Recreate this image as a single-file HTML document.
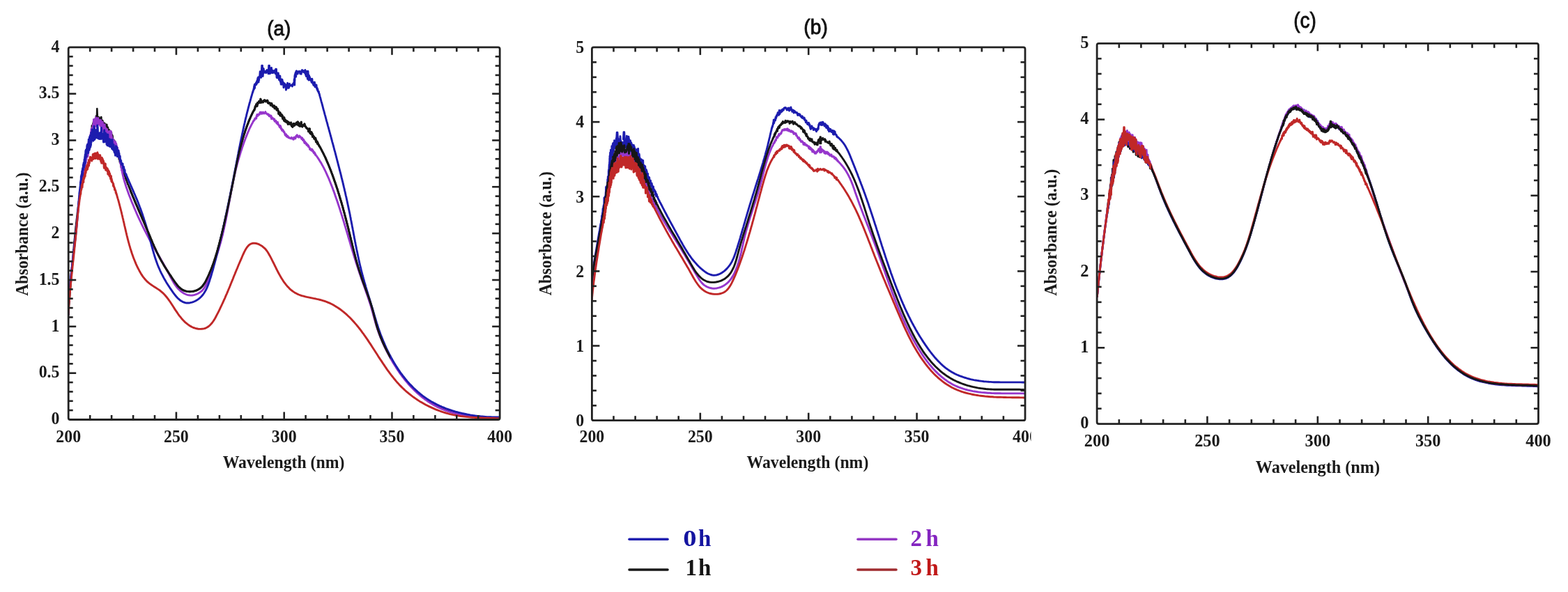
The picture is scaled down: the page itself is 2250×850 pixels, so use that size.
<!DOCTYPE html>
<html><head><meta charset="utf-8"><style>
html,body{margin:0;padding:0;background:#fff;}
svg{display:block;filter:blur(0.6px);}
</style></head><body>
<svg width="2250" height="850" viewBox="0 0 2250 850">
<defs><clipPath id="ca"><rect x="98.2" y="37.8" width="619.0" height="564.7"/></clipPath><clipPath id="cct"><rect x="1652" y="60" width="560" height="552"/></clipPath><clipPath id="cat"><rect x="186" y="60" width="374" height="545"/></clipPath><clipPath id="cb"><rect x="849.4" y="37.900000000000006" width="621.6" height="565.8000000000001"/></clipPath><clipPath id="cbl"><rect x="0" y="0" width="1479.4" height="850"/></clipPath><clipPath id="cc"><rect x="1574.1" y="32.3" width="633.4000000000001" height="576.3000000000001"/></clipPath></defs>
<rect width="2250" height="850" fill="#fff"/>
<polyline points="97.8,452.0 98.0,449.6 98.2,447.2 98.3,444.8 98.5,442.4 98.7,440.0 98.9,437.7 99.1,435.3 99.3,432.9 99.5,430.5 99.7,428.1 99.9,425.7 100.1,423.3 100.3,420.9 100.5,418.5 100.7,416.1 100.9,413.8 101.1,411.4 101.3,409.0 101.5,406.6 101.7,404.2 101.9,401.8 102.1,399.4 102.3,397.0 102.5,394.6 102.7,392.2 102.9,389.8 103.1,387.5 103.3,385.1 103.5,382.7 103.7,380.3 103.9,377.9 104.1,375.5 104.3,373.1 104.5,370.7 104.8,368.3 105.0,365.9 105.2,363.5 105.4,361.1 105.6,358.7 105.9,356.4 106.1,354.0 106.3,351.6 106.5,349.2 106.8,346.8 107.0,344.4 107.3,342.0 107.5,339.6 107.7,337.2 108.0,334.8 108.2,332.5 108.5,330.1 108.7,327.7 109.0,325.3 109.2,322.9 109.5,320.5 109.8,318.1 110.0,315.7 110.3,313.4 110.6,311.0 110.9,308.6 111.1,306.2 111.4,303.8 111.7,301.4 112.0,299.1 112.3,296.7 112.6,294.3 112.9,291.9 113.2,289.5 113.5,287.2 113.8,284.8 114.1,282.4 114.4,280.0 114.8,277.7 115.1,275.3 115.4,272.9 115.7,270.5 116.1,268.2 116.4,265.8 116.8,263.4 117.1,261.1 117.5,258.7 117.8,256.3 118.2,253.9 118.6,251.8 118.7,250.8 118.8,250.0 118.9,249.9 118.9,249.4 119.0,248.8 119.1,248.2 119.2,247.4 119.3,246.6 119.4,246.0 119.5,245.6 119.6,244.9 119.7,245.0 119.8,244.3 119.9,242.6 120.0,243.2 120.1,242.2 120.2,242.3 120.3,242.1 120.4,240.8 120.5,238.5 120.6,239.8 120.7,237.4 120.8,239.4 120.9,236.9 121.0,236.7 121.1,238.1 121.2,234.0 121.3,235.2 121.5,233.4 121.6,233.4 121.7,232.5 121.8,233.6 121.9,231.9 122.0,232.1 122.1,231.9 122.2,228.3 122.3,231.7 122.5,229.0 122.6,226.4 122.7,227.2 122.8,228.8 122.9,228.5 123.0,225.3 123.2,226.0 123.3,225.6 123.4,226.3 123.5,223.8 123.7,225.1 123.8,221.3 123.9,221.0 124.0,222.9 124.2,222.4 124.3,220.4 124.4,221.1 124.6,219.7 124.7,220.2 124.8,220.3 125.0,218.5 125.1,218.5 125.2,215.7 125.4,214.8 125.5,210.9 125.7,215.4 125.8,214.1 125.9,214.5 126.1,209.4 126.2,211.4 126.4,210.7 126.5,207.8 126.7,212.2 126.8,212.2 127.0,207.0 127.1,209.6 127.3,211.4 127.4,205.3 127.6,208.9 127.7,209.4 127.8,209.4 128.0,202.7 128.1,202.7 128.3,204.5 128.4,205.8 128.6,200.6 128.7,201.0 128.8,199.7 129.0,203.3 129.1,199.6 129.2,201.1 129.4,200.7 129.5,201.1 129.6,199.1 129.8,198.4 129.9,199.4 130.0,197.5 130.1,193.6 130.2,194.4 130.3,196.6 130.4,194.6 130.5,193.1 130.6,193.6 130.7,197.4 130.8,191.9 130.9,192.4 131.0,191.8 131.1,189.8 131.2,192.0 131.3,190.8 131.4,189.3 131.6,185.4 131.7,189.9 131.8,188.3 131.9,186.1 132.0,180.4 132.1,184.9 132.2,182.1 132.4,183.4 132.5,182.2 132.6,181.0 132.8,184.0 132.9,181.6 133.1,183.2 133.3,178.2 133.4,179.1 133.6,181.5 133.8,178.8 134.0,176.1 134.2,175.1 134.4,175.0 134.6,175.3 134.9,176.2 135.1,174.5 135.4,175.1 135.6,174.7 135.9,172.7 136.2,174.4 136.5,172.8 136.8,170.5 137.1,170.1 137.4,170.0 137.8,168.3 138.1,166.8 138.5,169.3 138.9,168.1 139.3,170.2 139.7,167.8 140.1,169.3 140.5,169.6 140.9,168.4 141.4,170.0 141.8,168.3 142.2,169.2 142.7,172.1 143.1,171.6 143.5,171.2 144.0,169.9 144.4,173.4 144.8,176.6 145.2,168.3 145.6,175.5 146.0,174.2 146.4,176.6 146.8,177.2 147.2,173.1 147.6,179.5 148.0,175.1 148.4,176.3 148.8,178.7 149.2,177.8 149.5,179.1 149.9,177.9 150.3,177.3 150.6,180.2 151.0,178.3 151.4,184.1 151.7,182.3 152.1,185.3 152.5,180.1 152.8,178.9 153.2,179.0 153.5,183.5 153.9,182.1 154.2,186.1 154.6,182.8 154.9,183.5 155.2,187.5 155.6,186.5 155.9,189.3 156.2,190.0 156.5,189.6 156.9,186.8 157.2,188.1 157.5,195.0 157.8,190.4 158.1,192.0 158.4,192.1 158.7,192.3 159.0,192.5 159.2,192.3 159.5,192.9 159.8,190.3 160.1,198.4 160.3,195.3 160.6,193.4 160.8,197.6 161.1,198.4 161.3,194.7 161.6,197.1 161.8,201.7 162.1,200.3 162.3,200.6 162.5,202.3 162.8,200.6 163.0,200.8 163.2,205.1 163.4,202.1 163.6,202.9 163.8,204.9 164.0,204.2 164.2,202.3 164.4,209.0 164.6,205.7 164.8,210.0 165.0,208.0 165.2,205.8 165.4,211.1 165.6,208.3 165.8,207.6 166.0,209.8 166.2,206.2 166.3,211.8 166.5,210.1 166.7,211.6 166.9,211.0 167.0,214.6 167.2,214.5 167.4,216.5 167.6,218.2 167.7,216.1 167.9,216.3 168.1,217.3 168.2,215.8 168.4,216.8 168.6,219.9 168.7,217.4 168.9,215.9 169.0,219.6 169.2,221.3 169.4,224.2 169.5,220.6 169.7,220.8 169.9,223.3 170.0,223.4 170.2,224.8 170.3,223.9 170.5,225.8 170.7,224.9 170.8,228.5 171.0,227.7 171.2,228.9 171.3,227.5 171.5,226.2 171.7,229.5 171.9,230.0 172.0,232.7 172.2,233.1 172.4,231.8 172.5,232.3 172.7,231.1 172.9,233.5 173.1,234.5 173.2,233.9 173.4,233.3 173.6,238.2 173.8,234.7 174.0,240.1 174.1,239.8 174.3,241.0 174.5,237.1 174.7,240.4 174.9,237.3 175.1,239.8 175.2,238.3 175.4,240.3 175.6,241.2 175.8,244.3 176.0,245.0 176.2,243.2 176.4,243.9 176.6,243.5 176.8,243.8 176.9,243.4 177.1,246.3 177.3,248.0 177.5,246.7 177.7,248.8 177.9,247.4 178.1,248.2 178.3,249.3 178.5,251.6 178.7,250.5 178.9,252.5 179.1,251.9 179.3,251.6 179.5,251.3 179.7,253.5 179.9,253.6 180.1,255.8 180.3,256.0 180.5,254.8 180.7,257.4 180.9,257.7 181.1,255.9 181.3,257.7 181.5,259.1 181.8,258.5 182.0,259.6 182.2,260.9 182.4,261.3 182.6,261.9 182.8,262.5 183.0,262.5 183.2,264.1 183.4,264.1 183.6,265.0 183.9,265.0 184.7,267.3 185.6,269.5 186.5,271.7 187.3,273.9 188.2,276.1 189.1,278.3 190.0,280.5 190.9,282.7 191.9,285.0 192.8,287.2 193.7,289.4 194.6,291.6 195.6,293.8 196.5,296.0 197.5,298.2 198.4,300.4 199.4,302.6 200.3,304.8 201.3,307.0 202.2,309.2 203.2,311.4 204.1,313.6 205.1,315.8 206.1,318.0 207.0,320.2 208.0,322.5 208.9,324.7 209.8,326.9 210.8,329.1 211.7,331.3 212.7,333.5 213.6,335.7 214.5,337.9 215.4,340.1 216.3,342.4 217.3,344.6 218.2,346.8 219.1,349.0 220.1,351.2 221.0,353.4 222.0,355.5 223.0,357.7 224.0,359.9 225.0,362.0 226.1,364.2 227.2,366.3 228.3,368.4 229.4,370.5 230.5,372.6 231.7,374.7 232.9,376.8 234.1,378.9 235.3,381.0 236.5,383.0 237.8,385.1 239.1,387.1 240.4,389.1 241.7,391.2 243.0,393.2 244.3,395.2 245.7,397.2 247.0,399.2 248.4,401.3 249.8,403.3 251.2,405.3 252.6,407.2 254.1,409.2 255.6,411.0 257.3,412.7 259.0,414.2 260.9,415.6 262.9,416.7 265.1,417.6 267.4,418.2 269.8,418.6 272.3,418.7 274.8,418.6 277.3,418.3 279.8,417.7 282.1,416.9 284.3,415.8 286.4,414.6 288.2,413.1 289.9,411.5 291.4,409.7 292.8,407.7 294.1,405.7 295.3,403.6 296.4,401.4 297.5,399.2 298.5,397.0 299.5,394.8 300.5,392.6 301.4,390.4 302.4,388.2 303.3,385.9 304.1,383.7 305.0,381.4 305.8,379.2 306.6,376.9 307.4,374.6 308.1,372.3 308.9,370.0 309.6,367.8 310.3,365.5 311.0,363.2 311.6,360.9 312.3,358.6 312.9,356.2 313.6,353.9 314.2,351.6 314.8,349.3 315.4,347.0 316.0,344.7 316.6,342.3 317.2,340.0 317.8,337.7 318.4,335.4 318.9,333.0 319.5,330.7 320.1,328.4 320.6,326.0 321.2,323.7 321.7,321.4 322.2,319.0 322.8,316.7 323.3,314.4 323.8,312.0 324.3,309.7 324.9,307.4 325.4,305.0 325.9,302.7 326.4,300.3 326.9,298.0 327.4,295.6 327.9,293.3 328.4,290.9 328.8,288.6 329.3,286.2 329.8,283.9 330.3,281.5 330.8,279.2 331.2,276.8 331.7,274.5 332.2,272.1 332.7,269.8 333.1,267.4 333.6,265.1 334.1,262.7 334.5,260.3 335.0,258.0 335.5,255.6 335.9,253.3 336.4,250.9 336.9,248.5 337.3,246.2 337.8,243.8 338.3,241.5 338.8,239.1 339.3,236.8 339.8,234.4 340.3,232.0 340.8,229.7 341.3,227.4 341.8,225.0 342.3,222.7 342.9,220.3 343.4,218.0 344.0,215.7 344.6,213.3 345.2,211.0 345.8,208.7 346.4,206.4 347.0,204.1 347.7,201.8 348.3,199.5 349.0,197.2 349.7,194.9 350.4,192.6 351.2,190.4 351.9,188.1 352.7,185.8 353.5,183.6 354.3,181.3 355.1,179.1 356.0,176.9 356.8,174.6 357.7,172.4 358.7,170.2 359.6,168.0 360.6,165.9 361.6,163.7 362.6,161.6 362.9,160.9 363.2,160.5 363.5,160.0 363.7,159.7 364.0,158.9 364.3,158.3 364.6,158.0 364.9,158.2 365.2,156.6 365.5,156.6 365.8,155.6 366.2,152.9 366.5,153.4 366.8,152.7 367.1,151.5 367.5,151.9 367.8,149.6 368.2,152.0 368.5,150.2 368.9,152.4 369.2,150.6 369.6,147.5 370.0,148.6 370.4,148.5 370.8,147.0 371.2,147.0 371.6,145.5 372.1,145.6 372.5,146.8 373.0,145.5 373.4,147.5 373.9,142.2 374.4,144.0 374.9,144.4 375.4,147.0 375.9,146.3 376.4,145.7 376.9,146.0 377.5,146.9 378.1,145.5 378.6,144.2 379.2,144.9 379.8,143.7 380.4,144.6 381.0,145.7 381.6,144.6 382.1,145.7 382.7,145.2 383.3,144.1 383.9,144.2 384.4,147.7 385.0,147.0 385.6,148.5 386.1,147.5 386.6,147.9 387.2,148.7 387.7,148.1 388.2,151.0 388.7,150.8 389.2,150.3 389.7,148.5 390.1,149.6 390.6,151.1 391.1,152.9 391.5,151.5 392.0,151.9 392.4,153.2 392.8,153.0 393.3,153.0 393.7,151.9 394.1,155.9 394.5,154.4 394.9,154.2 395.3,155.2 395.7,153.8 396.1,153.7 396.5,154.0 396.9,157.7 397.3,155.7 397.6,158.3 398.0,156.8 398.4,156.4 398.8,158.6 399.1,158.9 399.5,159.5 399.9,163.6 400.2,161.8 400.6,161.1 400.9,163.8 401.3,162.5 401.6,165.3 402.0,161.6 402.3,166.1 402.7,163.3 403.1,164.4 403.4,166.3 403.8,164.9 404.1,164.5 404.5,166.9 404.8,167.5 405.2,166.0 405.6,170.4 405.9,168.2 406.3,169.0 406.7,170.1 407.0,171.0 407.4,173.0 407.8,168.6 408.2,172.3 408.6,174.1 408.9,173.5 409.3,173.5 409.7,172.3 410.2,174.9 410.6,174.0 411.0,175.3 411.4,173.9 411.8,175.4 412.3,176.0 412.7,174.3 413.2,178.3 413.6,176.9 414.1,175.4 414.6,177.2 415.1,178.0 415.6,177.5 416.1,176.6 416.6,178.0 417.1,176.4 417.6,176.1 418.2,180.4 418.7,181.3 419.3,181.6 419.9,182.2 420.4,180.9 421.0,177.4 421.7,177.9 422.3,180.3 422.9,177.8 423.5,177.9 424.2,178.3 424.8,178.8 425.5,176.1 426.1,178.1 426.7,178.8 427.4,175.0 428.0,179.8 428.6,179.3 429.2,177.0 429.8,181.1 430.5,179.1 431.0,179.4 431.6,181.1 432.2,175.2 432.8,179.2 433.4,181.1 433.9,181.9 434.5,179.9 435.0,180.0 435.5,179.4 436.0,180.4 436.5,179.9 437.0,177.9 437.5,181.0 438.0,180.7 438.4,181.7 438.9,182.3 439.3,182.7 439.8,183.9 440.2,184.1 440.6,184.1 441.0,184.1 441.4,185.3 441.8,185.4 442.2,186.1 442.6,188.8 443.0,187.6 443.3,187.1 443.7,185.0 444.1,186.4 444.5,185.0 444.8,190.8 445.2,191.6 445.6,189.8 445.9,190.2 446.3,192.1 446.6,192.7 447.0,189.7 447.4,192.4 447.7,192.8 448.1,191.8 448.4,196.3 448.7,195.8 449.1,194.3 449.4,195.6 449.8,195.3 450.1,195.9 450.5,196.5 450.8,199.1 451.1,198.1 451.5,197.9 451.8,198.0 452.1,199.9 452.4,198.8 452.8,198.4 453.1,200.9 453.4,203.5 453.7,201.2 454.1,202.7 454.4,202.8 454.7,204.8 455.0,204.5 455.3,203.4 455.6,206.5 455.9,205.6 456.2,205.4 456.5,206.3 456.8,207.1 457.1,208.2 457.4,208.0 457.7,208.3 458.0,209.7 458.3,210.2 458.6,210.1 458.9,210.8 460.1,212.8 461.2,214.9 462.3,217.1 463.4,219.2 464.5,221.4 465.5,223.5 466.6,225.7 467.6,227.9 468.5,230.1 469.5,232.3 470.5,234.6 471.4,236.8 472.3,239.0 473.2,241.3 474.1,243.5 475.0,245.8 475.8,248.0 476.7,250.3 477.5,252.6 478.3,254.8 479.1,257.1 479.9,259.4 480.7,261.6 481.5,263.9 482.3,266.2 483.0,268.5 483.8,270.7 484.5,273.0 485.2,275.3 485.9,277.6 486.7,279.9 487.3,282.2 488.0,284.5 488.7,286.8 489.4,289.0 490.1,291.3 490.7,293.6 491.4,295.9 492.0,298.2 492.6,300.6 493.3,302.9 493.9,305.2 494.5,307.5 495.1,309.8 495.7,312.1 496.3,314.4 496.9,316.7 497.5,319.1 498.1,321.4 498.7,323.7 499.3,326.0 499.9,328.3 500.4,330.7 501.0,333.0 501.6,335.3 502.1,337.7 502.7,340.0 503.3,342.3 503.8,344.6 504.4,347.0 505.0,349.3 505.5,351.7 506.1,354.0 506.7,356.3 507.2,358.7 507.8,361.0 508.4,363.3 509.0,365.7 509.6,368.0 510.2,370.3 510.8,372.6 511.5,374.9 512.1,377.3 512.8,379.6 513.4,381.9 514.1,384.2 514.8,386.5 515.5,388.8 516.3,391.1 517.0,393.3 517.8,395.6 518.5,397.9 519.3,400.2 520.1,402.4 520.9,404.7 521.7,406.9 522.6,409.2 523.4,411.4 524.2,413.7 525.0,416.0 525.9,418.2 526.7,420.5 527.5,422.7 528.3,425.0 529.1,427.2 529.9,429.5 530.6,431.8 531.4,434.1 532.1,436.3 532.8,438.6 533.5,440.9 534.2,443.2 534.8,445.5 535.4,447.9 536.1,450.2 536.6,452.5 537.2,454.8 537.8,457.2 538.4,459.5 539.0,461.8 539.6,464.2 540.2,466.5 540.9,468.8 541.6,471.0 542.3,473.3 543.1,475.6 543.9,477.8 544.7,480.1 545.5,482.3 546.4,484.6 547.3,486.8 548.2,489.0 549.1,491.2 550.1,493.3 551.1,495.5 552.1,497.7 553.2,499.9 554.3,502.0 555.3,504.1 556.5,506.3 557.6,508.4 558.7,510.5 559.9,512.6 561.1,514.7 562.3,516.8 563.6,518.9 564.8,521.0 566.1,523.0 567.4,525.1 568.7,527.1 570.0,529.2 571.4,531.2 572.7,533.2 574.1,535.1 575.5,537.1 577.0,539.1 578.4,541.0 579.9,542.9 581.4,544.8 582.9,546.6 584.5,548.5 586.0,550.3 587.6,552.1 589.2,553.9 590.9,555.6 592.5,557.3 594.2,559.0 595.9,560.7 597.6,562.3 599.4,563.9 601.2,565.5 603.0,567.1 604.8,568.6 606.6,570.1 608.5,571.5 610.4,572.9 612.3,574.3 614.3,575.6 616.2,577.0 618.2,578.2 620.2,579.5 622.3,580.6 624.4,581.8 626.5,582.9 628.6,584.0 630.7,585.0 632.9,586.0 635.1,586.9 637.4,587.8 639.6,588.7 641.9,589.5 644.2,590.3 646.5,591.0 648.8,591.7 651.1,592.4 653.5,593.0 655.8,593.6 658.2,594.2 660.6,594.7 663.0,595.2 665.4,595.7 667.8,596.2 670.2,596.6 672.7,597.0 675.1,597.3 677.5,597.7 679.9,598.0 682.4,598.3 684.8,598.6 687.2,598.8 689.6,599.1 692.0,599.3 694.4,599.5 696.8,599.7 699.2,599.8 701.6,600.0 703.9,600.1 706.3,600.2 708.6,600.3 710.9,600.4 713.2,600.5 715.5,600.6 716.6,600.6" fill="none" stroke="#161616" stroke-width="2.9" stroke-linejoin="round" stroke-linecap="round" clip-path="url(#ca)"/><polyline points="98.0,452.0 98.0,449.6 98.1,447.2 98.2,444.8 98.3,442.4 98.4,440.0 98.5,437.6 98.6,435.2 98.8,432.8 98.9,430.4 99.1,428.0 99.2,425.6 99.4,423.2 99.6,420.9 99.8,418.5 100.0,416.1 100.2,413.7 100.4,411.3 100.6,408.9 100.8,406.5 101.0,404.1 101.3,401.7 101.5,399.3 101.8,397.0 102.0,394.6 102.3,392.2 102.5,389.8 102.8,387.4 103.0,385.0 103.3,382.6 103.6,380.3 103.9,377.9 104.1,375.5 104.4,373.1 104.7,370.7 105.0,368.3 105.2,365.9 105.5,363.6 105.8,361.2 106.1,358.8 106.4,356.4 106.6,354.0 106.9,351.6 107.2,349.2 107.5,346.9 107.7,344.5 108.0,342.1 108.3,339.7 108.5,337.3 108.8,334.9 109.0,332.5 109.3,330.2 109.5,327.8 109.8,325.4 110.0,323.0 110.3,320.6 110.5,318.2 110.7,315.8 110.9,313.5 111.2,311.1 111.4,308.7 111.6,306.3 111.8,303.9 112.0,301.5 112.3,299.1 112.5,296.7 112.7,294.4 113.0,292.0 113.2,289.6 113.5,287.2 113.7,284.8 114.0,282.4 114.2,280.1 114.5,277.7 114.8,275.3 115.1,272.9 115.4,270.6 115.8,268.2 116.1,265.7 116.4,264.1 116.5,263.3 116.6,262.7 116.7,262.6 116.7,261.7 116.8,260.9 116.9,261.5 117.0,259.6 117.1,258.4 117.2,257.7 117.3,257.7 117.4,258.1 117.5,257.7 117.6,257.4 117.7,257.7 117.8,257.0 117.9,255.3 118.1,255.6 118.2,254.2 118.3,252.0 118.4,253.4 118.5,251.7 118.6,250.7 118.7,253.8 118.8,251.2 118.9,248.4 119.1,248.6 119.2,252.6 119.3,247.1 119.4,248.5 119.5,247.7 119.7,246.9 119.8,246.6 119.9,243.5 120.0,242.9 120.2,243.1 120.3,241.9 120.4,244.4 120.5,245.9 120.7,238.6 120.8,242.1 120.9,237.0 121.0,237.2 121.2,238.0 121.3,238.5 121.4,236.2 121.6,228.6 121.7,241.0 121.8,234.9 121.9,233.1 122.1,236.6 122.2,235.9 122.3,228.8 122.5,229.6 122.6,230.5 122.7,231.7 122.9,234.8 123.0,230.4 123.1,223.9 123.3,233.3 123.4,227.7 123.5,228.3 123.7,223.8 123.8,225.9 123.9,224.7 124.1,229.4 124.2,219.6 124.3,225.2 124.5,219.4 124.6,226.1 124.7,216.0 124.9,218.9 125.0,219.3 125.1,223.0 125.3,213.6 125.4,219.2 125.5,214.7 125.6,215.2 125.8,217.7 125.9,224.8 126.0,216.6 126.2,223.6 126.3,210.4 126.4,221.9 126.5,212.4 126.7,209.0 126.8,217.4 126.9,219.4 127.0,204.3 127.2,207.9 127.3,215.4 127.4,207.9 127.5,205.8 127.7,201.4 127.8,201.4 127.9,210.0 128.0,215.3 128.1,215.0 128.2,206.5 128.4,198.2 128.5,202.4 128.6,209.2 128.7,209.4 128.8,205.7 128.9,198.6 129.0,202.8 129.1,201.4 129.2,203.2 129.4,196.8 129.5,207.1 129.6,205.7 129.7,193.4 129.8,194.9 129.9,203.7 130.0,193.6 130.1,203.6 130.2,196.2 130.3,198.5 130.3,198.1 130.4,189.6 130.5,190.2 130.6,189.1 130.7,195.4 130.8,195.0 130.9,185.4 131.0,196.9 131.1,188.8 131.3,185.4 131.4,187.9 131.5,196.0 131.6,188.7 131.8,189.2 131.9,193.3 132.1,193.3 132.2,189.5 132.4,183.4 132.6,185.5 132.8,189.9 133.0,187.5 133.2,183.6 133.4,179.2 133.7,178.9 133.9,184.1 134.2,180.7 134.5,171.4 134.8,181.8 135.1,184.3 135.4,182.1 135.7,183.1 136.1,182.8 136.4,176.4 136.8,180.0 137.2,173.1 137.6,168.3 138.0,172.2 138.4,171.4 138.8,181.3 139.2,177.4 139.7,175.2 140.1,176.6 140.6,168.9 141.0,175.7 141.5,178.7 142.0,174.2 142.4,172.3 142.9,175.3 143.3,174.4 143.8,180.7 144.2,172.6 144.6,172.3 145.1,176.4 145.5,183.1 145.9,184.6 146.3,183.6 146.6,188.5 147.0,179.9 147.3,175.0 147.6,182.8 148.0,182.6 148.3,178.8 148.6,187.1 148.9,182.4 149.2,181.2 149.6,183.0 149.9,193.4 150.2,178.8 150.6,184.9 150.9,184.1 151.3,183.3 151.6,187.5 152.0,184.5 152.4,196.2 152.7,189.9 153.1,193.6 153.5,185.4 153.9,190.7 154.3,193.5 154.7,197.7 155.0,188.7 155.4,192.5 155.8,199.3 156.2,197.7 156.6,196.3 157.0,192.2 157.4,188.1 157.8,194.3 158.2,191.3 158.6,201.0 158.9,191.6 159.3,188.4 159.7,192.6 160.1,196.9 160.4,195.7 160.8,205.1 161.2,198.5 161.5,205.0 161.9,199.4 162.2,204.4 162.5,204.2 162.8,205.0 163.2,201.0 163.5,203.3 163.8,210.5 164.1,206.8 164.4,203.9 164.6,213.6 164.9,204.1 165.2,205.4 165.4,212.4 165.7,203.7 166.0,208.2 166.2,210.8 166.4,206.4 166.7,206.3 166.9,207.3 167.1,208.6 167.4,209.0 167.6,214.6 167.8,213.0 168.0,216.4 168.2,212.6 168.4,216.6 168.6,212.0 168.8,218.5 168.9,217.4 169.1,218.5 169.3,217.6 169.5,224.0 169.6,218.2 169.8,219.4 169.9,222.1 170.1,217.2 170.3,222.0 170.4,220.2 170.5,222.2 170.7,221.4 170.8,225.9 171.0,226.8 171.1,225.3 171.2,224.3 171.4,226.1 171.5,226.2 171.6,226.9 171.7,227.9 171.9,228.6 172.0,229.6 172.1,229.1 172.2,228.8 172.3,230.9 172.4,232.0 172.5,230.7 172.7,234.8 172.8,232.5 172.9,233.2 173.0,233.5 173.1,233.3 173.2,233.9 173.3,236.4 173.4,235.3 173.5,235.5 173.6,236.1 173.7,238.2 173.8,237.4 173.9,239.8 174.0,239.3 174.1,241.3 174.3,239.8 174.4,241.7 174.5,242.1 174.6,244.9 174.7,242.0 174.8,244.3 174.9,244.1 175.0,243.7 175.1,245.7 175.3,245.9 175.4,246.4 175.5,248.2 175.6,248.4 175.7,247.9 175.9,249.7 176.0,250.2 176.1,250.8 176.3,251.4 176.4,251.9 176.5,252.5 176.7,253.0 176.8,253.8 177.0,254.0 177.1,254.5 177.2,255.8 177.9,257.6 178.5,260.0 179.2,262.2 179.9,264.5 180.6,266.8 181.3,269.1 182.1,271.3 182.9,273.6 183.7,275.8 184.5,278.1 185.3,280.3 186.2,282.5 187.1,284.8 188.0,287.0 188.8,289.2 189.7,291.4 190.7,293.6 191.6,295.8 192.5,298.1 193.5,300.3 194.4,302.5 195.4,304.7 196.3,306.9 197.3,309.1 198.3,311.3 199.3,313.4 200.3,315.6 201.4,317.8 202.4,320.0 203.4,322.1 204.5,324.3 205.5,326.5 206.6,328.6 207.7,330.8 208.8,332.9 209.9,335.0 211.0,337.2 212.1,339.3 213.2,341.4 214.3,343.5 215.5,345.6 216.6,347.7 217.8,349.8 219.0,351.9 220.1,354.0 221.3,356.0 222.5,358.1 223.7,360.2 224.9,362.2 226.1,364.3 227.3,366.3 228.5,368.4 229.7,370.5 230.9,372.5 232.1,374.6 233.3,376.7 234.5,378.8 235.7,380.9 236.8,383.0 238.0,385.1 239.2,387.2 240.3,389.3 241.5,391.5 242.6,393.6 243.7,395.8 244.8,398.0 246.0,400.1 247.2,402.3 248.4,404.4 249.6,406.4 250.9,408.4 252.3,410.4 253.7,412.3 255.2,414.1 256.9,415.8 258.6,417.4 260.4,418.9 262.4,420.3 264.4,421.5 266.6,422.5 268.8,423.3 271.1,423.8 273.5,424.1 275.9,424.0 278.3,423.6 280.7,422.9 283.1,422.0 285.3,420.8 287.4,419.4 289.4,417.9 291.1,416.1 292.6,414.3 293.9,412.3 295.0,410.2 296.1,408.0 297.0,405.8 297.9,403.6 298.7,401.3 299.6,399.0 300.4,396.8 301.2,394.5 302.1,392.2 302.9,389.9 303.7,387.7 304.5,385.4 305.3,383.1 306.1,380.9 306.9,378.6 307.7,376.3 308.5,374.1 309.3,371.8 310.0,369.5 310.8,367.3 311.5,365.0 312.3,362.7 313.0,360.4 313.7,358.1 314.4,355.8 315.0,353.5 315.7,351.2 316.4,348.9 317.0,346.6 317.6,344.3 318.2,342.0 318.8,339.7 319.4,337.4 319.9,335.0 320.5,332.7 321.0,330.3 321.5,328.0 322.0,325.7 322.5,323.3 323.0,321.0 323.5,318.6 324.0,316.2 324.4,313.9 324.9,311.5 325.4,309.2 325.8,306.8 326.3,304.4 326.7,302.1 327.1,299.7 327.6,297.3 328.0,295.0 328.4,292.6 328.9,290.2 329.3,287.9 329.7,285.5 330.2,283.1 330.6,280.8 331.1,278.4 331.5,276.0 331.9,273.7 332.4,271.3 332.9,269.0 333.3,266.6 333.8,264.2 334.3,261.9 334.8,259.5 335.3,257.2 335.8,254.9 336.3,252.5 336.8,250.2 337.3,247.8 337.9,245.5 338.4,243.2 339.0,240.9 339.6,238.6 340.2,236.3 340.8,233.9 341.5,231.6 342.1,229.4 342.8,227.1 343.5,224.8 344.2,222.5 344.9,220.2 345.6,217.9 346.3,215.7 347.1,213.4 347.8,211.1 348.6,208.9 349.4,206.6 350.2,204.3 351.0,202.1 351.9,199.8 352.7,197.6 353.6,195.4 354.5,193.1 355.4,190.9 356.4,188.6 357.3,186.4 358.3,184.2 359.4,182.0 360.5,179.9 361.6,177.7 362.8,175.6 363.4,174.0 363.7,174.2 364.0,173.5 364.3,173.3 364.7,172.2 365.0,172.1 365.3,172.2 365.7,170.3 366.0,170.7 366.3,169.7 366.7,169.9 367.0,169.8 367.4,169.0 367.8,170.2 368.1,166.7 368.5,167.2 368.9,164.4 369.3,165.6 369.7,166.2 370.1,166.3 370.5,164.3 370.9,164.4 371.3,164.0 371.8,164.0 372.2,164.5 372.6,163.0 373.1,161.3 373.5,162.8 374.0,161.7 374.5,161.0 375.0,163.4 375.5,163.1 376.0,161.9 376.5,162.3 377.0,163.1 377.5,161.1 378.1,161.7 378.6,162.1 379.2,163.0 379.8,161.9 380.4,162.2 380.9,160.6 381.5,162.4 382.1,163.2 382.7,162.9 383.3,163.5 383.9,164.5 384.5,164.5 385.1,163.8 385.7,166.0 386.3,166.8 386.9,165.3 387.4,166.0 388.0,166.6 388.6,168.1 389.1,166.1 389.6,170.8 390.1,168.4 390.6,170.2 391.1,169.2 391.6,170.3 392.0,170.1 392.5,171.4 392.9,171.1 393.3,172.6 393.8,171.0 394.2,174.4 394.6,172.9 395.0,174.3 395.3,173.5 395.7,173.6 396.1,173.5 396.4,175.1 396.8,176.8 397.2,176.7 397.5,177.0 397.8,177.3 398.2,178.3 398.5,175.4 398.9,178.0 399.2,178.2 399.5,178.4 399.9,179.8 400.2,180.3 400.5,179.9 400.8,181.3 401.2,182.6 401.5,181.1 401.9,181.4 402.2,180.5 402.5,183.6 402.9,181.7 403.2,184.8 403.6,184.0 404.0,185.9 404.3,184.9 404.7,187.4 405.1,186.9 405.5,186.7 405.9,186.5 406.2,188.2 406.6,187.7 407.1,189.5 407.5,189.0 407.9,189.6 408.3,190.6 408.7,192.2 409.2,194.0 409.6,192.9 410.0,193.3 410.5,192.7 410.9,195.9 411.4,194.1 411.8,195.9 412.3,196.7 412.7,195.1 413.2,196.5 413.7,196.4 414.1,197.7 414.6,197.4 415.1,197.5 415.5,198.3 416.0,198.4 416.5,198.4 417.0,198.7 417.5,198.9 418.0,197.8 418.4,197.4 418.9,198.8 419.4,199.2 419.9,198.5 420.4,198.9 420.9,200.3 421.4,200.2 421.9,197.1 422.4,197.2 422.9,197.6 423.4,198.2 423.9,199.0 424.4,196.9 424.8,195.3 425.3,196.3 425.8,195.2 426.3,193.8 426.8,195.1 427.3,196.5 427.7,196.3 428.2,196.2 428.7,197.2 429.1,196.5 429.6,194.9 430.0,196.1 430.5,196.6 430.9,196.0 431.4,197.3 431.8,197.4 432.3,198.3 432.7,199.5 433.2,198.5 433.6,197.9 434.0,199.4 434.5,201.5 434.9,200.4 435.3,200.0 435.8,201.7 436.2,201.4 436.6,204.7 437.1,205.4 437.5,204.6 437.9,203.6 438.3,205.2 438.8,206.5 439.2,206.3 439.6,205.5 440.0,208.2 440.5,207.7 440.9,207.1 441.3,208.9 441.7,207.8 442.1,210.4 442.6,209.0 443.0,209.9 443.4,211.4 443.8,211.6 444.2,211.9 444.6,214.5 445.0,213.2 445.4,213.7 445.8,214.3 446.2,215.4 446.6,216.0 447.0,214.2 447.4,215.0 447.8,216.4 448.1,214.5 448.5,217.1 448.9,216.9 449.3,216.3 449.6,218.6 450.0,218.1 450.4,219.8 450.7,218.8 451.1,218.5 451.5,220.7 451.8,219.7 452.2,220.9 452.5,222.4 452.9,221.8 453.2,222.6 453.6,223.5 453.9,223.5 454.3,223.9 454.6,224.5 455.9,226.4 457.2,228.4 458.5,230.4 459.7,232.4 461.0,234.4 462.1,236.5 463.3,238.6 464.4,240.7 465.5,242.9 466.6,245.0 467.6,247.2 468.6,249.4 469.6,251.6 470.6,253.8 471.6,256.0 472.5,258.2 473.4,260.5 474.3,262.7 475.2,265.0 476.1,267.3 477.0,269.5 477.8,271.8 478.7,274.1 479.5,276.3 480.3,278.6 481.1,280.9 481.9,283.2 482.7,285.4 483.5,287.7 484.3,290.0 485.0,292.3 485.8,294.6 486.5,296.8 487.3,299.1 488.0,301.4 488.7,303.7 489.5,306.0 490.2,308.3 490.9,310.5 491.6,312.8 492.3,315.1 493.0,317.4 493.7,319.7 494.4,322.0 495.1,324.3 495.8,326.6 496.4,328.9 497.1,331.1 497.8,333.4 498.5,335.7 499.2,338.0 499.8,340.3 500.5,342.6 501.2,344.9 501.9,347.2 502.6,349.5 503.2,351.8 503.9,354.1 504.6,356.3 505.3,358.6 506.0,360.9 506.7,363.2 507.4,365.5 508.1,367.8 508.8,370.1 509.5,372.3 510.2,374.6 510.9,376.9 511.7,379.2 512.4,381.5 513.2,383.8 513.9,386.0 514.7,388.3 515.4,390.6 516.2,392.9 517.0,395.1 517.8,397.4 518.5,399.7 519.3,402.0 520.1,404.2 520.9,406.5 521.7,408.8 522.5,411.1 523.3,413.3 524.1,415.6 524.9,417.9 525.7,420.2 526.5,422.4 527.3,424.7 528.1,427.0 528.8,429.3 529.6,431.6 530.3,433.9 531.1,436.1 531.8,438.4 532.5,440.7 533.1,443.0 533.8,445.3 534.5,447.6 535.1,450.0 535.7,452.3 536.4,454.6 537.0,456.9 537.6,459.2 538.3,461.5 538.9,463.8 539.6,466.1 540.3,468.4 541.0,470.6 541.8,472.9 542.5,475.1 543.3,477.4 544.1,479.6 545.0,481.9 545.9,484.1 546.8,486.3 547.7,488.5 548.6,490.7 549.6,492.9 550.6,495.1 551.6,497.3 552.6,499.4 553.7,501.6 554.7,503.7 555.8,505.9 556.9,508.0 558.1,510.1 559.2,512.3 560.4,514.4 561.6,516.5 562.8,518.6 564.0,520.7 565.3,522.7 566.6,524.8 567.9,526.8 569.2,528.9 570.5,530.9 571.9,532.9 573.2,534.9 574.6,536.9 576.1,538.8 577.5,540.8 579.0,542.7 580.4,544.6 582.0,546.5 583.5,548.3 585.0,550.1 586.6,552.0 588.2,553.7 589.8,555.5 591.5,557.2 593.2,558.9 594.8,560.6 596.6,562.3 598.3,563.9 600.1,565.5 601.8,567.0 603.7,568.6 605.5,570.1 607.4,571.5 609.2,573.0 611.2,574.3 613.1,575.7 615.1,577.0 617.0,578.3 619.1,579.5 621.1,580.7 623.2,581.9 625.2,583.0 627.4,584.1 629.5,585.2 631.7,586.1 633.9,587.1 636.1,588.0 638.3,588.9 640.6,589.7 642.9,590.5 645.2,591.3 647.5,592.0 649.8,592.7 652.2,593.3 654.5,593.9 656.9,594.5 659.3,595.0 661.7,595.5 664.1,596.0 666.5,596.5 668.9,596.9 671.3,597.3 673.8,597.7 676.2,598.0 678.6,598.3 681.1,598.6 683.5,598.9 685.9,599.1 688.3,599.3 690.7,599.5 693.1,599.7 695.5,599.9 697.9,600.0 700.3,600.1 702.7,600.3 705.0,600.3 707.4,600.4 709.7,600.5 712.0,600.5 714.3,600.6 716.6,600.6" fill="none" stroke="#9636cc" stroke-width="2.9" stroke-linejoin="round" stroke-linecap="round" clip-path="url(#ca)"/><polyline points="98.2,452.0 98.3,449.6 98.3,447.2 98.4,444.8 98.4,442.4 98.5,440.0 98.6,437.6 98.7,435.2 98.8,432.8 99.0,430.4 99.1,428.0 99.2,425.6 99.4,423.2 99.6,420.9 99.8,418.5 100.0,416.1 100.2,413.7 100.4,411.3 100.6,408.9 100.8,406.5 101.0,404.1 101.3,401.7 101.5,399.4 101.8,397.0 102.0,394.6 102.3,392.2 102.5,389.8 102.8,387.4 103.1,385.0 103.4,382.6 103.6,380.3 103.9,377.9 104.2,375.5 104.5,373.1 104.8,370.7 105.1,368.3 105.3,365.9 105.6,363.6 105.9,361.2 106.2,358.8 106.5,356.4 106.8,354.0 107.1,351.6 107.3,349.3 107.6,346.9 107.9,344.5 108.2,342.1 108.4,339.7 108.7,337.3 108.9,334.9 109.2,332.6 109.4,330.2 109.7,327.8 109.9,325.4 110.1,323.0 110.4,320.6 110.6,318.2 110.8,315.8 111.0,313.4 111.2,311.1 111.4,308.7 111.6,306.3 111.8,303.9 112.0,301.5 112.2,299.2 112.3,297.5 112.4,296.4 112.4,295.6 112.5,295.5 112.5,295.2 112.6,294.3 112.6,293.2 112.7,292.9 112.7,293.2 112.8,291.3 112.8,291.9 112.9,291.0 112.9,290.4 113.0,290.0 113.0,288.6 113.1,288.3 113.1,289.0 113.2,286.9 113.2,286.3 113.3,284.9 113.3,285.0 113.4,285.4 113.4,285.3 113.5,284.2 113.6,283.6 113.6,283.0 113.7,282.1 113.7,282.2 113.8,280.5 113.8,281.2 113.9,279.4 113.9,277.0 114.0,276.7 114.1,277.4 114.1,276.5 114.2,274.9 114.2,274.8 114.3,275.5 114.4,275.2 114.4,275.3 114.5,272.2 114.5,273.5 114.6,273.9 114.7,272.3 114.7,274.0 114.8,269.7 114.9,269.9 114.9,269.6 115.0,268.0 115.1,268.0 115.1,268.0 115.2,266.9 115.3,265.4 115.3,264.9 115.4,265.0 115.5,261.4 115.6,264.3 115.6,261.0 115.7,262.2 115.8,259.8 115.8,261.8 115.9,260.1 116.0,259.8 116.1,258.0 116.2,259.5 116.2,262.6 116.3,253.4 116.4,258.8 116.5,257.4 116.6,255.2 116.6,252.2 116.7,259.5 116.8,255.0 116.9,256.8 117.0,252.2 117.1,250.4 117.2,255.4 117.3,253.8 117.4,250.0 117.4,249.6 117.5,251.7 117.6,246.5 117.7,245.7 117.8,247.8 117.9,250.9 118.0,249.8 118.1,246.8 118.2,250.4 118.3,244.4 118.4,242.6 118.5,252.6 118.6,241.4 118.7,244.9 118.9,244.2 119.0,241.9 119.1,241.8 119.2,243.1 119.3,241.9 119.4,236.7 119.5,238.5 119.6,243.7 119.8,240.4 119.9,234.9 120.0,240.0 120.1,233.6 120.2,235.9 120.4,235.8 120.5,240.5 120.6,237.2 120.8,232.7 120.9,237.4 121.0,229.3 121.1,228.9 121.3,237.8 121.4,230.4 121.6,233.6 121.7,225.3 121.8,235.0 122.0,229.2 122.1,222.3 122.3,233.8 122.4,225.0 122.6,222.0 122.7,220.0 122.9,216.4 123.0,217.6 123.2,226.2 123.3,215.2 123.5,216.8 123.6,219.8 123.8,221.1 124.0,217.3 124.1,224.8 124.3,213.6 124.5,215.3 124.6,215.8 124.8,209.3 125.0,210.6 125.1,208.5 125.3,219.5 125.5,207.3 125.7,217.2 125.8,207.7 126.0,215.6 126.2,215.2 126.4,208.6 126.6,219.6 126.8,213.5 127.0,210.9 127.2,200.1 127.4,206.7 127.6,203.3 127.8,206.8 128.0,215.5 128.2,213.5 128.4,196.9 128.6,208.7 128.8,213.2 129.0,204.8 129.2,195.3 129.4,210.1 129.6,200.7 129.8,211.2 130.1,208.5 130.3,207.0 130.5,208.5 130.7,190.6 131.0,204.6 131.2,194.2 131.4,190.3 131.7,194.6 131.9,198.2 132.2,185.9 132.4,194.3 132.7,200.5 132.9,194.1 133.2,194.3 133.5,189.2 133.8,202.2 134.1,187.3 134.4,195.5 134.7,194.4 135.0,181.1 135.4,200.7 135.8,185.2 136.1,200.0 136.5,198.5 136.9,197.7 137.3,196.7 137.8,187.4 138.2,188.2 138.7,186.2 139.2,198.0 139.7,179.9 140.2,182.2 140.8,198.7 141.3,195.9 141.9,194.1 142.5,199.6 143.0,191.0 143.6,197.6 144.2,190.1 144.8,199.6 145.4,183.4 145.9,191.2 146.5,194.4 147.0,199.2 147.5,192.2 148.0,197.9 148.5,204.1 148.9,193.6 149.3,189.7 149.7,186.7 150.1,203.8 150.5,196.6 150.8,195.3 151.2,198.4 151.5,190.9 151.9,193.4 152.2,194.1 152.6,195.0 153.0,207.5 153.3,195.7 153.7,193.0 154.1,209.0 154.5,203.3 154.9,193.1 155.3,206.5 155.7,207.2 156.1,206.9 156.5,209.8 156.9,203.2 157.3,199.7 157.7,210.5 158.1,208.6 158.6,210.5 159.0,200.9 159.4,205.0 159.8,211.4 160.2,202.7 160.6,213.6 161.1,200.5 161.5,211.1 161.9,206.6 162.3,215.3 162.7,212.9 163.1,207.8 163.5,214.9 163.9,218.2 164.3,218.7 164.6,219.7 165.0,212.3 165.4,223.2 165.7,212.3 166.1,214.6 166.4,209.7 166.8,215.3 167.1,211.2 167.4,217.6 167.8,211.3 168.1,224.7 168.4,221.5 168.7,224.6 168.9,223.6 169.2,220.8 169.5,222.3 169.8,221.9 170.0,216.0 170.3,218.8 170.5,221.7 170.8,226.2 171.0,220.0 171.2,225.1 171.5,223.5 171.7,227.7 171.9,228.2 172.1,224.0 172.3,224.3 172.5,231.6 172.7,231.1 172.9,228.9 173.1,231.6 173.3,230.3 173.5,231.8 173.7,230.4 173.9,233.0 174.1,236.1 174.3,236.1 174.5,236.2 174.7,234.4 174.9,236.6 175.1,234.4 175.3,235.2 175.5,236.7 175.7,234.9 175.9,237.9 176.1,235.0 176.3,241.5 176.5,240.6 176.7,240.3 176.9,239.2 177.1,240.0 177.3,240.9 177.6,239.5 177.8,242.0 178.0,241.8 178.2,244.9 178.4,246.1 178.6,246.7 178.8,243.7 179.1,244.2 179.3,248.2 179.5,248.0 179.7,248.8 180.0,248.9 180.2,249.0 180.4,251.4 180.6,250.7 180.9,251.0 181.1,250.1 181.3,251.6 181.6,253.1 181.8,253.0 182.0,253.8 182.2,253.6 182.5,254.7 182.7,254.5 182.9,255.3 183.2,256.5 183.4,257.3 183.7,256.9 183.9,257.5 184.1,258.0 184.4,258.6 184.6,259.2 184.8,260.0 185.8,262.0 186.8,264.2 187.7,266.4 188.7,268.6 189.7,270.8 190.6,272.9 191.6,275.1 192.5,277.3 193.5,279.5 194.4,281.7 195.3,283.9 196.3,286.2 197.2,288.4 198.1,290.6 198.9,292.8 199.8,295.1 200.6,297.3 201.5,299.5 202.3,301.8 203.1,304.0 203.9,306.3 204.7,308.6 205.4,310.8 206.2,313.1 206.9,315.4 207.7,317.7 208.4,319.9 209.1,322.2 209.8,324.5 210.5,326.8 211.2,329.1 211.8,331.4 212.5,333.7 213.1,336.1 213.8,338.4 214.4,340.7 215.0,343.0 215.7,345.3 216.3,347.7 216.9,350.0 217.5,352.3 218.1,354.7 218.8,357.0 219.4,359.3 220.1,361.6 220.7,363.9 221.4,366.2 222.1,368.5 222.8,370.8 223.6,373.0 224.4,375.3 225.2,377.5 226.0,379.8 226.9,382.0 227.8,384.2 228.8,386.3 229.7,388.5 230.7,390.7 231.8,392.8 232.9,394.9 234.0,397.0 235.1,399.1 236.3,401.2 237.5,403.3 238.7,405.4 240.0,407.5 241.3,409.5 242.7,411.6 244.0,413.7 245.4,415.7 246.8,417.7 248.3,419.8 249.8,421.8 251.3,423.8 252.9,425.7 254.5,427.5 256.2,429.2 258.0,430.7 259.8,432.0 261.7,433.1 263.7,434.0 265.9,434.7 268.1,435.0 270.4,435.0 272.8,434.7 275.3,434.1 277.8,433.3 280.2,432.2 282.4,431.0 284.5,429.6 286.4,428.1 288.2,426.5 289.8,424.8 291.3,423.0 292.7,421.0 293.9,419.0 295.1,417.0 296.2,414.8 297.2,412.6 298.1,410.4 299.0,408.1 299.8,405.8 300.6,403.5 301.3,401.1 302.1,398.8 302.8,396.5 303.5,394.2 304.1,391.9 304.8,389.6 305.5,387.3 306.1,384.9 306.7,382.6 307.3,380.3 308.0,378.0 308.6,375.7 309.2,373.4 309.8,371.1 310.3,368.8 310.9,366.5 311.5,364.2 312.1,361.8 312.7,359.5 313.2,357.2 313.8,354.9 314.4,352.5 314.9,350.2 315.5,347.9 316.0,345.6 316.6,343.2 317.1,340.9 317.7,338.6 318.2,336.2 318.7,333.9 319.3,331.5 319.8,329.2 320.3,326.9 320.8,324.5 321.4,322.2 321.9,319.8 322.4,317.5 322.9,315.1 323.4,312.8 323.9,310.4 324.4,308.1 324.9,305.7 325.4,303.4 325.9,301.0 326.4,298.7 326.9,296.3 327.4,293.9 327.9,291.6 328.4,289.2 328.8,286.9 329.3,284.5 329.8,282.2 330.3,279.8 330.7,277.5 331.2,275.1 331.7,272.7 332.2,270.4 332.6,268.0 333.1,265.7 333.6,263.3 334.0,261.0 334.5,258.6 335.0,256.2 335.4,253.9 335.9,251.5 336.3,249.2 336.8,246.8 337.2,244.5 337.7,242.1 338.2,239.8 338.6,237.4 339.1,235.1 339.5,232.7 340.0,230.4 340.4,228.0 340.9,225.7 341.3,223.3 341.8,221.0 342.2,218.6 342.7,216.3 343.2,213.9 343.6,211.6 344.1,209.2 344.6,206.9 345.0,204.5 345.5,202.2 346.0,199.9 346.5,197.5 347.0,195.2 347.5,192.8 348.0,190.5 348.5,188.2 349.0,185.8 349.5,183.5 350.0,181.1 350.5,178.8 351.1,176.5 351.6,174.1 352.1,171.8 352.7,169.4 353.3,167.1 353.8,164.8 354.4,162.4 355.0,160.1 355.6,157.8 356.2,155.4 356.8,153.1 357.4,150.8 358.0,148.4 358.7,146.1 359.3,143.8 360.0,141.4 360.6,139.1 361.3,136.8 362.0,134.4 362.5,132.8 362.7,131.6 362.9,131.5 363.1,131.8 363.3,129.9 363.5,129.5 363.6,129.4 363.8,129.4 364.0,127.9 364.2,126.6 364.4,128.4 364.6,124.0 364.8,124.8 365.0,124.3 365.2,121.7 365.4,126.0 365.6,126.4 365.8,120.7 366.0,121.8 366.3,121.5 366.5,122.6 366.7,120.4 366.9,121.4 367.2,120.7 367.4,118.8 367.6,118.7 367.9,121.4 368.1,118.0 368.4,118.6 368.6,116.4 368.9,117.7 369.1,119.3 369.4,115.1 369.7,113.2 369.9,112.1 370.2,115.8 370.5,111.0 370.8,113.5 371.1,117.9 371.4,111.9 371.7,115.1 372.0,110.4 372.3,109.7 372.6,110.8 372.9,106.8 373.2,102.6 373.5,107.9 373.9,105.8 374.2,107.6 374.6,111.3 375.0,107.7 375.4,102.1 375.8,106.4 376.2,100.7 376.7,99.4 377.2,109.5 377.7,101.8 378.2,98.5 378.8,103.3 379.3,102.8 379.9,104.2 380.5,102.5 381.1,102.2 381.7,104.6 382.4,102.1 383.0,100.6 383.6,103.2 384.3,100.9 384.9,104.8 385.6,102.3 386.3,101.8 386.9,101.2 387.6,103.7 388.2,104.8 388.9,101.7 389.5,97.2 390.2,104.6 390.8,101.0 391.4,104.5 392.0,101.7 392.6,104.4 393.2,103.1 393.7,102.0 394.3,101.0 394.8,104.3 395.3,105.2 395.8,101.2 396.3,99.6 396.7,106.5 397.1,111.5 397.5,104.7 397.9,106.5 398.3,104.9 398.6,104.9 399.0,112.1 399.3,104.9 399.6,110.0 399.9,108.1 400.2,111.8 400.5,114.7 400.8,111.8 401.1,111.2 401.4,115.1 401.6,112.2 401.9,109.0 402.2,117.3 402.5,113.3 402.8,115.6 403.2,121.1 403.5,118.4 403.8,117.4 404.2,121.2 404.5,115.5 404.9,114.1 405.3,115.9 405.7,119.4 406.1,120.1 406.6,118.4 407.0,125.7 407.5,122.9 407.9,121.7 408.4,119.9 408.9,121.8 409.4,123.0 409.9,121.7 410.4,129.1 411.0,127.2 411.5,124.8 412.1,123.4 412.6,119.2 413.2,126.2 413.8,121.9 414.4,126.2 415.0,124.6 415.5,120.2 416.1,123.5 416.7,122.7 417.2,122.5 417.8,122.6 418.3,122.8 418.8,121.8 419.3,124.0 419.8,123.1 420.2,121.0 420.6,120.6 420.9,119.8 421.2,119.3 421.5,119.4 421.8,119.8 422.0,118.1 422.2,113.7 422.4,117.9 422.5,115.0 422.6,116.6 422.7,122.1 422.8,118.0 422.9,109.1 422.9,110.0 423.0,116.1 423.0,111.2 423.1,108.6 423.1,107.6 423.2,110.9 423.2,108.7 423.3,110.0 423.4,108.7 423.4,108.9 423.6,107.3 423.7,105.8 423.8,109.0 424.0,110.5 424.2,104.1 424.4,105.4 424.7,110.3 425.0,102.2 425.4,101.8 425.7,105.5 426.2,106.0 426.6,103.5 427.2,106.0 427.7,102.7 428.3,103.3 428.9,102.6 429.5,103.3 430.2,102.4 430.8,105.9 431.5,104.1 432.2,106.3 432.8,102.0 433.5,100.5 434.1,101.0 434.8,101.6 435.4,103.5 436.0,101.9 436.5,103.8 437.1,104.4 437.6,100.8 438.0,100.5 438.5,107.5 439.0,103.1 439.4,109.6 439.8,104.6 440.2,102.4 440.6,103.3 440.9,104.7 441.3,113.4 441.6,103.0 442.0,102.3 442.3,106.3 442.6,109.2 442.9,115.0 443.2,112.5 443.5,108.2 443.8,114.9 444.1,114.8 444.5,110.5 444.8,114.1 445.1,114.1 445.4,113.4 445.7,113.1 446.1,113.4 446.4,116.4 446.8,114.5 447.1,118.4 447.5,118.4 447.9,113.3 448.3,118.7 448.7,117.7 449.1,120.5 449.5,118.1 449.9,122.3 450.2,122.0 450.6,122.6 451.0,122.3 451.4,117.9 451.8,121.6 452.1,124.9 452.5,124.8 452.8,124.5 453.1,123.6 453.4,124.0 453.7,122.0 454.0,121.9 454.3,125.3 454.6,127.5 454.9,126.3 455.1,126.4 455.4,127.5 455.6,130.0 455.9,128.0 456.1,129.2 456.3,130.2 456.5,131.5 456.7,131.4 457.0,131.0 457.2,131.6 457.4,131.7 457.5,133.0 457.7,134.4 457.9,134.4 458.1,134.6 458.3,134.8 458.5,135.8 458.6,136.9 458.8,137.3 459.0,137.8 459.1,138.5 459.3,139.1 459.9,141.2 460.5,143.5 461.1,145.8 461.8,148.1 462.4,150.4 463.0,152.7 463.6,155.1 464.2,157.4 464.9,159.7 465.5,162.0 466.1,164.3 466.8,166.7 467.4,169.0 468.0,171.3 468.6,173.6 469.3,175.9 469.9,178.2 470.5,180.6 471.2,182.9 471.8,185.2 472.4,187.5 473.1,189.8 473.7,192.2 474.3,194.5 475.0,196.8 475.6,199.1 476.2,201.4 476.8,203.8 477.5,206.1 478.1,208.4 478.7,210.7 479.3,213.0 479.9,215.4 480.6,217.7 481.2,220.0 481.8,222.3 482.4,224.7 483.0,227.0 483.6,229.3 484.2,231.6 484.8,233.9 485.4,236.3 486.0,238.6 486.6,240.9 487.2,243.3 487.8,245.6 488.4,247.9 489.0,250.2 489.6,252.6 490.1,254.9 490.7,257.2 491.3,259.6 491.9,261.9 492.4,264.2 493.0,266.6 493.5,268.9 494.1,271.2 494.6,273.6 495.2,275.9 495.7,278.2 496.2,280.6 496.8,282.9 497.3,285.2 497.8,287.6 498.3,289.9 498.8,292.3 499.3,294.6 499.8,296.9 500.3,299.3 500.8,301.6 501.3,304.0 501.8,306.3 502.3,308.7 502.7,311.0 503.2,313.4 503.6,315.7 504.1,318.1 504.5,320.4 505.0,322.8 505.4,325.1 505.9,327.5 506.3,329.8 506.8,332.2 507.2,334.5 507.6,336.9 508.1,339.2 508.5,341.6 509.0,344.0 509.4,346.3 509.9,348.7 510.3,351.0 510.8,353.4 511.3,355.7 511.7,358.1 512.2,360.4 512.7,362.8 513.2,365.1 513.7,367.5 514.2,369.8 514.7,372.2 515.2,374.5 515.7,376.8 516.2,379.2 516.8,381.5 517.4,383.9 517.9,386.2 518.5,388.5 519.1,390.9 519.7,393.2 520.3,395.5 521.0,397.9 521.6,400.2 522.3,402.5 522.9,404.9 523.6,407.2 524.3,409.5 524.9,411.8 525.6,414.1 526.3,416.4 527.0,418.7 527.7,421.1 528.4,423.4 529.1,425.7 529.8,427.9 530.5,430.2 531.2,432.5 531.9,434.8 532.6,437.1 533.3,439.4 534.0,441.6 534.7,443.9 535.4,446.2 536.0,448.4 536.7,450.7 537.3,453.0 538.0,455.2 538.7,457.5 539.4,459.7 540.0,462.0 540.7,464.2 541.5,466.5 542.2,468.7 542.9,471.0 543.7,473.2 544.5,475.5 545.3,477.7 546.1,480.0 547.0,482.2 547.9,484.5 548.8,486.7 549.7,489.0 550.6,491.2 551.6,493.4 552.5,495.7 553.5,497.9 554.5,500.1 555.6,502.3 556.6,504.5 557.7,506.7 558.8,508.8 560.0,511.0 561.1,513.2 562.3,515.3 563.5,517.4 564.7,519.5 565.9,521.6 567.2,523.7 568.5,525.7 569.8,527.8 571.1,529.8 572.5,531.8 573.8,533.8 575.2,535.8 576.7,537.7 578.1,539.6 579.6,541.5 581.1,543.4 582.6,545.3 584.1,547.1 585.7,548.9 587.3,550.7 588.9,552.4 590.6,554.1 592.2,555.8 593.9,557.5 595.7,559.1 597.4,560.7 599.2,562.3 601.0,563.8 602.8,565.4 604.7,566.8 606.5,568.3 608.4,569.7 610.4,571.1 612.3,572.4 614.3,573.7 616.3,574.9 618.3,576.2 620.4,577.4 622.5,578.5 624.6,579.6 626.7,580.7 628.9,581.8 631.0,582.8 633.2,583.7 635.4,584.7 637.7,585.6 639.9,586.5 642.2,587.3 644.4,588.1 646.7,588.9 649.0,589.7 651.4,590.4 653.7,591.1 656.0,591.7 658.4,592.3 660.7,592.9 663.1,593.5 665.5,594.0 667.8,594.5 670.2,595.0 672.6,595.4 675.0,595.9 677.4,596.3 679.8,596.6 682.2,597.0 684.6,597.3 687.0,597.5 689.4,597.8 691.8,598.0 694.2,598.2 696.6,598.4 699.0,598.6 701.4,598.7 703.7,598.8 706.1,598.9 708.5,598.9 710.8,599.0 713.2,599.0 715.5,599.0 716.7,599.0" fill="none" stroke="#1c1cae" stroke-width="2.9" stroke-linejoin="round" stroke-linecap="round" clip-path="url(#ca)"/><polyline points="97.8,452.0 98.0,449.6 98.2,447.2 98.3,444.8 98.5,442.4 98.7,440.0 98.9,437.7 99.1,435.3 99.3,432.9 99.5,430.5 99.7,428.1 99.9,425.7 100.1,423.3 100.3,420.9 100.5,418.5 100.7,416.1 100.9,413.8 101.1,411.4 101.3,409.0 101.5,406.6 101.7,404.2 101.9,401.8 102.1,399.4 102.3,397.0 102.5,394.6 102.7,392.2 102.9,389.8 103.1,387.5 103.3,385.1 103.5,382.7 103.7,380.3 103.9,377.9 104.1,375.5 104.3,373.1 104.5,370.7 104.8,368.3 105.0,365.9 105.2,363.5 105.4,361.1 105.6,358.7 105.9,356.4 106.1,354.0 106.3,351.6 106.5,349.2 106.8,346.8 107.0,344.4 107.3,342.0 107.5,339.6 107.7,337.2 108.0,334.8 108.2,332.5 108.5,330.1 108.7,327.7 109.0,325.3 109.2,322.9 109.5,320.5 109.8,318.1 110.0,315.7 110.3,313.4 110.6,311.0 110.9,308.6 111.1,306.2 111.4,303.8 111.7,301.4 112.0,299.1 112.3,296.7 112.6,294.3 112.9,291.9 113.2,289.5 113.5,287.2 113.8,284.8 114.1,282.4 114.4,280.0 114.8,277.7 115.1,275.3 115.4,272.9 115.7,270.5 116.1,268.2 116.4,265.8 116.8,263.4 117.1,261.1 117.5,258.7 117.8,256.3 118.2,253.9 118.6,251.8 118.7,250.8 118.8,250.0 118.9,249.9 118.9,249.4 119.0,248.8 119.1,248.2 119.2,247.4 119.3,246.6 119.4,246.0 119.5,245.6 119.6,244.9 119.7,245.0 119.8,244.3 119.9,242.6 120.0,243.2 120.1,242.2 120.2,242.3 120.3,242.1 120.4,240.8 120.5,238.5 120.6,239.8 120.7,237.4 120.8,239.4 120.9,236.9 121.0,236.7 121.1,238.1 121.2,234.0 121.3,235.2 121.5,233.4 121.6,233.4 121.7,232.5 121.8,233.6 121.9,231.9 122.0,232.1 122.1,231.9 122.2,228.3 122.3,231.7 122.5,229.0 122.6,226.4 122.7,227.2 122.8,228.8 122.9,228.5 123.0,225.3 123.2,226.0 123.3,225.6 123.4,226.3 123.5,223.8 123.7,225.1 123.8,221.3 123.9,221.0 124.0,222.9 124.2,222.4 124.3,220.4 124.4,221.1 124.6,219.7 124.7,220.2 124.8,220.3 125.0,218.5 125.1,218.5 125.2,215.7 125.4,214.8 125.5,210.9 125.7,215.4 125.8,214.1 125.9,214.5 126.1,209.4 126.2,211.4 126.4,210.7 126.5,207.8 126.7,212.2 126.8,212.2 127.0,207.0 127.1,209.6 127.3,211.4 127.4,205.3 127.6,208.9 127.7,209.4 127.8,209.4 128.0,202.7 128.1,202.7 128.3,204.5 128.4,205.8 128.6,200.6 128.7,201.0 128.8,199.7 129.0,203.3 129.1,199.6 129.2,201.1 129.4,200.7 129.5,201.1 129.6,199.1 129.8,198.4 129.9,199.4 130.0,197.5 130.1,193.6 130.2,194.4 130.3,196.6 130.4,194.6 130.5,193.1 130.6,193.6 130.7,197.4 130.8,191.9 130.9,192.4 131.0,191.8 131.1,189.8 131.2,192.0 131.3,190.8 131.4,189.3 131.6,185.4 131.7,189.9 131.8,188.3 131.9,186.1 132.0,180.4 132.1,184.9 132.2,182.1 132.4,183.4 132.5,182.2 132.6,181.0 132.8,184.0 132.9,181.6 133.1,183.2 133.3,178.2 133.4,179.1 133.6,181.5 133.8,178.8 134.0,176.1 134.2,175.1 134.4,175.0 134.6,175.3 134.9,176.2 135.1,174.5 135.4,175.1 135.6,174.7 135.9,172.7 136.2,174.4 136.5,172.8 136.8,170.5 137.1,170.1 137.4,170.0 137.8,168.3 138.1,166.8 138.5,169.3 138.9,168.1 139.3,170.2 139.7,167.8 140.1,169.3 140.5,169.6 140.9,168.4 141.4,170.0 141.8,168.3 142.2,169.2 142.7,172.1 143.1,171.6 143.5,171.2 144.0,169.9 144.4,173.4 144.8,176.6 145.2,168.3 145.6,175.5 146.0,174.2 146.4,176.6 146.8,177.2 147.2,173.1 147.6,179.5 148.0,175.1 148.4,176.3 148.8,178.7 149.2,177.8 149.5,179.1 149.9,177.9 150.3,177.3 150.6,180.2 151.0,178.3 151.4,184.1 151.7,182.3 152.1,185.3 152.5,180.1 152.8,178.9 153.2,179.0 153.5,183.5 153.9,182.1 154.2,186.1 154.6,182.8 154.9,183.5 155.2,187.5 155.6,186.5 155.9,189.3 156.2,190.0 156.5,189.6 156.9,186.8 157.2,188.1 157.5,195.0 157.8,190.4 158.1,192.0 158.4,192.1 158.7,192.3 159.0,192.5 159.2,192.3 159.5,192.9 159.8,190.3 160.1,198.4 160.3,195.3 160.6,193.4 160.8,197.6 161.1,198.4 161.3,194.7 161.6,197.1 161.8,201.7 162.1,200.3 162.3,200.6 162.5,202.3 162.8,200.6 163.0,200.8 163.2,205.1 163.4,202.1 163.6,202.9 163.8,204.9 164.0,204.2 164.2,202.3 164.4,209.0 164.6,205.7 164.8,210.0 165.0,208.0 165.2,205.8 165.4,211.1 165.6,208.3 165.8,207.6 166.0,209.8 166.2,206.2 166.3,211.8 166.5,210.1 166.7,211.6 166.9,211.0 167.0,214.6 167.2,214.5 167.4,216.5 167.6,218.2 167.7,216.1 167.9,216.3 168.1,217.3 168.2,215.8 168.4,216.8 168.6,219.9 168.7,217.4 168.9,215.9 169.0,219.6 169.2,221.3 169.4,224.2 169.5,220.6 169.7,220.8 169.9,223.3 170.0,223.4 170.2,224.8 170.3,223.9 170.5,225.8 170.7,224.9 170.8,228.5 171.0,227.7 171.2,228.9 171.3,227.5 171.5,226.2 171.7,229.5 171.9,230.0 172.0,232.7 172.2,233.1 172.4,231.8 172.5,232.3 172.7,231.1 172.9,233.5 173.1,234.5 173.2,233.9 173.4,233.3 173.6,238.2 173.8,234.7 174.0,240.1 174.1,239.8 174.3,241.0 174.5,237.1 174.7,240.4 174.9,237.3 175.1,239.8 175.2,238.3 175.4,240.3 175.6,241.2 175.8,244.3 176.0,245.0 176.2,243.2 176.4,243.9 176.6,243.5 176.8,243.8 176.9,243.4 177.1,246.3 177.3,248.0 177.5,246.7 177.7,248.8 177.9,247.4 178.1,248.2 178.3,249.3 178.5,251.6 178.7,250.5 178.9,252.5 179.1,251.9 179.3,251.6 179.5,251.3 179.7,253.5 179.9,253.6 180.1,255.8 180.3,256.0 180.5,254.8 180.7,257.4 180.9,257.7 181.1,255.9 181.3,257.7 181.5,259.1 181.8,258.5 182.0,259.6 182.2,260.9 182.4,261.3 182.6,261.9 182.8,262.5 183.0,262.5 183.2,264.1 183.4,264.1 183.6,265.0 183.9,265.0 184.7,267.3 185.6,269.5 186.5,271.7 187.3,273.9 188.2,276.1 189.1,278.3 190.0,280.5 190.9,282.7 191.9,285.0 192.8,287.2 193.7,289.4 194.6,291.6 195.6,293.8 196.5,296.0 197.5,298.2 198.4,300.4 199.4,302.6 200.3,304.8 201.3,307.0 202.2,309.2 203.2,311.4 204.1,313.6 205.1,315.8 206.1,318.0 207.0,320.2 208.0,322.5 208.9,324.7 209.8,326.9 210.8,329.1 211.7,331.3 212.7,333.5 213.6,335.7 214.5,337.9 215.4,340.1 216.3,342.4 217.3,344.6 218.2,346.8 219.1,349.0 220.1,351.2 221.0,353.4 222.0,355.5 223.0,357.7 224.0,359.9 225.0,362.0 226.1,364.2 227.2,366.3 228.3,368.4 229.4,370.5 230.5,372.6 231.7,374.7 232.9,376.8 234.1,378.9 235.3,381.0 236.5,383.0 237.8,385.1 239.1,387.1 240.4,389.1 241.7,391.2 243.0,393.2 244.3,395.2 245.7,397.2 247.0,399.2 248.4,401.3 249.8,403.3 251.2,405.3 252.6,407.2 254.1,409.2 255.6,411.0 257.3,412.7 259.0,414.2 260.9,415.6 262.9,416.7 265.1,417.6 267.4,418.2 269.8,418.6 272.3,418.7 274.8,418.6 277.3,418.3 279.8,417.7 282.1,416.9 284.3,415.8 286.4,414.6 288.2,413.1 289.9,411.5 291.4,409.7 292.8,407.7 294.1,405.7 295.3,403.6 296.4,401.4 297.5,399.2 298.5,397.0 299.5,394.8 300.5,392.6 301.4,390.4 302.4,388.2 303.3,385.9 304.1,383.7 305.0,381.4 305.8,379.2 306.6,376.9 307.4,374.6 308.1,372.3 308.9,370.0 309.6,367.8 310.3,365.5 311.0,363.2 311.6,360.9 312.3,358.6 312.9,356.2 313.6,353.9 314.2,351.6 314.8,349.3 315.4,347.0 316.0,344.7 316.6,342.3 317.2,340.0 317.8,337.7 318.4,335.4 318.9,333.0 319.5,330.7 320.1,328.4 320.6,326.0 321.2,323.7 321.7,321.4 322.2,319.0 322.8,316.7 323.3,314.4 323.8,312.0 324.3,309.7 324.9,307.4 325.4,305.0 325.9,302.7 326.4,300.3 326.9,298.0 327.4,295.6 327.9,293.3 328.4,290.9 328.8,288.6 329.3,286.2 329.8,283.9 330.3,281.5 330.8,279.2 331.2,276.8 331.7,274.5 332.2,272.1 332.7,269.8 333.1,267.4 333.6,265.1 334.1,262.7 334.5,260.3 335.0,258.0 335.5,255.6 335.9,253.3 336.4,250.9 336.9,248.5 337.3,246.2 337.8,243.8 338.3,241.5 338.8,239.1 339.3,236.8 339.8,234.4 340.3,232.0 340.8,229.7 341.3,227.4 341.8,225.0 342.3,222.7 342.9,220.3 343.4,218.0 344.0,215.7 344.6,213.3 345.2,211.0 345.8,208.7 346.4,206.4 347.0,204.1 347.7,201.8 348.3,199.5 349.0,197.2 349.7,194.9 350.4,192.6 351.2,190.4 351.9,188.1 352.7,185.8 353.5,183.6 354.3,181.3 355.1,179.1 356.0,176.9 356.8,174.6 357.7,172.4 358.7,170.2 359.6,168.0 360.6,165.9 361.6,163.7 362.6,161.6 362.9,160.9 363.2,160.5 363.5,160.0 363.7,159.7 364.0,158.9 364.3,158.3 364.6,158.0 364.9,158.2 365.2,156.6 365.5,156.6 365.8,155.6 366.2,152.9 366.5,153.4 366.8,152.7 367.1,151.5 367.5,151.9 367.8,149.6 368.2,152.0 368.5,150.2 368.9,152.4 369.2,150.6 369.6,147.5 370.0,148.6 370.4,148.5 370.8,147.0 371.2,147.0 371.6,145.5 372.1,145.6 372.5,146.8 373.0,145.5 373.4,147.5 373.9,142.2 374.4,144.0 374.9,144.4 375.4,147.0 375.9,146.3 376.4,145.7 376.9,146.0 377.5,146.9 378.1,145.5 378.6,144.2 379.2,144.9 379.8,143.7 380.4,144.6 381.0,145.7 381.6,144.6 382.1,145.7 382.7,145.2 383.3,144.1 383.9,144.2 384.4,147.7 385.0,147.0 385.6,148.5 386.1,147.5 386.6,147.9 387.2,148.7 387.7,148.1 388.2,151.0 388.7,150.8 389.2,150.3 389.7,148.5 390.1,149.6 390.6,151.1 391.1,152.9 391.5,151.5 392.0,151.9 392.4,153.2 392.8,153.0 393.3,153.0 393.7,151.9 394.1,155.9 394.5,154.4 394.9,154.2 395.3,155.2 395.7,153.8 396.1,153.7 396.5,154.0 396.9,157.7 397.3,155.7 397.6,158.3 398.0,156.8 398.4,156.4 398.8,158.6 399.1,158.9 399.5,159.5 399.9,163.6 400.2,161.8 400.6,161.1 400.9,163.8 401.3,162.5 401.6,165.3 402.0,161.6 402.3,166.1 402.7,163.3 403.1,164.4 403.4,166.3 403.8,164.9 404.1,164.5 404.5,166.9 404.8,167.5 405.2,166.0 405.6,170.4 405.9,168.2 406.3,169.0 406.7,170.1 407.0,171.0 407.4,173.0 407.8,168.6 408.2,172.3 408.6,174.1 408.9,173.5 409.3,173.5 409.7,172.3 410.2,174.9 410.6,174.0 411.0,175.3 411.4,173.9 411.8,175.4 412.3,176.0 412.7,174.3 413.2,178.3 413.6,176.9 414.1,175.4 414.6,177.2 415.1,178.0 415.6,177.5 416.1,176.6 416.6,178.0 417.1,176.4 417.6,176.1 418.2,180.4 418.7,181.3 419.3,181.6 419.9,182.2 420.4,180.9 421.0,177.4 421.7,177.9 422.3,180.3 422.9,177.8 423.5,177.9 424.2,178.3 424.8,178.8 425.5,176.1 426.1,178.1 426.7,178.8 427.4,175.0 428.0,179.8 428.6,179.3 429.2,177.0 429.8,181.1 430.5,179.1 431.0,179.4 431.6,181.1 432.2,175.2 432.8,179.2 433.4,181.1 433.9,181.9 434.5,179.9 435.0,180.0 435.5,179.4 436.0,180.4 436.5,179.9 437.0,177.9 437.5,181.0 438.0,180.7 438.4,181.7 438.9,182.3 439.3,182.7 439.8,183.9 440.2,184.1 440.6,184.1 441.0,184.1 441.4,185.3 441.8,185.4 442.2,186.1 442.6,188.8 443.0,187.6 443.3,187.1 443.7,185.0 444.1,186.4 444.5,185.0 444.8,190.8 445.2,191.6 445.6,189.8 445.9,190.2 446.3,192.1 446.6,192.7 447.0,189.7 447.4,192.4 447.7,192.8 448.1,191.8 448.4,196.3 448.7,195.8 449.1,194.3 449.4,195.6 449.8,195.3 450.1,195.9 450.5,196.5 450.8,199.1 451.1,198.1 451.5,197.9 451.8,198.0 452.1,199.9 452.4,198.8 452.8,198.4 453.1,200.9 453.4,203.5 453.7,201.2 454.1,202.7 454.4,202.8 454.7,204.8 455.0,204.5 455.3,203.4 455.6,206.5 455.9,205.6 456.2,205.4 456.5,206.3 456.8,207.1 457.1,208.2 457.4,208.0 457.7,208.3 458.0,209.7 458.3,210.2 458.6,210.1 458.9,210.8 460.1,212.8 461.2,214.9 462.3,217.1 463.4,219.2 464.5,221.4 465.5,223.5 466.6,225.7 467.6,227.9 468.5,230.1 469.5,232.3 470.5,234.6 471.4,236.8 472.3,239.0 473.2,241.3 474.1,243.5 475.0,245.8 475.8,248.0 476.7,250.3 477.5,252.6 478.3,254.8 479.1,257.1 479.9,259.4 480.7,261.6 481.5,263.9 482.3,266.2 483.0,268.5 483.8,270.7 484.5,273.0 485.2,275.3 485.9,277.6 486.7,279.9 487.3,282.2 488.0,284.5 488.7,286.8 489.4,289.0 490.1,291.3 490.7,293.6 491.4,295.9 492.0,298.2 492.6,300.6 493.3,302.9 493.9,305.2 494.5,307.5 495.1,309.8 495.7,312.1 496.3,314.4 496.9,316.7 497.5,319.1 498.1,321.4 498.7,323.7 499.3,326.0 499.9,328.3 500.4,330.7 501.0,333.0 501.6,335.3 502.1,337.7 502.7,340.0 503.3,342.3 503.8,344.6 504.4,347.0 505.0,349.3 505.5,351.7 506.1,354.0 506.7,356.3 507.2,358.7 507.8,361.0 508.4,363.3 509.0,365.7 509.6,368.0 510.2,370.3 510.8,372.6 511.5,374.9 512.1,377.3 512.8,379.6 513.4,381.9 514.1,384.2 514.8,386.5 515.5,388.8 516.3,391.1 517.0,393.3 517.8,395.6 518.5,397.9 519.3,400.2 520.1,402.4 520.9,404.7 521.7,406.9 522.6,409.2 523.4,411.4 524.2,413.7 525.0,416.0 525.9,418.2 526.7,420.5 527.5,422.7 528.3,425.0 529.1,427.2 529.9,429.5 530.6,431.8 531.4,434.1 532.1,436.3 532.8,438.6 533.5,440.9 534.2,443.2 534.8,445.5 535.4,447.9 536.1,450.2 536.6,452.5 537.2,454.8 537.8,457.2 538.4,459.5 539.0,461.8 539.6,464.2 540.2,466.5 540.9,468.8 541.6,471.0 542.3,473.3 543.1,475.6 543.9,477.8 544.7,480.1 545.5,482.3 546.4,484.6 547.3,486.8 548.2,489.0 549.1,491.2 550.1,493.3 551.1,495.5 552.1,497.7 553.2,499.9 554.3,502.0 555.3,504.1 556.5,506.3 557.6,508.4 558.7,510.5 559.9,512.6 561.1,514.7 562.3,516.8 563.6,518.9 564.8,521.0 566.1,523.0 567.4,525.1 568.7,527.1 570.0,529.2 571.4,531.2 572.7,533.2 574.1,535.1 575.5,537.1 577.0,539.1 578.4,541.0 579.9,542.9 581.4,544.8 582.9,546.6 584.5,548.5 586.0,550.3 587.6,552.1 589.2,553.9 590.9,555.6 592.5,557.3 594.2,559.0 595.9,560.7 597.6,562.3 599.4,563.9 601.2,565.5 603.0,567.1 604.8,568.6 606.6,570.1 608.5,571.5 610.4,572.9 612.3,574.3 614.3,575.6 616.2,577.0 618.2,578.2 620.2,579.5 622.3,580.6 624.4,581.8 626.5,582.9 628.6,584.0 630.7,585.0 632.9,586.0 635.1,586.9 637.4,587.8 639.6,588.7 641.9,589.5 644.2,590.3 646.5,591.0 648.8,591.7 651.1,592.4 653.5,593.0 655.8,593.6 658.2,594.2 660.6,594.7 663.0,595.2 665.4,595.7 667.8,596.2 670.2,596.6 672.7,597.0 675.1,597.3 677.5,597.7 679.9,598.0 682.4,598.3 684.8,598.6 687.2,598.8 689.6,599.1 692.0,599.3 694.4,599.5 696.8,599.7 699.2,599.8 701.6,600.0 703.9,600.1 706.3,600.2 708.6,600.3 710.9,600.4 713.2,600.5 715.5,600.6 716.6,600.6" fill="none" stroke="#161616" stroke-width="2.9" stroke-linejoin="round" stroke-linecap="round" clip-path="url(#cat)"/><polyline points="98.0,452.0 98.2,449.6 98.3,447.2 98.4,444.8 98.6,442.4 98.8,440.1 98.9,437.7 99.1,435.3 99.3,432.9 99.5,430.5 99.7,428.1 99.9,425.8 100.1,423.4 100.3,421.0 100.5,418.6 100.7,416.2 101.0,413.8 101.2,411.4 101.4,409.0 101.6,406.6 101.9,404.2 102.1,401.8 102.4,399.4 102.6,397.0 102.9,394.6 103.1,392.2 103.4,389.8 103.6,387.4 103.9,385.0 104.1,382.6 104.4,380.2 104.6,377.9 104.9,375.5 105.2,373.1 105.4,370.7 105.7,368.3 105.9,365.9 106.2,363.5 106.4,361.1 106.7,358.7 106.9,356.3 107.2,353.9 107.4,351.5 107.7,349.1 107.9,346.7 108.2,344.4 108.4,342.0 108.7,339.6 108.9,337.2 109.1,334.8 109.3,332.4 109.6,330.1 109.8,327.7 110.0,325.3 110.2,322.9 110.4,320.6 110.7,318.2 110.9,315.8 111.1,313.4 111.3,311.1 111.6,308.7 111.8,306.3 112.1,304.0 112.3,301.6 112.6,299.2 112.9,296.9 113.2,294.5 113.5,292.1 113.8,289.8 114.1,287.4 114.4,285.1 114.5,284.7 114.6,283.7 114.7,282.9 114.8,282.7 114.9,282.3 115.0,281.9 115.1,280.4 115.2,279.7 115.3,280.1 115.4,279.4 115.5,279.5 115.6,278.6 115.7,277.3 115.8,276.6 115.9,278.1 116.0,275.4 116.1,274.4 116.2,273.4 116.3,273.9 116.4,273.4 116.5,272.3 116.6,272.0 116.7,271.8 116.9,271.7 117.0,271.6 117.1,270.0 117.2,266.8 117.3,269.5 117.5,266.0 117.6,267.1 117.7,264.6 117.8,266.2 118.0,264.3 118.1,265.3 118.2,268.9 118.3,263.7 118.5,264.7 118.6,260.2 118.7,261.5 118.9,262.7 119.0,260.7 119.2,261.0 119.3,259.9 119.5,256.9 119.6,259.7 119.7,256.0 119.9,261.7 120.0,255.5 120.2,257.8 120.3,255.5 120.5,257.3 120.7,252.9 120.8,256.2 121.0,252.8 121.1,255.7 121.3,253.6 121.5,251.7 121.6,248.8 121.8,252.2 122.0,250.8 122.2,253.1 122.3,250.7 122.5,244.5 122.7,245.0 122.9,243.1 123.0,242.1 123.2,248.2 123.4,241.9 123.6,244.8 123.8,243.2 124.0,240.2 124.2,244.7 124.4,238.4 124.6,242.7 124.8,237.1 125.0,239.4 125.2,236.8 125.4,236.7 125.6,243.0 125.8,240.8 126.0,235.2 126.2,240.4 126.5,233.1 126.7,234.4 126.9,238.4 127.1,235.7 127.4,229.7 127.6,238.0 127.9,229.7 128.1,229.5 128.4,234.1 128.7,229.2 128.9,228.3 129.2,225.5 129.5,225.2 129.8,229.6 130.2,225.7 130.5,228.8 130.8,226.1 131.2,226.5 131.6,231.1 131.9,225.9 132.3,226.4 132.8,229.0 133.2,221.8 133.6,221.2 134.1,228.4 134.6,227.2 135.1,221.2 135.6,220.4 136.1,225.7 136.6,227.5 137.1,220.0 137.6,227.5 138.1,226.8 138.6,224.0 139.0,222.3 139.5,219.3 139.9,218.8 140.3,228.3 140.7,221.3 141.1,226.3 141.5,222.1 141.9,228.1 142.3,226.3 142.7,223.7 143.0,222.9 143.4,228.8 143.7,222.8 144.1,224.9 144.4,228.7 144.8,232.2 145.1,230.3 145.4,227.5 145.7,234.4 146.1,227.8 146.4,226.4 146.7,229.5 147.0,231.8 147.4,228.5 147.7,230.2 148.0,232.6 148.3,235.2 148.6,231.3 148.9,234.1 149.2,240.0 149.5,241.4 149.8,238.7 150.1,239.6 150.4,239.0 150.7,235.2 151.0,234.8 151.3,235.2 151.6,244.2 151.8,242.8 152.1,242.0 152.4,241.8 152.7,240.5 153.0,240.8 153.2,243.3 153.5,241.9 153.8,245.7 154.0,245.2 154.3,241.9 154.6,245.2 154.8,250.1 155.1,245.1 155.4,246.8 155.6,244.5 155.9,250.9 156.1,248.5 156.4,248.2 156.6,246.3 156.9,252.8 157.1,250.2 157.4,253.4 157.6,248.9 157.9,250.9 158.1,252.7 158.3,252.6 158.6,256.9 158.8,255.0 159.0,255.7 159.3,252.9 159.5,252.8 159.7,260.0 160.0,256.4 160.2,256.8 160.4,261.4 160.6,258.5 160.8,259.8 161.1,261.6 161.3,261.2 161.5,262.3 161.7,262.5 161.9,262.1 162.1,263.1 162.3,264.8 162.5,267.2 162.8,263.9 163.0,266.3 163.2,267.7 163.4,266.9 163.6,268.9 163.8,268.6 164.0,268.8 164.2,269.0 164.4,271.3 164.5,272.6 164.7,270.8 164.9,271.1 165.1,273.1 165.3,272.6 165.5,273.3 165.7,273.7 165.9,273.5 166.1,275.9 166.2,277.1 166.4,275.8 166.6,276.4 166.8,278.1 167.0,278.0 167.1,279.0 167.3,278.4 167.5,279.9 167.7,280.8 167.8,280.5 168.0,281.9 168.2,282.1 168.4,282.9 168.5,283.6 168.7,283.8 168.9,284.6 169.5,286.6 170.2,289.0 170.8,291.4 171.4,293.7 172.0,296.0 172.6,298.3 173.2,300.6 173.8,303.0 174.4,305.3 174.9,307.6 175.5,310.0 176.0,312.3 176.6,314.6 177.1,317.0 177.7,319.3 178.2,321.7 178.7,324.0 179.3,326.4 179.8,328.7 180.4,331.1 180.9,333.4 181.5,335.8 182.0,338.1 182.6,340.4 183.2,342.8 183.8,345.1 184.4,347.4 185.1,349.8 185.7,352.1 186.4,354.4 187.0,356.7 187.8,359.0 188.5,361.2 189.2,363.5 190.0,365.8 190.8,368.0 191.6,370.3 192.5,372.5 193.4,374.7 194.3,376.9 195.2,379.1 196.2,381.3 197.2,383.5 198.3,385.6 199.4,387.7 200.5,389.8 201.7,391.9 202.9,393.9 204.2,395.9 205.6,397.8 207.1,399.7 208.6,401.5 210.2,403.2 211.9,404.9 213.7,406.4 215.6,407.9 217.6,409.3 219.6,410.6 221.7,412.0 223.8,413.3 225.8,414.6 227.8,415.9 229.8,417.3 231.6,418.8 233.4,420.4 235.1,422.0 236.7,423.7 238.2,425.5 239.7,427.3 241.1,429.2 242.5,431.1 243.9,433.0 245.2,435.0 246.5,437.0 247.8,439.0 249.1,441.1 250.4,443.1 251.7,445.2 253.1,447.2 254.5,449.2 255.9,451.3 257.4,453.3 258.9,455.2 260.5,457.2 262.1,459.0 263.8,460.8 265.6,462.6 267.5,464.2 269.4,465.7 271.3,467.1 273.4,468.4 275.5,469.5 277.6,470.5 279.8,471.2 282.1,471.8 284.5,472.2 286.8,472.4 289.1,472.3 291.4,472.1 293.6,471.6 295.7,470.8 297.6,469.8 299.5,468.5 301.2,467.0 302.8,465.3 304.4,463.5 305.8,461.5 307.2,459.4 308.5,457.2 309.7,455.0 310.9,452.7 312.1,450.4 313.3,448.1 314.4,445.9 315.5,443.6 316.5,441.4 317.6,439.2 318.6,437.0 319.6,434.8 320.6,432.6 321.6,430.4 322.6,428.3 323.5,426.1 324.4,423.9 325.4,421.8 326.3,419.6 327.2,417.5 328.1,415.3 329.0,413.2 329.9,411.0 330.7,408.9 331.6,406.7 332.5,404.5 333.4,402.4 334.3,400.2 335.1,398.0 336.0,395.8 336.9,393.7 337.8,391.4 338.7,389.2 339.6,387.0 340.6,384.8 341.5,382.5 342.4,380.3 343.4,378.0 344.4,375.7 345.4,373.4 346.4,371.1 347.4,368.7 348.4,366.3 349.5,364.0 350.6,361.6 351.8,359.3 353.0,357.2 354.3,355.2 355.8,353.4 357.7,351.5 359.9,350.1 362.4,349.3 365.1,349.1 367.5,349.5 369.9,350.2 372.3,351.2 374.5,352.4 376.6,353.8 378.4,355.3 380.1,356.8 381.6,358.5 383.0,360.3 384.3,362.2 385.5,364.2 386.6,366.2 387.8,368.3 388.9,370.4 390.0,372.6 391.1,374.8 392.2,377.0 393.3,379.2 394.4,381.5 395.5,383.7 396.6,386.0 397.7,388.2 398.9,390.5 400.1,392.7 401.3,394.9 402.5,397.0 403.8,399.2 405.1,401.3 406.4,403.3 407.8,405.3 409.2,407.2 410.7,409.1 412.2,410.9 413.8,412.6 415.4,414.3 417.1,415.8 418.9,417.3 420.7,418.6 422.6,419.9 424.6,421.0 426.6,422.1 428.7,423.0 430.9,423.8 433.1,424.6 435.4,425.2 437.8,425.8 440.1,426.4 442.5,426.9 444.9,427.4 447.3,427.9 449.8,428.4 452.2,428.8 454.6,429.4 457.0,429.9 459.4,430.5 461.8,431.1 464.1,431.8 466.4,432.5 468.6,433.4 470.9,434.3 473.0,435.2 475.2,436.2 477.3,437.3 479.4,438.5 481.4,439.7 483.4,440.9 485.4,442.2 487.3,443.5 489.2,444.9 491.1,446.4 493.0,447.8 494.8,449.4 496.6,450.9 498.3,452.5 500.1,454.2 501.8,455.8 503.5,457.5 505.1,459.2 506.7,461.0 508.3,462.8 509.9,464.6 511.5,466.4 513.0,468.3 514.5,470.1 516.0,472.0 517.5,473.9 518.9,475.8 520.3,477.8 521.8,479.7 523.1,481.7 524.5,483.6 525.9,485.6 527.3,487.6 528.6,489.6 529.9,491.6 531.3,493.6 532.6,495.6 533.9,497.7 535.2,499.7 536.5,501.7 537.8,503.7 539.1,505.8 540.4,507.8 541.7,509.8 543.0,511.9 544.3,513.9 545.6,515.9 547.0,517.9 548.3,519.9 549.6,521.9 551.0,523.9 552.3,525.9 553.7,527.9 555.0,529.9 556.4,531.8 557.8,533.7 559.2,535.7 560.7,537.6 562.1,539.5 563.6,541.3 565.1,543.2 566.6,545.0 568.1,546.9 569.7,548.7 571.3,550.4 572.9,552.2 574.5,553.9 576.2,555.6 577.9,557.3 579.6,558.9 581.3,560.5 583.1,562.1 585.0,563.7 586.8,565.2 588.7,566.7 590.6,568.2 592.5,569.6 594.5,571.0 596.5,572.4 598.5,573.8 600.5,575.1 602.5,576.4 604.6,577.6 606.7,578.8 608.8,580.0 611.0,581.2 613.1,582.3 615.3,583.4 617.5,584.4 619.7,585.4 621.9,586.4 624.1,587.4 626.4,588.3 628.6,589.2 630.9,590.0 633.2,590.8 635.5,591.6 637.8,592.3 640.1,593.0 642.4,593.6 644.7,594.3 647.0,594.8 649.4,595.4 651.7,595.9 654.0,596.3 656.4,596.8 658.7,597.1 661.1,597.5 663.4,597.8 665.8,598.1 668.1,598.4 670.5,598.6 672.8,598.9 675.2,599.1 677.6,599.2 680.0,599.4 682.3,599.5 684.7,599.7 687.1,599.8 689.5,599.9 691.9,600.0 694.3,600.1 696.7,600.1 699.1,600.2 701.5,600.3 703.9,600.4 706.4,600.4 708.8,600.5 711.2,600.6 713.6,600.7 716.1,600.8 716.7,600.8" fill="none" stroke="#c02828" stroke-width="2.9" stroke-linejoin="round" stroke-linecap="round" clip-path="url(#ca)"/><polyline points="139.0,167.0 139.3,156.0 139.8,167.0" fill="none" stroke="#161616" stroke-width="2.6" stroke-linejoin="round" stroke-linecap="round" /><polyline points="375.0,106.0 375.6,94.0 376.6,94.0 377.2,106.0" fill="none" stroke="#1c1cae" stroke-width="2.6" stroke-linejoin="round" stroke-linecap="round" /><polyline points="385.0,106.0 385.6,94.0 386.6,94.0 387.2,106.0" fill="none" stroke="#1c1cae" stroke-width="2.6" stroke-linejoin="round" stroke-linecap="round" /><polyline points="395.2,106.0 395.6,99.0 396.4,99.0 396.8,106.0" fill="none" stroke="#1c1cae" stroke-width="2.6" stroke-linejoin="round" stroke-linecap="round" /><g stroke="#222" stroke-width="2.6" stroke-linecap="butt"><line x1="129.2" y1="602.5" x2="129.2" y2="596.0"/><line x1="129.2" y1="67.8" x2="129.2" y2="74.3"/><line x1="160.1" y1="602.5" x2="160.1" y2="596.0"/><line x1="160.1" y1="67.8" x2="160.1" y2="74.3"/><line x1="191.1" y1="602.5" x2="191.1" y2="596.0"/><line x1="191.1" y1="67.8" x2="191.1" y2="74.3"/><line x1="222.0" y1="602.5" x2="222.0" y2="596.0"/><line x1="222.0" y1="67.8" x2="222.0" y2="74.3"/><line x1="252.9" y1="602.5" x2="252.9" y2="591.5"/><line x1="252.9" y1="67.8" x2="252.9" y2="78.8"/><line x1="283.9" y1="602.5" x2="283.9" y2="596.0"/><line x1="283.9" y1="67.8" x2="283.9" y2="74.3"/><line x1="314.9" y1="602.5" x2="314.9" y2="596.0"/><line x1="314.9" y1="67.8" x2="314.9" y2="74.3"/><line x1="345.8" y1="602.5" x2="345.8" y2="596.0"/><line x1="345.8" y1="67.8" x2="345.8" y2="74.3"/><line x1="376.8" y1="602.5" x2="376.8" y2="596.0"/><line x1="376.8" y1="67.8" x2="376.8" y2="74.3"/><line x1="407.7" y1="602.5" x2="407.7" y2="591.5"/><line x1="407.7" y1="67.8" x2="407.7" y2="78.8"/><line x1="438.6" y1="602.5" x2="438.6" y2="596.0"/><line x1="438.6" y1="67.8" x2="438.6" y2="74.3"/><line x1="469.6" y1="602.5" x2="469.6" y2="596.0"/><line x1="469.6" y1="67.8" x2="469.6" y2="74.3"/><line x1="500.6" y1="602.5" x2="500.6" y2="596.0"/><line x1="500.6" y1="67.8" x2="500.6" y2="74.3"/><line x1="531.5" y1="602.5" x2="531.5" y2="596.0"/><line x1="531.5" y1="67.8" x2="531.5" y2="74.3"/><line x1="562.5" y1="602.5" x2="562.5" y2="591.5"/><line x1="562.5" y1="67.8" x2="562.5" y2="78.8"/><line x1="593.4" y1="602.5" x2="593.4" y2="596.0"/><line x1="593.4" y1="67.8" x2="593.4" y2="74.3"/><line x1="624.4" y1="602.5" x2="624.4" y2="596.0"/><line x1="624.4" y1="67.8" x2="624.4" y2="74.3"/><line x1="655.3" y1="602.5" x2="655.3" y2="596.0"/><line x1="655.3" y1="67.8" x2="655.3" y2="74.3"/><line x1="686.2" y1="602.5" x2="686.2" y2="596.0"/><line x1="686.2" y1="67.8" x2="686.2" y2="74.3"/><line x1="98.2" y1="589.1" x2="104.7" y2="589.1"/><line x1="717.2" y1="589.1" x2="710.7" y2="589.1"/><line x1="98.2" y1="575.8" x2="104.7" y2="575.8"/><line x1="717.2" y1="575.8" x2="710.7" y2="575.8"/><line x1="98.2" y1="562.4" x2="104.7" y2="562.4"/><line x1="717.2" y1="562.4" x2="710.7" y2="562.4"/><line x1="98.2" y1="549.0" x2="104.7" y2="549.0"/><line x1="717.2" y1="549.0" x2="710.7" y2="549.0"/><line x1="98.2" y1="535.7" x2="109.2" y2="535.7"/><line x1="717.2" y1="535.7" x2="706.2" y2="535.7"/><line x1="98.2" y1="522.3" x2="104.7" y2="522.3"/><line x1="717.2" y1="522.3" x2="710.7" y2="522.3"/><line x1="98.2" y1="508.9" x2="104.7" y2="508.9"/><line x1="717.2" y1="508.9" x2="710.7" y2="508.9"/><line x1="98.2" y1="495.6" x2="104.7" y2="495.6"/><line x1="717.2" y1="495.6" x2="710.7" y2="495.6"/><line x1="98.2" y1="482.2" x2="104.7" y2="482.2"/><line x1="717.2" y1="482.2" x2="710.7" y2="482.2"/><line x1="98.2" y1="468.8" x2="109.2" y2="468.8"/><line x1="717.2" y1="468.8" x2="706.2" y2="468.8"/><line x1="98.2" y1="455.5" x2="104.7" y2="455.5"/><line x1="717.2" y1="455.5" x2="710.7" y2="455.5"/><line x1="98.2" y1="442.1" x2="104.7" y2="442.1"/><line x1="717.2" y1="442.1" x2="710.7" y2="442.1"/><line x1="98.2" y1="428.7" x2="104.7" y2="428.7"/><line x1="717.2" y1="428.7" x2="710.7" y2="428.7"/><line x1="98.2" y1="415.4" x2="104.7" y2="415.4"/><line x1="717.2" y1="415.4" x2="710.7" y2="415.4"/><line x1="98.2" y1="402.0" x2="109.2" y2="402.0"/><line x1="717.2" y1="402.0" x2="706.2" y2="402.0"/><line x1="98.2" y1="388.6" x2="104.7" y2="388.6"/><line x1="717.2" y1="388.6" x2="710.7" y2="388.6"/><line x1="98.2" y1="375.3" x2="104.7" y2="375.3"/><line x1="717.2" y1="375.3" x2="710.7" y2="375.3"/><line x1="98.2" y1="361.9" x2="104.7" y2="361.9"/><line x1="717.2" y1="361.9" x2="710.7" y2="361.9"/><line x1="98.2" y1="348.5" x2="104.7" y2="348.5"/><line x1="717.2" y1="348.5" x2="710.7" y2="348.5"/><line x1="98.2" y1="335.1" x2="109.2" y2="335.1"/><line x1="717.2" y1="335.1" x2="706.2" y2="335.1"/><line x1="98.2" y1="321.8" x2="104.7" y2="321.8"/><line x1="717.2" y1="321.8" x2="710.7" y2="321.8"/><line x1="98.2" y1="308.4" x2="104.7" y2="308.4"/><line x1="717.2" y1="308.4" x2="710.7" y2="308.4"/><line x1="98.2" y1="295.0" x2="104.7" y2="295.0"/><line x1="717.2" y1="295.0" x2="710.7" y2="295.0"/><line x1="98.2" y1="281.7" x2="104.7" y2="281.7"/><line x1="717.2" y1="281.7" x2="710.7" y2="281.7"/><line x1="98.2" y1="268.3" x2="109.2" y2="268.3"/><line x1="717.2" y1="268.3" x2="706.2" y2="268.3"/><line x1="98.2" y1="254.9" x2="104.7" y2="254.9"/><line x1="717.2" y1="254.9" x2="710.7" y2="254.9"/><line x1="98.2" y1="241.6" x2="104.7" y2="241.6"/><line x1="717.2" y1="241.6" x2="710.7" y2="241.6"/><line x1="98.2" y1="228.2" x2="104.7" y2="228.2"/><line x1="717.2" y1="228.2" x2="710.7" y2="228.2"/><line x1="98.2" y1="214.8" x2="104.7" y2="214.8"/><line x1="717.2" y1="214.8" x2="710.7" y2="214.8"/><line x1="98.2" y1="201.5" x2="109.2" y2="201.5"/><line x1="717.2" y1="201.5" x2="706.2" y2="201.5"/><line x1="98.2" y1="188.1" x2="104.7" y2="188.1"/><line x1="717.2" y1="188.1" x2="710.7" y2="188.1"/><line x1="98.2" y1="174.7" x2="104.7" y2="174.7"/><line x1="717.2" y1="174.7" x2="710.7" y2="174.7"/><line x1="98.2" y1="161.4" x2="104.7" y2="161.4"/><line x1="717.2" y1="161.4" x2="710.7" y2="161.4"/><line x1="98.2" y1="148.0" x2="104.7" y2="148.0"/><line x1="717.2" y1="148.0" x2="710.7" y2="148.0"/><line x1="98.2" y1="134.6" x2="109.2" y2="134.6"/><line x1="717.2" y1="134.6" x2="706.2" y2="134.6"/><line x1="98.2" y1="121.3" x2="104.7" y2="121.3"/><line x1="717.2" y1="121.3" x2="710.7" y2="121.3"/><line x1="98.2" y1="107.9" x2="104.7" y2="107.9"/><line x1="717.2" y1="107.9" x2="710.7" y2="107.9"/><line x1="98.2" y1="94.5" x2="104.7" y2="94.5"/><line x1="717.2" y1="94.5" x2="710.7" y2="94.5"/><line x1="98.2" y1="81.2" x2="104.7" y2="81.2"/><line x1="717.2" y1="81.2" x2="710.7" y2="81.2"/></g><rect x="98.2" y="67.8" width="619.0" height="534.7" rx="2.5" fill="none" stroke="#222" stroke-width="2.8000000000000003"/><g font-family="Liberation Serif, serif" font-weight="bold" font-size="25" fill="#1a1a1a"><text transform="translate(85.5,609.2) scale(0.955,1)" text-anchor="end">0</text><text transform="translate(85.5,542.4) scale(0.955,1)" text-anchor="end">0.5</text><text transform="translate(85.5,475.6) scale(0.955,1)" text-anchor="end">1</text><text transform="translate(85.5,408.7) scale(0.955,1)" text-anchor="end">1.5</text><text transform="translate(85.5,341.9) scale(0.955,1)" text-anchor="end">2</text><text transform="translate(85.5,275.1) scale(0.955,1)" text-anchor="end">2.5</text><text transform="translate(85.5,208.2) scale(0.955,1)" text-anchor="end">3</text><text transform="translate(85.5,141.4) scale(0.955,1)" text-anchor="end">3.5</text><text transform="translate(85.5,74.5) scale(0.955,1)" text-anchor="end">4</text><text transform="translate(98.2,634.5) scale(0.955,1)" text-anchor="middle">200</text><text transform="translate(252.9,634.5) scale(0.955,1)" text-anchor="middle">250</text><text transform="translate(407.7,634.5) scale(0.955,1)" text-anchor="middle">300</text><text transform="translate(562.5,634.5) scale(0.955,1)" text-anchor="middle">350</text><text transform="translate(717.2,634.5) scale(0.955,1)" text-anchor="middle">400</text><text transform="translate(407.0,671.8) scale(0.95,1)" text-anchor="middle" font-size="25">Wavelength (nm)</text><text transform="translate(39.7,336.2) rotate(-90) scale(0.955,1)" text-anchor="middle" font-size="24.5">Absorbance (a.u.)</text></g><text x="400.3" y="50.7" text-anchor="middle" font-family="Liberation Sans, sans-serif" font-size="30" fill="#111" stroke="#111" stroke-width="0.9" textLength="34" lengthAdjust="spacingAndGlyphs">(a)</text><polyline points="849.1,418.0 849.3,415.6 849.5,413.2 849.7,410.8 849.9,408.4 850.2,406.1 850.4,403.7 850.7,401.3 851.0,398.9 851.3,396.5 851.6,394.1 851.9,391.8 852.3,389.4 852.6,387.0 852.9,384.6 853.3,382.3 853.7,379.9 854.0,377.5 854.4,375.2 854.8,372.8 855.2,370.4 855.6,368.0 856.0,365.7 856.4,363.3 856.8,360.9 857.2,358.6 857.7,356.2 858.1,353.8 858.5,351.5 858.9,349.1 859.4,346.8 859.8,344.4 860.2,342.0 860.6,339.7 861.1,337.3 861.5,334.9 861.9,332.6 862.3,330.2 862.7,327.9 863.2,325.5 863.6,323.1 864.0,320.8 864.4,318.8 864.5,317.6 864.6,317.3 864.7,316.5 864.8,315.7 864.9,315.2 865.0,314.6 865.1,314.2 865.2,313.9 865.3,313.6 865.4,312.6 865.5,312.6 865.6,311.6 865.7,310.8 865.8,309.9 865.8,308.7 865.9,307.5 866.0,308.2 866.1,307.5 866.2,307.4 866.3,306.9 866.4,304.5 866.5,304.5 866.6,303.4 866.7,305.3 866.8,303.4 866.9,303.1 867.0,301.1 867.1,300.0 867.2,300.3 867.3,300.4 867.4,300.7 867.5,297.0 867.6,299.3 867.7,296.8 867.8,296.7 867.9,296.4 868.0,295.6 868.1,296.6 868.2,296.8 868.3,295.3 868.4,293.0 868.5,294.3 868.6,293.6 868.7,294.0 868.8,292.2 868.9,287.6 869.0,288.8 869.1,289.0 869.2,291.4 869.3,288.4 869.4,290.3 869.5,288.2 869.6,283.9 869.7,286.4 869.8,287.1 869.9,286.2 870.0,280.6 870.1,285.1 870.2,281.7 870.3,276.8 870.4,280.5 870.5,275.8 870.6,277.2 870.8,284.7 870.9,287.3 871.0,282.5 871.1,280.0 871.2,284.1 871.3,278.5 871.4,273.6 871.5,268.0 871.6,278.7 871.8,267.3 871.9,265.3 872.0,271.5 872.1,273.5 872.2,269.6 872.3,275.8 872.5,271.2 872.6,271.7 872.7,271.9 872.8,267.6 872.9,269.9 873.1,277.1 873.2,264.6 873.3,268.0 873.4,268.7 873.6,264.2 873.7,265.5 873.8,258.7 873.9,262.8 874.1,264.0 874.2,267.5 874.3,266.3 874.5,260.0 874.6,257.4 874.7,267.9 874.9,263.8 875.0,252.5 875.1,257.9 875.3,255.2 875.4,255.7 875.5,250.9 875.7,255.3 875.8,254.3 876.0,254.8 876.1,258.9 876.3,255.5 876.4,254.8 876.6,257.9 876.7,247.8 876.9,254.1 877.0,249.6 877.2,252.0 877.3,255.1 877.5,246.7 877.6,255.5 877.8,243.2 877.9,249.2 878.1,248.3 878.3,243.6 878.4,247.4 878.6,245.6 878.7,244.7 878.9,247.8 879.1,237.4 879.3,242.0 879.4,247.0 879.6,237.5 879.8,247.1 879.9,237.2 880.1,243.3 880.3,235.6 880.5,238.9 880.7,237.9 880.8,232.6 881.0,240.7 881.2,237.0 881.4,239.4 881.6,236.7 881.8,236.4 882.0,235.4 882.3,231.6 882.5,239.5 882.7,227.6 883.0,238.1 883.2,237.4 883.5,231.7 883.7,235.1 884.0,233.1 884.3,231.7 884.6,226.8 884.9,226.7 885.3,226.6 885.6,225.5 886.0,234.3 886.4,225.2 886.8,225.4 887.2,225.4 887.6,230.5 888.0,225.4 888.5,226.1 889.0,221.5 889.5,221.5 890.0,218.5 890.6,220.0 891.1,220.3 891.7,228.3 892.3,223.1 892.9,217.4 893.5,222.1 894.1,217.2 894.7,223.2 895.3,221.4 895.9,227.1 896.5,218.7 897.1,227.0 897.7,218.6 898.3,228.9 898.8,224.2 899.4,216.0 899.9,226.9 900.5,219.7 901.0,221.1 901.5,218.3 902.0,228.3 902.5,218.1 903.0,227.5 903.5,223.1 904.0,227.4 904.5,222.4 904.9,219.8 905.4,231.9 905.9,228.6 906.3,222.3 906.8,234.0 907.2,233.5 907.6,223.8 908.1,221.9 908.5,230.7 908.9,224.5 909.3,233.3 909.7,230.1 910.1,235.1 910.5,230.1 910.9,226.7 911.2,233.4 911.6,225.4 912.0,229.1 912.3,230.6 912.7,233.3 913.0,236.6 913.4,241.6 913.7,239.9 914.1,237.3 914.4,240.6 914.7,235.1 915.1,242.4 915.4,231.2 915.7,237.3 916.0,236.1 916.3,241.1 916.6,236.9 916.9,236.1 917.2,244.0 917.5,240.5 917.8,249.7 918.1,236.6 918.3,245.2 918.6,243.7 918.9,240.3 919.1,248.9 919.4,246.0 919.7,245.3 919.9,242.5 920.2,250.3 920.4,247.9 920.7,244.4 920.9,249.5 921.2,252.4 921.4,252.3 921.7,251.3 921.9,245.9 922.1,253.9 922.4,249.5 922.6,251.0 922.8,253.2 923.1,256.1 923.3,252.8 923.5,252.3 923.7,257.6 924.0,260.1 924.2,250.7 924.4,254.1 924.6,254.3 924.8,257.4 925.0,255.9 925.3,260.6 925.5,265.2 925.7,257.4 925.9,259.8 926.1,259.7 926.3,265.6 926.5,264.1 926.7,261.8 926.9,264.9 927.1,264.8 927.3,265.1 927.6,261.9 927.8,268.9 928.0,266.4 928.2,264.7 928.4,267.1 928.6,267.3 928.8,269.8 929.0,271.1 929.2,271.6 929.4,271.2 929.6,269.6 929.9,271.5 930.1,272.5 930.3,273.1 930.5,272.8 930.7,274.0 930.9,274.0 931.2,274.4 931.4,274.6 931.6,275.3 931.8,276.0 932.0,276.7 932.3,278.0 932.5,278.9 932.7,279.3 933.0,279.4 933.2,279.9 933.4,281.0 933.7,280.6 933.9,281.6 934.1,282.1 935.1,284.4 936.1,286.6 937.1,288.8 938.2,291.0 939.2,293.1 940.3,295.3 941.4,297.4 942.5,299.5 943.6,301.6 944.8,303.7 945.9,305.9 947.1,308.0 948.3,310.0 949.5,312.1 950.7,314.2 951.9,316.3 953.1,318.3 954.4,320.4 955.6,322.5 956.9,324.5 958.1,326.6 959.4,328.6 960.6,330.7 961.9,332.7 963.2,334.7 964.5,336.8 965.7,338.8 967.0,340.9 968.3,342.9 969.6,344.9 970.8,347.0 972.1,349.0 973.4,351.0 974.6,353.1 975.9,355.1 977.1,357.1 978.4,359.2 979.6,361.2 980.8,363.3 982.1,365.3 983.3,367.4 984.5,369.4 985.7,371.5 986.9,373.5 988.2,375.6 989.4,377.7 990.6,379.7 991.8,381.8 993.0,383.9 994.2,386.0 995.5,388.1 996.7,390.2 997.9,392.3 999.2,394.4 1000.4,396.5 1001.7,398.6 1003.0,400.7 1004.3,402.7 1005.8,404.6 1007.3,406.4 1009.0,408.1 1010.8,409.6 1012.8,410.9 1014.9,412.0 1017.1,412.9 1019.4,413.5 1021.8,414.0 1024.3,414.2 1026.7,414.1 1029.1,413.7 1031.5,413.2 1033.9,412.4 1036.2,411.4 1038.4,410.3 1040.5,408.9 1042.4,407.4 1044.3,405.8 1046.0,404.1 1047.5,402.3 1049.0,400.4 1050.3,398.4 1051.6,396.4 1052.7,394.3 1053.8,392.1 1054.8,389.9 1055.7,387.7 1056.6,385.5 1057.5,383.3 1058.3,381.0 1059.0,378.7 1059.8,376.4 1060.4,374.1 1061.1,371.8 1061.7,369.5 1062.3,367.2 1062.9,364.8 1063.5,362.5 1064.0,360.1 1064.5,357.8 1065.1,355.4 1065.6,353.1 1066.1,350.7 1066.6,348.4 1067.2,346.0 1067.7,343.6 1068.2,341.3 1068.8,339.0 1069.4,336.6 1070.0,334.3 1070.6,332.0 1071.2,329.7 1071.9,327.4 1072.6,325.1 1073.2,322.8 1073.9,320.5 1074.6,318.2 1075.3,315.9 1076.0,313.6 1076.7,311.3 1077.5,309.0 1078.2,306.8 1078.9,304.5 1079.7,302.2 1080.4,299.9 1081.1,297.7 1081.9,295.4 1082.6,293.1 1083.4,290.8 1084.1,288.5 1084.8,286.3 1085.5,284.0 1086.3,281.7 1087.0,279.4 1087.7,277.1 1088.4,274.8 1089.0,272.5 1089.7,270.2 1090.4,267.9 1091.0,265.5 1091.6,263.2 1092.3,260.9 1092.9,258.6 1093.5,256.2 1094.1,253.9 1094.7,251.5 1095.3,249.2 1095.9,246.9 1096.5,244.5 1097.1,242.2 1097.7,239.9 1098.4,237.5 1099.0,235.2 1099.7,232.9 1100.4,230.6 1101.1,228.3 1101.8,226.0 1102.6,223.8 1103.4,221.5 1104.2,219.3 1105.1,217.1 1106.0,214.9 1106.9,212.7 1107.9,210.5 1109.0,208.9 1109.2,208.3 1109.5,207.3 1109.8,206.0 1110.0,205.8 1110.3,206.1 1110.6,205.9 1110.9,205.5 1111.2,203.7 1111.5,204.9 1111.7,204.3 1112.0,202.9 1112.3,201.9 1112.6,201.6 1113.0,200.6 1113.3,201.8 1113.6,200.7 1113.9,199.0 1114.2,196.7 1114.5,197.7 1114.9,197.1 1115.2,197.2 1115.5,198.0 1115.9,197.7 1116.2,195.8 1116.6,195.8 1116.9,194.4 1117.3,194.2 1117.6,192.4 1118.0,194.9 1118.4,193.6 1118.7,192.7 1119.1,192.5 1119.5,192.7 1119.9,191.5 1120.3,192.0 1120.7,192.0 1121.1,191.3 1121.5,189.2 1121.9,188.9 1122.3,187.3 1122.8,186.6 1123.2,187.0 1123.6,187.1 1124.1,186.8 1124.6,187.1 1125.0,185.8 1125.5,185.5 1126.0,185.7 1126.5,186.9 1127.1,185.5 1127.6,186.2 1128.1,185.6 1128.7,185.3 1129.2,187.2 1129.8,184.8 1130.4,185.1 1131.0,186.8 1131.6,188.1 1132.2,186.9 1132.7,186.6 1133.3,188.1 1133.9,188.5 1134.5,189.2 1135.1,188.1 1135.7,187.7 1136.3,189.5 1136.8,189.8 1137.4,188.7 1137.9,189.0 1138.4,190.3 1138.9,192.4 1139.4,190.7 1139.9,192.2 1140.4,191.6 1140.8,191.3 1141.3,192.1 1141.7,193.0 1142.2,191.7 1142.6,194.7 1143.0,194.5 1143.4,194.4 1143.8,195.6 1144.2,196.4 1144.6,197.6 1145.0,198.5 1145.4,197.3 1145.8,198.4 1146.2,198.7 1146.5,197.5 1146.9,200.6 1147.3,199.1 1147.7,200.2 1148.1,199.9 1148.4,200.8 1148.8,202.6 1149.2,202.1 1149.6,203.8 1150.0,202.6 1150.4,203.0 1150.8,203.0 1151.2,202.7 1151.6,203.8 1152.0,204.7 1152.4,204.1 1152.8,207.4 1153.3,206.5 1153.7,206.1 1154.2,208.0 1154.6,205.4 1155.1,207.6 1155.6,207.4 1156.1,208.3 1156.6,207.4 1157.1,209.1 1157.6,209.2 1158.1,208.5 1158.6,209.3 1159.1,209.3 1159.6,210.4 1160.1,210.2 1160.6,212.8 1161.1,210.1 1161.6,213.8 1162.2,212.7 1162.7,213.1 1163.2,212.0 1163.7,215.0 1164.2,215.2 1164.7,215.0 1165.2,214.1 1165.7,218.0 1166.2,215.9 1166.7,215.5 1167.1,215.8 1167.6,218.2 1168.0,218.8 1168.5,217.5 1168.9,218.7 1169.3,220.4 1169.7,219.0 1170.1,218.6 1170.5,218.7 1170.9,220.4 1171.2,219.2 1171.6,219.2 1171.9,217.8 1172.2,218.0 1172.4,218.7 1172.7,217.8 1173.0,217.3 1173.3,216.3 1173.6,216.9 1173.9,216.7 1174.3,215.9 1174.6,213.9 1175.0,216.6 1175.5,215.2 1175.9,213.7 1176.4,215.5 1176.9,214.6 1177.3,216.3 1177.8,216.3 1178.3,216.0 1178.8,218.2 1179.3,214.3 1179.8,217.0 1180.3,216.4 1180.8,217.0 1181.3,215.8 1181.8,216.0 1182.3,217.1 1182.7,219.5 1183.2,219.0 1183.7,217.7 1184.2,220.6 1184.7,218.1 1185.2,219.5 1185.7,220.1 1186.2,219.2 1186.7,218.0 1187.2,219.2 1187.7,221.0 1188.2,218.9 1188.7,219.7 1189.2,221.8 1189.7,221.5 1190.2,221.0 1190.7,223.4 1191.2,222.5 1191.7,222.8 1192.1,223.2 1192.6,223.6 1193.1,221.9 1193.6,224.7 1194.1,224.1 1194.6,225.0 1195.1,224.7 1195.5,224.7 1196.0,224.5 1196.5,225.5 1197.0,225.2 1197.4,227.4 1197.9,226.1 1198.4,226.6 1198.8,228.3 1199.3,226.6 1199.8,229.0 1200.2,228.7 1200.7,228.5 1201.1,230.2 1201.6,230.9 1202.0,230.4 1202.5,231.9 1202.9,231.6 1204.7,233.8 1206.4,235.6 1208.0,237.5 1209.6,239.4 1211.1,241.4 1212.5,243.4 1213.9,245.4 1215.1,247.5 1216.3,249.6 1217.5,251.7 1218.5,253.8 1219.6,255.9 1220.5,258.1 1221.5,260.2 1222.3,262.4 1223.2,264.6 1224.0,266.8 1224.8,269.0 1225.6,271.2 1226.4,273.5 1227.1,275.7 1227.9,278.0 1228.7,280.2 1229.5,282.4 1230.3,284.7 1231.1,286.9 1231.9,289.2 1232.7,291.4 1233.5,293.7 1234.4,295.9 1235.2,298.2 1236.1,300.5 1236.9,302.7 1237.8,305.0 1238.6,307.2 1239.5,309.5 1240.4,311.7 1241.3,314.0 1242.1,316.3 1243.0,318.5 1243.9,320.8 1244.8,323.1 1245.7,325.3 1246.6,327.6 1247.4,329.8 1248.3,332.1 1249.2,334.4 1250.1,336.6 1251.0,338.9 1251.8,341.1 1252.7,343.4 1253.6,345.7 1254.4,347.9 1255.3,350.2 1256.1,352.5 1257.0,354.7 1257.8,357.0 1258.6,359.2 1259.4,361.5 1260.3,363.7 1261.1,366.0 1261.9,368.3 1262.7,370.5 1263.5,372.8 1264.3,375.0 1265.1,377.3 1265.9,379.5 1266.7,381.8 1267.5,384.0 1268.3,386.3 1269.1,388.5 1269.9,390.8 1270.6,393.0 1271.4,395.2 1272.2,397.5 1273.0,399.7 1273.8,402.0 1274.6,404.2 1275.4,406.4 1276.2,408.7 1277.1,410.9 1277.9,413.1 1278.7,415.4 1279.5,417.6 1280.3,419.8 1281.2,422.0 1282.0,424.3 1282.9,426.5 1283.7,428.7 1284.6,430.9 1285.4,433.1 1286.3,435.3 1287.2,437.5 1288.1,439.8 1289.0,442.0 1289.9,444.2 1290.8,446.4 1291.7,448.6 1292.7,450.8 1293.6,452.9 1294.6,455.1 1295.5,457.3 1296.5,459.5 1297.5,461.7 1298.5,463.9 1299.5,466.0 1300.6,468.2 1301.6,470.4 1302.7,472.6 1303.8,474.7 1304.8,476.9 1305.9,479.0 1307.1,481.2 1308.2,483.4 1309.4,485.5 1310.5,487.7 1311.7,489.8 1312.9,491.9 1314.1,494.1 1315.4,496.2 1316.6,498.3 1317.9,500.4 1319.2,502.5 1320.5,504.6 1321.9,506.7 1323.2,508.8 1324.6,510.8 1326.0,512.8 1327.4,514.8 1328.9,516.8 1330.3,518.8 1331.8,520.7 1333.3,522.6 1334.9,524.5 1336.4,526.3 1338.0,528.2 1339.6,530.0 1341.3,531.7 1342.9,533.4 1344.6,535.1 1346.3,536.8 1348.1,538.4 1349.8,539.9 1351.6,541.5 1353.5,542.9 1355.3,544.4 1357.2,545.7 1359.1,547.1 1361.0,548.4 1363.0,549.6 1365.0,550.8 1367.0,551.9 1369.1,553.0 1371.2,554.0 1373.3,554.9 1375.5,555.8 1377.7,556.6 1379.9,557.4 1382.1,558.2 1384.4,558.9 1386.6,559.5 1388.9,560.1 1391.3,560.6 1393.6,561.1 1396.0,561.6 1398.3,562.0 1400.7,562.4 1403.1,562.8 1405.5,563.1 1408.0,563.4 1410.4,563.6 1412.8,563.8 1415.3,564.0 1417.7,564.2 1420.2,564.3 1422.7,564.5 1425.1,564.6 1427.6,564.7 1430.0,564.7 1432.5,564.8 1435.0,564.8 1437.4,564.9 1439.8,564.9 1442.3,564.9 1444.7,564.9 1447.1,564.9 1449.5,564.9 1451.9,564.9 1454.3,564.9 1456.6,564.9 1459.0,564.9 1461.3,564.9 1463.6,564.9 1465.8,564.9 1468.1,564.9 1470.3,565.0" fill="none" stroke="#9636cc" stroke-width="2.9" stroke-linejoin="round" stroke-linecap="round" clip-path="url(#cb)"/><polyline points="849.0,400.0 849.3,397.6 849.7,395.3 850.1,392.9 850.4,390.5 850.8,388.2 851.2,385.8 851.5,383.4 851.9,381.0 852.3,378.7 852.6,376.3 853.0,373.9 853.4,371.6 853.8,369.2 854.2,366.8 854.6,364.5 855.0,362.1 855.4,359.7 855.8,357.3 856.2,355.0 856.6,352.6 857.0,350.2 857.4,347.9 857.8,345.5 858.2,343.1 858.6,340.8 859.0,338.4 859.4,336.0 859.8,333.7 860.3,331.4 860.4,331.0 860.5,329.9 860.6,329.2 860.7,329.1 860.8,329.1 860.9,328.0 861.0,326.5 861.1,326.1 861.2,326.0 861.3,326.1 861.4,324.8 861.5,323.9 861.6,323.4 861.7,323.2 861.8,321.7 861.9,321.9 862.0,321.6 862.2,322.8 862.3,320.0 862.4,320.9 862.5,317.4 862.6,319.6 862.7,318.0 862.8,316.3 862.9,316.5 863.0,317.6 863.1,314.8 863.2,316.8 863.3,317.2 863.4,316.9 863.5,316.4 863.6,309.7 863.8,312.6 863.9,309.7 864.0,312.9 864.1,310.3 864.2,310.1 864.3,310.1 864.4,306.8 864.5,308.0 864.6,305.2 864.7,312.4 864.8,304.7 864.9,305.5 865.1,299.6 865.2,299.8 865.3,301.1 865.4,305.6 865.5,305.0 865.6,302.8 865.7,299.2 865.8,307.1 865.9,296.6 866.0,296.5 866.1,300.7 866.2,294.8 866.4,298.8 866.5,300.8 866.6,296.4 866.7,297.6 866.8,295.6 866.9,292.4 867.0,284.0 867.1,289.1 867.2,293.1 867.3,286.2 867.4,289.8 867.5,292.2 867.6,296.0 867.8,284.8 867.9,287.5 868.0,289.9 868.1,290.5 868.2,282.3 868.3,294.8 868.4,283.3 868.5,290.5 868.6,284.7 868.7,286.6 868.8,291.3 868.9,286.7 869.0,283.7 869.1,278.3 869.2,279.2 869.3,275.3 869.4,289.5 869.5,273.5 869.6,268.4 869.7,286.2 869.8,284.1 869.9,276.3 870.0,281.0 870.1,273.0 870.2,273.5 870.3,277.8 870.4,276.7 870.5,272.2 870.6,281.2 870.7,276.5 870.8,273.2 870.9,266.5 871.0,272.0 871.1,269.3 871.1,269.8 871.2,273.4 871.3,266.3 871.4,269.7 871.5,271.6 871.6,268.9 871.7,277.7 871.8,257.6 871.8,265.1 871.9,259.0 872.0,260.0 872.1,271.1 872.2,263.3 872.3,266.1 872.3,253.8 872.4,256.3 872.5,266.2 872.6,264.9 872.7,265.8 872.7,260.5 872.8,256.9 872.9,258.9 873.0,262.9 873.0,253.0 873.1,256.3 873.2,251.2 873.2,259.2 873.3,245.4 873.4,256.6 873.4,260.7 873.5,243.7 873.6,253.2 873.6,253.5 873.7,256.6 873.8,251.2 873.8,244.8 873.9,246.8 873.9,256.2 874.0,254.6 874.0,240.1 874.1,238.8 874.1,238.2 874.2,236.4 874.2,243.3 874.3,237.2 874.3,249.7 874.4,245.3 874.4,235.2 874.5,242.0 874.5,237.5 874.6,239.9 874.6,234.4 874.6,232.8 874.7,232.5 874.7,235.4 874.8,240.8 874.8,237.3 874.8,227.6 874.9,239.0 874.9,241.3 875.0,238.9 875.0,238.6 875.0,223.9 875.1,231.5 875.1,223.7 875.2,235.7 875.3,224.5 875.3,233.5 875.4,224.7 875.4,232.0 875.5,224.5 875.6,219.1 875.7,224.7 875.8,222.7 875.9,232.7 875.9,221.2 876.1,224.4 876.2,224.6 876.3,231.2 876.4,215.3 876.5,223.8 876.7,221.6 876.8,225.1 877.0,228.7 877.1,216.3 877.3,222.7 877.5,219.0 877.7,219.1 877.9,209.6 878.1,222.5 878.3,224.9 878.6,213.1 878.8,211.9 879.1,223.5 879.3,207.1 879.6,206.0 879.9,205.4 880.2,218.2 880.5,216.7 880.9,210.5 881.2,213.1 881.6,201.8 881.9,212.5 882.3,208.4 882.7,209.3 883.1,206.5 883.5,206.2 883.9,202.6 884.3,199.0 884.8,205.5 885.2,201.7 885.7,209.5 886.1,211.2 886.6,209.1 887.1,204.0 887.5,199.7 888.0,202.0 888.5,203.6 889.0,205.9 889.5,211.6 890.0,195.6 890.5,202.5 891.0,202.5 891.5,206.5 892.0,209.5 892.5,207.4 893.0,204.5 893.5,206.9 894.0,205.2 894.5,208.7 895.0,205.9 895.5,205.7 896.0,197.9 896.5,210.2 897.0,200.8 897.5,205.1 898.0,209.1 898.5,211.9 898.9,212.7 899.4,195.3 899.9,201.1 900.4,201.4 900.8,203.2 901.3,199.2 901.8,206.9 902.2,198.8 902.7,203.3 903.1,215.2 903.6,212.1 904.0,207.5 904.5,201.6 904.9,217.3 905.4,213.3 905.8,204.8 906.2,207.6 906.6,213.7 907.0,214.9 907.4,207.8 907.8,220.8 908.2,209.9 908.6,209.2 909.0,220.4 909.4,208.4 909.8,218.4 910.2,210.3 910.5,218.0 910.9,212.7 911.3,215.0 911.6,225.7 912.0,217.7 912.3,217.6 912.7,221.4 913.0,216.0 913.3,214.7 913.7,218.9 914.0,217.5 914.3,216.6 914.6,230.2 915.0,215.2 915.3,227.8 915.6,213.4 915.9,224.3 916.2,224.1 916.5,224.2 916.8,226.1 917.1,220.9 917.4,222.6 917.7,227.7 918.0,228.8 918.2,226.8 918.5,228.7 918.8,228.0 919.1,234.9 919.3,234.2 919.6,228.8 919.9,237.0 920.2,238.2 920.4,235.3 920.7,228.9 920.9,236.6 921.2,235.4 921.5,230.9 921.7,238.6 922.0,237.4 922.2,243.9 922.5,242.3 922.7,230.4 923.0,238.9 923.2,238.4 923.4,238.1 923.7,239.2 923.9,245.6 924.2,237.5 924.4,241.8 924.6,239.8 924.9,248.9 925.1,245.7 925.4,239.9 925.6,241.3 925.8,238.8 926.1,246.5 926.3,244.5 926.5,248.8 926.8,245.4 927.0,249.8 927.2,243.4 927.5,243.8 927.7,250.3 927.9,250.3 928.2,245.7 928.4,250.5 928.6,252.3 928.9,254.1 929.1,253.2 929.3,253.3 929.6,249.2 929.8,254.2 930.1,253.7 930.3,253.9 930.5,260.7 930.8,260.0 931.0,254.2 931.3,256.7 931.5,256.4 931.7,254.6 932.0,258.0 932.2,259.4 932.5,260.8 932.7,259.1 933.0,263.2 933.2,262.2 933.5,259.1 933.7,262.1 934.0,264.9 934.2,266.8 934.5,263.1 934.7,265.0 935.0,267.6 935.2,263.1 935.5,269.0 935.7,265.5 936.0,268.3 936.2,271.2 936.5,270.5 936.7,268.0 937.0,273.5 937.2,268.0 937.5,267.9 937.8,273.8 938.0,274.4 938.3,271.5 938.5,274.4 938.8,273.7 939.1,272.7 939.3,273.5 939.6,275.3 939.8,274.0 940.1,277.7 940.4,279.1 940.6,275.1 940.9,277.4 941.1,279.4 941.4,281.6 941.7,278.0 941.9,279.5 942.2,280.5 942.5,279.4 942.7,281.4 943.0,282.4 943.3,282.4 943.5,283.5 943.8,282.7 944.1,284.1 944.3,284.7 944.6,285.6 944.9,286.4 945.2,286.6 945.4,287.0 945.7,287.5 946.0,288.0 946.2,288.5 946.5,289.6 946.8,290.0 947.9,291.8 949.0,294.0 950.1,296.1 951.2,298.3 952.3,300.4 953.4,302.6 954.5,304.7 955.7,306.8 956.8,309.0 957.9,311.1 959.1,313.2 960.2,315.3 961.3,317.5 962.5,319.6 963.6,321.7 964.8,323.8 965.9,325.9 967.1,328.1 968.2,330.2 969.4,332.3 970.5,334.4 971.7,336.5 972.8,338.6 974.0,340.7 975.1,342.8 976.2,344.9 977.4,347.0 978.6,349.0 979.7,351.1 980.9,353.2 982.1,355.2 983.3,357.3 984.6,359.3 985.8,361.3 987.1,363.3 988.4,365.3 989.8,367.2 991.2,369.2 992.6,371.1 994.1,373.0 995.6,374.8 997.2,376.6 998.8,378.4 1000.4,380.2 1002.1,382.0 1003.9,383.7 1005.7,385.4 1007.6,387.0 1009.6,388.6 1011.6,390.1 1013.6,391.5 1015.7,392.7 1017.9,393.7 1020.0,394.5 1022.2,395.0 1024.4,395.2 1026.7,395.1 1028.9,394.7 1031.1,394.0 1033.2,393.1 1035.3,391.9 1037.4,390.6 1039.4,389.1 1041.3,387.4 1043.1,385.6 1044.8,383.6 1046.4,381.6 1047.9,379.6 1049.2,377.5 1050.4,375.4 1051.4,373.2 1052.4,371.1 1053.3,368.9 1054.1,366.7 1054.9,364.4 1055.7,362.2 1056.4,360.0 1057.1,357.7 1057.9,355.4 1058.6,353.2 1059.3,350.9 1060.0,348.6 1060.7,346.3 1061.4,344.1 1062.1,341.8 1062.7,339.5 1063.4,337.2 1064.1,334.9 1064.8,332.5 1065.4,330.2 1066.1,327.9 1066.8,325.6 1067.4,323.3 1068.1,321.0 1068.8,318.7 1069.4,316.3 1070.1,314.0 1070.8,311.7 1071.5,309.4 1072.1,307.1 1072.8,304.8 1073.5,302.5 1074.2,300.2 1074.9,297.8 1075.6,295.5 1076.3,293.2 1077.0,291.0 1077.7,288.7 1078.4,286.4 1079.1,284.1 1079.8,281.8 1080.5,279.5 1081.3,277.2 1082.0,274.9 1082.7,272.7 1083.4,270.4 1084.1,268.1 1084.9,265.8 1085.6,263.5 1086.3,261.3 1087.0,259.0 1087.8,256.7 1088.5,254.4 1089.2,252.1 1089.9,249.9 1090.6,247.6 1091.3,245.3 1092.0,243.0 1092.7,240.7 1093.4,238.4 1094.1,236.1 1094.8,233.8 1095.4,231.5 1096.1,229.2 1096.8,226.9 1097.4,224.6 1098.1,222.3 1098.7,219.9 1099.3,217.6 1100.0,215.3 1100.6,213.0 1101.2,210.6 1101.8,208.3 1102.3,205.9 1102.9,203.6 1103.5,201.2 1104.0,198.8 1104.6,196.5 1105.1,194.1 1105.7,191.7 1106.2,189.3 1106.5,188.1 1106.7,187.6 1106.8,187.0 1107.0,186.8 1107.1,185.4 1107.3,184.6 1107.4,184.7 1107.6,183.2 1107.8,183.5 1107.9,183.7 1108.1,181.7 1108.3,182.5 1108.4,181.1 1108.6,181.8 1108.8,179.8 1109.0,179.6 1109.2,179.6 1109.4,176.9 1109.6,178.5 1109.8,175.1 1110.0,176.1 1110.2,172.1 1110.4,174.5 1110.6,176.1 1110.8,176.7 1111.0,174.0 1111.3,171.7 1111.5,171.9 1111.7,173.3 1112.0,171.8 1112.2,171.6 1112.5,173.1 1112.8,170.8 1113.0,168.1 1113.3,170.5 1113.6,169.1 1113.9,168.9 1114.2,166.0 1114.5,165.6 1114.8,166.9 1115.1,164.7 1115.4,164.1 1115.7,164.0 1116.1,161.8 1116.4,164.1 1116.7,162.2 1117.1,163.1 1117.5,165.3 1117.8,163.1 1118.2,158.4 1118.6,162.2 1119.0,163.6 1119.4,160.8 1119.8,159.5 1120.2,158.7 1120.6,161.1 1121.1,160.4 1121.5,160.5 1121.9,157.7 1122.4,159.8 1122.9,156.9 1123.3,157.9 1123.8,157.1 1124.3,158.1 1124.8,156.0 1125.3,155.0 1125.8,155.4 1126.4,154.6 1126.9,154.9 1127.4,154.6 1128.0,156.0 1128.5,156.5 1129.1,158.0 1129.7,156.7 1130.2,155.4 1130.8,156.6 1131.4,157.9 1132.0,155.0 1132.6,159.1 1133.1,157.3 1133.7,155.9 1134.3,156.6 1134.9,153.9 1135.5,158.0 1136.1,156.9 1136.7,160.2 1137.3,158.1 1137.9,158.3 1138.5,158.3 1139.0,162.1 1139.6,159.3 1140.2,159.5 1140.8,160.1 1141.4,161.4 1141.9,161.9 1142.5,161.9 1143.0,161.5 1143.6,161.6 1144.1,163.6 1144.7,165.5 1145.2,163.3 1145.7,163.9 1146.2,163.6 1146.7,164.9 1147.2,165.5 1147.7,164.1 1148.2,165.2 1148.7,166.9 1149.1,167.1 1149.6,166.8 1150.0,168.0 1150.4,168.8 1150.9,168.0 1151.3,166.8 1151.7,169.5 1152.1,169.6 1152.4,169.9 1152.8,170.2 1153.2,169.7 1153.5,169.0 1153.9,169.9 1154.2,169.1 1154.6,172.3 1154.9,172.4 1155.3,171.8 1155.6,172.4 1156.0,173.8 1156.3,175.7 1156.6,175.0 1157.0,173.1 1157.4,175.2 1157.7,175.6 1158.1,175.9 1158.5,178.1 1158.9,178.5 1159.3,177.1 1159.7,178.4 1160.1,178.4 1160.5,176.1 1161.0,179.8 1161.4,180.5 1161.9,178.7 1162.4,182.5 1162.9,184.7 1163.4,185.4 1163.9,184.3 1164.4,183.2 1164.9,180.9 1165.5,182.7 1166.0,183.8 1166.6,183.2 1167.2,186.6 1167.7,184.3 1168.3,184.2 1168.9,185.9 1169.4,185.5 1170.0,186.0 1170.5,187.0 1171.0,185.3 1171.5,188.9 1171.9,186.5 1172.4,185.5 1172.8,185.9 1173.1,186.6 1173.4,184.7 1173.7,183.7 1173.9,184.7 1174.1,185.4 1174.3,184.4 1174.4,181.5 1174.6,181.2 1174.7,179.3 1174.9,178.7 1175.0,180.3 1175.2,178.7 1175.4,179.6 1175.6,177.0 1175.8,177.9 1176.1,177.0 1176.4,178.1 1176.7,178.3 1177.0,176.0 1177.4,176.8 1177.7,177.0 1178.1,177.3 1178.5,179.6 1178.9,175.6 1179.4,178.8 1179.8,177.3 1180.3,179.4 1180.7,175.2 1181.2,178.5 1181.7,176.6 1182.1,178.1 1182.6,178.3 1183.1,181.1 1183.6,180.6 1184.1,177.8 1184.6,178.9 1185.0,180.8 1185.5,183.3 1186.0,179.6 1186.4,183.3 1186.9,184.1 1187.3,183.0 1187.8,180.9 1188.3,186.6 1188.7,183.3 1189.1,184.6 1189.6,188.9 1190.0,184.6 1190.5,187.1 1190.9,187.1 1191.4,186.5 1191.8,185.4 1192.3,188.8 1192.7,187.8 1193.2,189.5 1193.6,189.4 1194.1,187.2 1194.5,189.5 1195.0,187.4 1195.4,192.7 1195.9,188.6 1196.3,193.2 1196.8,188.0 1197.2,189.8 1197.7,192.6 1198.1,189.0 1198.6,193.0 1199.0,192.9 1199.5,192.9 1199.9,193.9 1200.4,194.0 1200.8,196.2 1201.3,196.6 1201.7,196.3 1202.2,196.7 1202.6,197.5 1203.0,197.7 1203.5,197.9 1205.1,199.6 1206.8,201.3 1208.3,203.1 1209.8,204.9 1211.2,206.8 1212.5,208.8 1213.7,210.8 1214.8,212.9 1215.9,215.0 1217.0,217.2 1218.0,219.4 1219.0,221.6 1219.9,223.8 1220.8,226.1 1221.7,228.3 1222.6,230.6 1223.5,232.8 1224.4,235.1 1225.3,237.3 1226.2,239.6 1227.1,241.8 1227.9,244.0 1228.8,246.3 1229.7,248.5 1230.6,250.8 1231.4,253.0 1232.3,255.2 1233.2,257.5 1234.0,259.7 1234.9,261.9 1235.7,264.2 1236.6,266.4 1237.4,268.6 1238.2,270.9 1239.1,273.1 1239.9,275.4 1240.7,277.6 1241.5,279.8 1242.3,282.1 1243.1,284.4 1243.9,286.6 1244.7,288.9 1245.5,291.1 1246.3,293.4 1247.0,295.7 1247.8,297.9 1248.6,300.2 1249.3,302.5 1250.1,304.8 1250.8,307.1 1251.6,309.3 1252.3,311.6 1253.1,313.9 1253.8,316.2 1254.6,318.5 1255.3,320.8 1256.0,323.1 1256.8,325.3 1257.5,327.6 1258.2,329.9 1259.0,332.2 1259.7,334.5 1260.4,336.8 1261.2,339.1 1261.9,341.4 1262.6,343.7 1263.3,346.0 1264.1,348.3 1264.8,350.6 1265.5,352.9 1266.3,355.2 1267.0,357.5 1267.8,359.7 1268.5,362.0 1269.2,364.3 1270.0,366.6 1270.7,368.9 1271.5,371.2 1272.2,373.5 1273.0,375.8 1273.8,378.0 1274.5,380.3 1275.3,382.6 1276.1,384.9 1276.9,387.1 1277.7,389.4 1278.4,391.7 1279.2,393.9 1280.1,396.2 1280.9,398.4 1281.7,400.7 1282.5,403.0 1283.3,405.2 1284.2,407.4 1285.0,409.7 1285.9,411.9 1286.7,414.2 1287.6,416.4 1288.5,418.6 1289.4,420.8 1290.3,423.1 1291.2,425.3 1292.1,427.5 1293.0,429.7 1293.9,431.9 1294.9,434.1 1295.8,436.3 1296.8,438.4 1297.7,440.6 1298.7,442.8 1299.7,445.0 1300.7,447.1 1301.8,449.3 1302.8,451.4 1303.8,453.6 1304.9,455.7 1306.0,457.9 1307.0,460.0 1308.1,462.1 1309.2,464.2 1310.4,466.3 1311.5,468.4 1312.7,470.5 1313.8,472.6 1315.0,474.7 1316.2,476.8 1317.5,478.9 1318.7,480.9 1319.9,483.0 1321.2,485.0 1322.5,487.1 1323.8,489.1 1325.1,491.1 1326.5,493.1 1327.8,495.1 1329.2,497.1 1330.6,499.1 1332.0,501.1 1333.5,503.1 1334.9,505.0 1336.4,507.0 1337.9,508.9 1339.5,510.8 1341.0,512.7 1342.6,514.5 1344.2,516.3 1345.9,518.1 1347.6,519.8 1349.3,521.5 1351.0,523.2 1352.8,524.8 1354.6,526.3 1356.4,527.8 1358.3,529.3 1360.2,530.6 1362.2,532.0 1364.2,533.2 1366.2,534.4 1368.3,535.6 1370.4,536.7 1372.5,537.7 1374.7,538.7 1376.9,539.6 1379.1,540.4 1381.3,541.2 1383.6,542.0 1385.9,542.7 1388.2,543.4 1390.5,544.0 1392.9,544.6 1395.2,545.1 1397.6,545.6 1400.0,546.0 1402.4,546.4 1404.8,546.8 1407.2,547.1 1409.6,547.4 1412.0,547.7 1414.4,547.9 1416.8,548.1 1419.2,548.3 1421.6,548.4 1424.0,548.6 1426.4,548.7 1428.8,548.7 1431.2,548.8 1433.6,548.8 1435.9,548.9 1438.3,548.9 1440.7,548.9 1443.1,548.9 1445.5,548.9 1447.9,548.9 1450.3,548.9 1452.7,548.9 1455.0,548.9 1457.4,548.9 1459.8,548.9 1462.3,548.9 1464.7,548.9 1467.1,549.0 1469.5,549.0 1470.7,549.1" fill="none" stroke="#1c1cae" stroke-width="2.9" stroke-linejoin="round" stroke-linecap="round" clip-path="url(#cb)"/><polyline points="849.1,405.0 849.4,402.6 849.7,400.2 850.0,397.9 850.3,395.5 850.6,393.1 850.9,390.8 851.3,388.4 851.6,386.0 852.0,383.7 852.3,381.3 852.7,378.9 853.1,376.5 853.5,374.2 853.9,371.8 854.3,369.4 854.8,367.1 855.2,364.7 855.6,362.3 856.0,360.0 856.5,357.6 856.9,355.2 857.4,352.9 857.8,350.5 858.3,348.1 858.7,345.8 859.2,343.4 859.6,341.0 860.1,338.7 860.5,336.3 861.0,334.0 861.4,331.6 861.9,329.2 862.3,327.0 862.5,326.2 862.6,326.4 862.7,325.3 862.8,324.6 862.9,324.1 863.0,323.0 863.1,322.3 863.2,322.5 863.3,321.2 863.4,321.6 863.6,320.2 863.7,318.2 863.8,318.0 863.9,317.8 864.0,315.9 864.1,317.3 864.2,316.5 864.3,317.4 864.4,314.6 864.5,314.7 864.6,315.3 864.7,314.9 864.8,311.8 864.9,315.0 865.0,311.1 865.1,313.5 865.2,310.4 865.3,309.6 865.5,307.5 865.6,308.9 865.7,313.1 865.8,306.7 865.9,310.5 866.0,309.5 866.1,305.4 866.2,308.0 866.3,308.1 866.4,303.7 866.4,302.6 866.5,305.9 866.6,303.5 866.7,307.4 866.8,302.6 866.9,297.9 867.0,300.2 867.1,296.5 867.2,301.2 867.3,300.5 867.4,296.8 867.5,294.8 867.6,299.4 867.7,295.1 867.8,299.3 867.9,292.0 868.0,293.6 868.0,292.1 868.1,289.9 868.2,300.8 868.3,297.5 868.4,289.4 868.5,293.5 868.6,284.4 868.7,293.9 868.8,292.7 868.9,287.4 869.0,286.8 869.0,288.2 869.1,288.3 869.2,284.9 869.3,282.6 869.4,284.1 869.5,282.9 869.6,286.6 869.7,283.6 869.8,283.5 869.9,276.1 870.0,280.1 870.0,279.5 870.1,278.4 870.2,279.3 870.3,278.0 870.4,272.9 870.5,281.5 870.6,280.8 870.7,274.8 870.8,278.6 870.9,272.0 871.0,270.2 871.1,273.6 871.2,279.9 871.3,272.9 871.4,266.6 871.5,273.0 871.6,269.2 871.7,268.0 871.7,271.8 871.8,262.7 871.9,261.9 872.0,262.6 872.1,272.5 872.2,267.8 872.3,264.3 872.4,263.4 872.6,268.5 872.7,270.4 872.8,261.4 872.9,265.1 873.0,273.6 873.1,265.4 873.2,260.7 873.3,263.1 873.4,261.5 873.5,263.4 873.6,261.4 873.7,257.0 873.8,258.1 873.9,259.8 874.1,256.8 874.2,252.4 874.3,253.8 874.4,259.0 874.5,261.3 874.6,259.3 874.8,246.8 874.9,251.3 875.0,257.9 875.1,244.8 875.2,246.8 875.4,250.6 875.5,248.4 875.6,253.5 875.7,252.5 875.9,247.9 876.0,243.8 876.1,242.9 876.3,242.9 876.4,239.1 876.5,248.1 876.7,239.4 876.8,250.5 876.9,246.0 877.1,236.0 877.2,242.5 877.4,243.6 877.5,234.0 877.6,240.5 877.8,232.6 877.9,243.8 878.1,231.0 878.2,240.5 878.4,245.6 878.5,242.8 878.7,232.4 878.8,236.6 879.0,229.7 879.2,232.3 879.3,240.1 879.5,238.7 879.6,225.2 879.8,230.6 880.0,234.1 880.1,226.1 880.3,235.5 880.5,236.4 880.7,230.3 880.8,226.7 881.0,233.9 881.2,228.0 881.4,222.2 881.5,223.0 881.7,220.5 881.9,230.8 882.1,224.9 882.3,227.3 882.5,228.7 882.7,230.6 882.9,217.5 883.1,220.3 883.3,227.2 883.5,224.9 883.7,218.3 883.9,222.0 884.1,214.1 884.4,213.0 884.6,210.7 884.9,215.4 885.1,212.6 885.4,216.6 885.7,223.4 886.0,209.8 886.3,215.9 886.7,220.4 887.0,215.7 887.4,214.2 887.7,217.6 888.1,205.4 888.6,219.9 889.0,215.4 889.4,217.1 889.9,217.1 890.4,205.3 890.9,204.6 891.5,206.3 892.0,211.4 892.6,218.2 893.2,217.7 893.8,209.8 894.5,213.2 895.1,215.1 895.8,208.7 896.5,219.0 897.1,218.7 897.8,215.4 898.4,218.4 899.0,216.9 899.7,214.8 900.3,209.7 900.8,209.4 901.4,209.0 901.9,206.4 902.5,220.6 903.0,210.8 903.5,206.8 904.0,211.8 904.4,208.8 904.9,214.6 905.3,213.2 905.8,211.1 906.2,216.4 906.6,215.8 907.0,215.3 907.4,223.1 907.8,215.4 908.2,219.7 908.5,225.5 908.9,227.3 909.3,218.5 909.6,213.6 909.9,228.7 910.3,222.2 910.6,218.0 910.9,217.2 911.3,219.5 911.6,221.1 911.9,219.1 912.2,237.2 912.5,230.0 912.8,227.1 913.1,224.7 913.4,219.4 913.7,228.7 914.0,226.6 914.3,228.7 914.6,227.1 914.9,233.3 915.2,235.1 915.4,228.1 915.7,225.8 916.0,233.4 916.3,238.4 916.6,234.9 916.8,235.7 917.1,228.6 917.4,232.6 917.7,237.6 917.9,237.3 918.2,236.4 918.5,239.1 918.7,240.7 919.0,238.3 919.2,235.9 919.5,233.8 919.8,240.4 920.0,239.5 920.3,240.1 920.5,245.2 920.8,239.4 921.0,241.4 921.3,245.2 921.5,240.3 921.8,236.5 922.0,242.6 922.2,247.8 922.5,243.6 922.7,245.3 923.0,240.6 923.2,251.1 923.4,242.1 923.7,246.2 923.9,248.3 924.2,255.5 924.4,250.3 924.6,248.3 924.9,246.5 925.1,250.7 925.3,248.5 925.5,250.9 925.8,253.4 926.0,257.4 926.2,251.1 926.5,258.8 926.7,249.9 926.9,261.5 927.1,254.7 927.4,256.1 927.6,256.4 927.8,258.8 928.0,258.6 928.3,258.4 928.5,258.0 928.7,259.0 928.9,261.1 929.1,260.2 929.4,260.3 929.6,259.0 929.8,263.2 930.0,264.9 930.3,261.8 930.5,267.2 930.7,265.3 930.9,266.2 931.1,262.6 931.4,268.4 931.6,270.4 931.8,272.4 932.0,267.4 932.3,269.1 932.5,271.4 932.7,271.5 932.9,269.6 933.2,271.6 933.4,274.0 933.6,273.7 933.8,273.0 934.1,275.7 934.3,271.4 934.5,275.6 934.7,274.1 935.0,275.2 935.2,277.9 935.4,280.0 935.7,278.3 935.9,278.3 936.1,281.4 936.4,280.4 936.6,276.1 936.8,279.3 937.1,279.8 937.3,280.3 937.5,279.7 937.8,283.4 938.0,283.3 938.2,286.0 938.5,283.7 938.7,284.8 939.0,284.2 939.2,287.1 939.5,287.9 939.7,288.9 940.0,288.6 940.2,287.3 940.5,289.8 940.7,288.1 941.0,289.0 941.2,289.9 941.5,292.6 941.8,290.6 942.0,291.0 942.3,292.5 942.5,293.7 942.8,293.7 943.1,294.2 943.3,294.0 943.6,294.8 943.9,296.1 944.1,296.1 944.4,296.4 944.7,297.1 944.9,298.0 946.0,299.8 947.2,302.0 948.3,304.1 949.4,306.3 950.6,308.4 951.7,310.5 952.9,312.6 954.1,314.7 955.3,316.8 956.5,318.9 957.7,321.0 958.9,323.1 960.1,325.2 961.3,327.3 962.5,329.4 963.7,331.4 964.9,333.5 966.1,335.5 967.4,337.6 968.6,339.6 969.8,341.6 971.0,343.7 972.1,345.7 973.3,347.7 974.5,349.7 975.7,351.8 976.9,353.8 978.1,355.8 979.2,357.8 980.4,359.9 981.6,361.9 982.8,364.0 984.0,366.1 985.2,368.2 986.4,370.3 987.6,372.4 988.9,374.5 990.1,376.7 991.4,378.9 992.6,381.1 993.9,383.3 995.3,385.5 996.6,387.7 998.0,389.8 999.5,391.8 1001.0,393.7 1002.5,395.6 1004.2,397.3 1005.9,399.0 1007.6,400.4 1009.5,401.7 1011.5,402.8 1013.5,403.8 1015.7,404.5 1017.9,405.0 1020.2,405.3 1022.6,405.4 1025.0,405.3 1027.4,405.0 1029.8,404.5 1032.2,403.9 1034.5,403.1 1036.7,402.1 1038.8,400.9 1040.8,399.7 1042.7,398.2 1044.4,396.7 1045.9,395.0 1047.4,393.2 1048.8,391.3 1050.0,389.3 1051.1,387.2 1052.2,385.0 1053.2,382.8 1054.1,380.5 1054.9,378.2 1055.7,375.8 1056.4,373.4 1057.1,371.0 1057.8,368.5 1058.4,366.1 1059.1,363.7 1059.7,361.3 1060.3,358.9 1061.0,356.6 1061.6,354.3 1062.3,352.0 1062.9,349.7 1063.6,347.5 1064.3,345.2 1065.0,343.0 1065.6,340.8 1066.3,338.5 1067.0,336.3 1067.7,334.0 1068.4,331.8 1069.1,329.5 1069.8,327.2 1070.6,325.0 1071.3,322.7 1072.0,320.4 1072.7,318.1 1073.4,315.8 1074.1,313.5 1074.8,311.2 1075.5,308.9 1076.3,306.6 1077.0,304.3 1077.7,302.0 1078.4,299.7 1079.1,297.4 1079.8,295.1 1080.5,292.7 1081.2,290.4 1081.9,288.1 1082.6,285.8 1083.2,283.4 1083.9,281.1 1084.6,278.8 1085.3,276.5 1085.9,274.1 1086.6,271.8 1087.2,269.5 1087.9,267.2 1088.5,264.8 1089.1,262.5 1089.8,260.2 1090.4,257.9 1091.0,255.6 1091.6,253.3 1092.2,250.9 1092.8,248.6 1093.4,246.3 1094.1,244.0 1094.7,241.7 1095.3,239.4 1096.0,237.1 1096.6,234.8 1097.3,232.5 1097.9,230.3 1098.6,228.0 1099.3,225.7 1100.0,223.4 1100.7,221.1 1101.5,218.9 1102.2,216.6 1103.0,214.3 1103.8,212.1 1104.7,209.8 1105.5,207.5 1106.4,205.3 1107.3,203.1 1108.3,201.0 1108.7,199.8 1109.0,198.9 1109.2,199.2 1109.5,197.8 1109.7,197.6 1110.0,197.2 1110.2,196.4 1110.5,195.7 1110.7,196.6 1111.0,195.0 1111.3,192.8 1111.5,193.0 1111.8,194.6 1112.1,192.3 1112.3,190.8 1112.6,192.5 1112.9,191.5 1113.2,190.4 1113.4,190.4 1113.7,188.8 1114.0,188.9 1114.3,188.8 1114.6,186.9 1114.9,188.5 1115.2,185.2 1115.5,188.4 1115.8,185.5 1116.1,185.3 1116.4,182.9 1116.7,184.8 1117.0,182.3 1117.4,183.4 1117.7,182.4 1118.0,180.9 1118.4,183.5 1118.7,181.1 1119.0,179.8 1119.4,179.6 1119.8,180.0 1120.1,179.2 1120.5,179.8 1120.9,177.7 1121.3,178.2 1121.7,177.0 1122.1,176.4 1122.5,177.9 1122.9,175.6 1123.3,174.4 1123.7,176.8 1124.2,175.1 1124.6,176.2 1125.1,175.9 1125.5,175.7 1126.0,175.0 1126.5,176.5 1127.0,173.3 1127.5,175.8 1128.0,174.1 1128.5,174.6 1129.0,173.7 1129.5,175.2 1130.1,174.7 1130.6,173.6 1131.2,174.2 1131.8,174.8 1132.4,174.2 1133.0,177.4 1133.6,175.3 1134.2,174.3 1134.8,176.2 1135.4,175.5 1136.0,174.8 1136.6,175.2 1137.3,174.0 1137.9,177.0 1138.5,178.2 1139.1,176.6 1139.8,176.1 1140.4,175.3 1141.0,176.3 1141.6,178.1 1142.2,177.7 1142.8,178.7 1143.4,178.2 1144.0,179.4 1144.6,179.8 1145.2,180.7 1145.7,181.0 1146.3,181.5 1146.8,180.8 1147.4,181.8 1147.9,181.1 1148.4,182.4 1148.9,183.4 1149.3,184.4 1149.8,182.7 1150.2,183.6 1150.6,184.5 1151.0,184.2 1151.4,185.7 1151.8,186.2 1152.1,186.0 1152.5,189.2 1152.8,187.2 1153.1,188.4 1153.4,186.5 1153.8,190.0 1154.1,189.8 1154.4,190.1 1154.6,187.7 1154.9,190.6 1155.2,190.3 1155.5,192.0 1155.8,192.0 1156.1,191.8 1156.4,192.3 1156.7,194.8 1157.0,195.1 1157.4,192.2 1157.7,194.2 1158.0,195.9 1158.4,195.2 1158.7,196.5 1159.1,196.3 1159.5,199.1 1159.9,198.5 1160.3,197.9 1160.8,200.3 1161.2,200.0 1161.7,201.7 1162.2,199.7 1162.7,199.0 1163.3,202.3 1163.8,201.9 1164.4,200.4 1165.0,199.7 1165.6,203.6 1166.2,204.0 1166.7,203.5 1167.3,204.3 1167.9,205.4 1168.5,204.0 1169.0,207.4 1169.6,204.6 1170.1,206.4 1170.6,206.6 1171.1,206.1 1171.6,205.8 1172.0,207.7 1172.5,204.7 1172.8,206.4 1173.2,208.0 1173.5,204.8 1173.8,203.5 1174.0,204.2 1174.2,201.0 1174.5,202.8 1174.7,201.8 1174.9,201.6 1175.1,201.0 1175.4,202.2 1175.6,201.1 1175.9,199.4 1176.3,201.8 1176.7,198.9 1177.1,201.6 1177.5,199.2 1178.0,198.6 1178.5,199.1 1179.0,201.4 1179.6,200.0 1180.1,199.9 1180.7,198.2 1181.2,200.4 1181.8,200.3 1182.4,200.5 1183.0,200.3 1183.6,199.6 1184.1,203.3 1184.7,201.0 1185.2,203.2 1185.8,203.5 1186.3,203.4 1186.8,203.7 1187.4,204.7 1187.9,203.9 1188.4,204.5 1188.9,205.4 1189.3,205.6 1189.8,205.4 1190.3,202.9 1190.8,206.5 1191.2,205.5 1191.7,208.7 1192.1,209.2 1192.6,208.4 1193.0,208.9 1193.5,206.5 1193.9,209.2 1194.3,208.9 1194.8,212.4 1195.2,209.0 1195.6,213.7 1196.0,211.3 1196.5,209.5 1196.9,214.5 1197.3,212.5 1197.7,213.6 1198.1,215.0 1198.5,212.2 1199.0,214.0 1199.4,215.1 1199.8,216.9 1200.2,215.7 1200.6,216.9 1201.0,215.2 1201.3,217.7 1201.7,217.1 1202.1,218.0 1202.5,218.7 1202.9,219.4 1203.3,219.4 1204.8,221.4 1206.2,223.3 1207.7,225.3 1209.0,227.3 1210.4,229.2 1211.7,231.2 1213.0,233.3 1214.2,235.3 1215.5,237.4 1216.6,239.4 1217.8,241.5 1218.9,243.6 1220.0,245.7 1221.1,247.8 1222.2,250.0 1223.2,252.1 1224.2,254.3 1225.2,256.5 1226.1,258.6 1227.0,260.8 1228.0,263.0 1228.8,265.2 1229.7,267.5 1230.6,269.7 1231.4,271.9 1232.3,274.2 1233.1,276.4 1233.9,278.7 1234.7,280.9 1235.4,283.2 1236.2,285.5 1237.0,287.7 1237.7,290.0 1238.5,292.3 1239.2,294.6 1240.0,296.9 1240.7,299.2 1241.4,301.5 1242.2,303.8 1242.9,306.1 1243.6,308.4 1244.4,310.7 1245.1,313.0 1245.8,315.3 1246.6,317.6 1247.3,319.9 1248.1,322.2 1248.8,324.5 1249.6,326.8 1250.4,329.0 1251.1,331.3 1251.9,333.6 1252.7,335.9 1253.5,338.2 1254.3,340.5 1255.1,342.8 1255.9,345.0 1256.7,347.3 1257.5,349.6 1258.3,351.9 1259.1,354.1 1259.9,356.4 1260.8,358.7 1261.6,360.9 1262.4,363.2 1263.2,365.5 1264.1,367.7 1264.9,370.0 1265.7,372.2 1266.6,374.5 1267.4,376.7 1268.3,379.0 1269.1,381.2 1270.0,383.5 1270.8,385.7 1271.6,388.0 1272.5,390.2 1273.3,392.4 1274.2,394.7 1275.0,396.9 1275.9,399.1 1276.7,401.3 1277.6,403.6 1278.4,405.8 1279.3,408.0 1280.1,410.2 1281.0,412.4 1281.8,414.6 1282.7,416.8 1283.5,419.0 1284.4,421.2 1285.2,423.4 1286.1,425.6 1286.9,427.8 1287.8,430.0 1288.7,432.2 1289.6,434.4 1290.4,436.6 1291.3,438.8 1292.2,441.0 1293.2,443.2 1294.1,445.4 1295.0,447.6 1295.9,449.8 1296.9,452.0 1297.8,454.2 1298.8,456.4 1299.8,458.6 1300.8,460.8 1301.8,463.0 1302.8,465.2 1303.9,467.4 1304.9,469.6 1306.0,471.8 1307.1,474.0 1308.2,476.2 1309.3,478.4 1310.4,480.5 1311.6,482.7 1312.7,484.9 1313.9,487.0 1315.1,489.2 1316.3,491.3 1317.6,493.4 1318.9,495.5 1320.1,497.6 1321.5,499.7 1322.8,501.7 1324.1,503.8 1325.5,505.8 1326.9,507.8 1328.3,509.7 1329.8,511.7 1331.3,513.6 1332.8,515.5 1334.3,517.3 1335.8,519.2 1337.4,521.0 1339.0,522.7 1340.7,524.5 1342.3,526.2 1344.0,527.8 1345.7,529.4 1347.5,531.0 1349.2,532.6 1351.0,534.1 1352.9,535.6 1354.8,537.0 1356.7,538.4 1358.6,539.7 1360.6,541.0 1362.6,542.3 1364.6,543.4 1366.6,544.6 1368.7,545.7 1370.9,546.8 1373.0,547.8 1375.2,548.7 1377.4,549.6 1379.6,550.5 1381.9,551.3 1384.1,552.1 1386.4,552.9 1388.7,553.6 1391.0,554.2 1393.4,554.8 1395.7,555.4 1398.1,555.9 1400.5,556.4 1402.8,556.9 1405.2,557.3 1407.6,557.6 1410.0,557.9 1412.4,558.2 1414.8,558.5 1417.2,558.7 1419.6,558.9 1422.0,559.0 1424.4,559.1 1426.8,559.2 1429.2,559.3 1431.6,559.3 1434.0,559.3 1436.4,559.3 1438.8,559.3 1441.2,559.3 1443.6,559.3 1446.0,559.2 1448.4,559.2 1450.8,559.2 1453.2,559.2 1455.6,559.2 1458.0,559.2 1460.4,559.3 1462.8,559.3 1465.2,559.4 1467.6,559.5 1470.0,559.7 1470.6,559.8" fill="none" stroke="#161616" stroke-width="2.9" stroke-linejoin="round" stroke-linecap="round" clip-path="url(#cb)"/><polyline points="849.1,432.1 849.3,429.7 849.5,427.3 849.8,424.9 850.0,422.5 850.3,420.0 850.5,417.6 850.8,415.2 851.1,412.8 851.4,410.4 851.7,408.0 851.9,405.6 852.2,403.3 852.6,400.9 852.9,398.5 853.2,396.1 853.5,393.7 853.8,391.4 854.2,389.0 854.5,386.6 854.8,384.2 855.2,381.9 855.5,379.5 855.9,377.1 856.2,374.8 856.6,372.4 857.0,370.1 857.3,367.7 857.7,365.4 858.1,363.0 858.5,360.6 858.9,358.3 859.2,355.9 859.6,353.6 860.0,351.2 860.4,348.9 860.8,346.5 861.2,344.2 861.6,341.8 862.0,339.5 862.4,337.1 862.8,334.8 863.3,332.4 863.7,330.1 864.1,327.7 864.3,326.0 864.4,326.5 864.5,326.6 864.6,325.0 864.7,325.1 864.8,324.6 864.9,323.8 865.0,323.2 865.1,323.1 865.2,320.9 865.3,318.6 865.4,317.6 865.5,320.5 865.7,319.6 865.8,318.2 865.9,313.5 866.0,316.6 866.1,316.4 866.2,313.8 866.3,313.6 866.4,319.7 866.5,317.4 866.6,315.6 866.7,313.7 866.8,311.1 866.9,310.7 867.0,313.2 867.1,308.0 867.2,309.3 867.3,314.8 867.4,304.5 867.5,305.5 867.7,314.0 867.8,308.4 867.9,307.1 868.0,302.6 868.1,299.7 868.2,309.5 868.3,294.2 868.4,305.4 868.5,300.6 868.6,301.9 868.7,292.9 868.8,304.9 868.9,303.1 869.0,301.2 869.1,301.2 869.2,292.7 869.3,298.9 869.5,299.7 869.6,296.6 869.7,285.1 869.8,295.3 869.9,295.7 870.0,289.2 870.1,290.2 870.2,295.3 870.3,289.2 870.4,294.3 870.5,293.8 870.6,289.3 870.7,294.9 870.8,288.3 870.9,288.7 871.0,293.8 871.1,284.0 871.2,282.4 871.4,288.0 871.5,285.1 871.6,291.8 871.7,280.9 871.8,282.3 871.9,276.4 872.0,282.4 872.1,279.4 872.2,281.1 872.3,286.0 872.4,272.7 872.5,288.8 872.6,283.4 872.7,284.6 872.8,279.1 872.9,279.2 873.0,275.6 873.1,274.7 873.2,270.8 873.3,271.7 873.4,270.9 873.6,271.1 873.7,281.4 873.8,278.7 873.9,275.1 874.0,262.4 874.1,266.5 874.2,271.4 874.3,273.8 874.4,267.8 874.5,271.4 874.6,276.4 874.7,262.8 874.8,264.5 874.9,271.7 875.0,262.0 875.1,269.8 875.2,262.4 875.3,253.8 875.4,262.5 875.5,253.5 875.6,268.2 875.7,269.0 875.8,261.5 875.9,269.1 876.1,253.4 876.2,257.9 876.3,251.4 876.4,248.0 876.5,264.4 876.6,246.9 876.8,265.7 876.9,256.8 877.0,259.4 877.2,244.5 877.3,262.7 877.5,259.7 877.6,243.9 877.8,245.1 878.0,243.6 878.1,251.0 878.3,241.1 878.5,256.4 878.7,249.2 878.9,253.2 879.1,242.8 879.3,251.0 879.5,246.1 879.7,249.8 879.9,244.0 880.2,256.3 880.4,252.6 880.7,251.8 880.9,240.5 881.2,236.7 881.5,235.3 881.7,234.4 882.0,252.3 882.3,236.7 882.7,249.2 883.0,234.7 883.3,242.8 883.7,234.2 884.0,235.0 884.4,244.2 884.8,240.8 885.2,247.8 885.6,231.8 886.0,232.1 886.4,227.1 886.8,230.1 887.3,246.5 887.8,237.0 888.2,234.7 888.7,231.4 889.2,240.2 889.8,238.4 890.3,226.3 890.8,223.6 891.4,226.1 891.9,240.0 892.5,237.8 893.1,226.4 893.7,226.4 894.2,227.8 894.8,235.8 895.4,237.1 896.0,225.7 896.6,227.6 897.2,225.5 897.8,241.0 898.4,232.3 899.0,240.8 899.5,225.5 900.1,234.2 900.7,232.8 901.2,240.9 901.8,228.6 902.3,225.8 902.9,239.0 903.4,242.2 903.9,232.7 904.4,229.2 904.9,224.0 905.4,232.3 905.9,243.3 906.4,231.2 906.9,233.6 907.3,236.6 907.8,229.8 908.2,227.5 908.6,237.0 909.1,247.3 909.5,245.7 909.9,233.7 910.3,244.8 910.7,246.4 911.0,241.4 911.4,237.0 911.8,233.9 912.1,245.6 912.5,245.7 912.8,236.1 913.1,235.1 913.4,235.1 913.8,250.7 914.1,252.3 914.4,245.2 914.6,247.7 914.9,250.1 915.2,239.6 915.5,247.4 915.8,246.5 916.0,255.3 916.3,242.1 916.5,255.9 916.8,242.9 917.0,252.3 917.3,258.2 917.5,243.4 917.8,251.6 918.0,243.3 918.2,246.6 918.5,253.1 918.7,260.1 918.9,253.0 919.1,262.4 919.4,251.1 919.6,258.9 919.8,252.7 920.1,263.4 920.3,262.0 920.5,263.8 920.7,263.5 921.0,262.4 921.2,266.1 921.4,261.8 921.7,248.8 921.9,262.6 922.1,265.0 922.4,251.6 922.6,269.3 922.8,263.7 923.1,269.5 923.3,263.7 923.6,266.5 923.8,262.4 924.0,265.6 924.3,260.2 924.5,268.9 924.7,266.6 925.0,266.1 925.2,266.3 925.5,265.9 925.7,270.4 925.9,270.6 926.2,270.4 926.4,277.5 926.7,268.5 926.9,271.6 927.2,268.8 927.4,273.3 927.7,274.1 927.9,268.9 928.2,277.1 928.4,269.3 928.7,275.1 928.9,276.5 929.1,273.8 929.4,282.9 929.6,279.6 929.9,275.6 930.2,281.3 930.4,281.9 930.7,279.6 930.9,279.5 931.2,284.9 931.4,289.1 931.7,284.1 931.9,289.4 932.2,280.3 932.4,281.1 932.7,285.8 932.9,284.7 933.2,287.2 933.5,291.1 933.7,285.7 934.0,289.1 934.2,288.8 934.5,287.1 934.8,289.5 935.0,288.7 935.3,290.6 935.5,293.6 935.8,293.5 936.1,294.0 936.3,293.3 936.6,293.2 936.9,296.3 937.1,294.8 937.4,295.7 937.6,296.7 937.9,296.3 938.2,297.2 938.4,297.5 938.7,298.2 939.0,298.9 939.2,298.8 940.3,301.3 941.4,303.4 942.5,305.6 943.6,307.7 944.7,309.8 945.8,312.0 946.9,314.1 948.0,316.3 949.2,318.4 950.3,320.5 951.4,322.6 952.6,324.8 953.7,326.9 954.9,329.0 956.0,331.1 957.2,333.2 958.3,335.3 959.5,337.4 960.7,339.5 961.9,341.6 963.1,343.6 964.2,345.7 965.4,347.8 966.6,349.8 967.8,351.9 969.0,353.9 970.3,356.0 971.5,358.0 972.7,360.1 973.9,362.1 975.1,364.2 976.3,366.2 977.5,368.2 978.8,370.3 980.0,372.4 981.2,374.4 982.4,376.5 983.6,378.6 984.8,380.6 986.0,382.7 987.3,384.8 988.5,386.9 989.7,389.1 990.9,391.2 992.1,393.4 993.3,395.5 994.5,397.7 995.7,399.8 997.0,401.9 998.2,404.0 999.6,406.0 1001.0,408.0 1002.4,409.9 1003.9,411.7 1005.5,413.4 1007.2,415.0 1009.0,416.4 1010.9,417.8 1012.9,419.0 1015.0,420.0 1017.3,420.8 1019.7,421.5 1022.1,422.0 1024.6,422.3 1027.1,422.4 1029.6,422.3 1032.0,422.0 1034.4,421.5 1036.7,420.7 1038.8,419.7 1040.8,418.5 1042.6,417.0 1044.2,415.3 1045.7,413.4 1047.1,411.4 1048.4,409.3 1049.6,407.1 1050.7,404.9 1051.8,402.6 1052.8,400.4 1053.8,398.2 1054.8,396.0 1055.7,393.7 1056.6,391.5 1057.5,389.3 1058.4,387.0 1059.2,384.8 1060.1,382.5 1060.9,380.3 1061.7,378.0 1062.5,375.8 1063.3,373.5 1064.1,371.3 1064.9,369.0 1065.6,366.8 1066.4,364.5 1067.1,362.2 1067.9,360.0 1068.6,357.7 1069.3,355.4 1070.0,353.1 1070.7,350.9 1071.4,348.6 1072.1,346.3 1072.8,344.0 1073.5,341.7 1074.2,339.4 1074.8,337.2 1075.5,334.9 1076.2,332.6 1076.8,330.3 1077.5,328.0 1078.1,325.7 1078.8,323.4 1079.4,321.1 1080.0,318.7 1080.7,316.4 1081.3,314.1 1081.9,311.8 1082.5,309.5 1083.2,307.2 1083.8,304.9 1084.4,302.5 1085.0,300.2 1085.6,297.9 1086.3,295.6 1086.9,293.2 1087.5,290.9 1088.1,288.6 1088.7,286.3 1089.4,283.9 1090.0,281.6 1090.6,279.2 1091.2,276.9 1091.9,274.6 1092.5,272.2 1093.1,269.9 1093.8,267.5 1094.4,265.2 1095.1,262.9 1095.7,260.5 1096.4,258.2 1097.1,255.8 1097.8,253.5 1098.5,251.2 1099.3,248.9 1100.0,246.6 1100.8,244.3 1101.7,242.1 1102.6,239.9 1103.5,237.7 1104.5,235.5 1105.5,233.4 1106.6,231.2 1107.7,229.2 1108.9,227.1 1109.2,226.5 1109.6,226.0 1109.9,225.8 1110.2,225.9 1110.5,223.4 1110.9,225.3 1111.2,223.2 1111.5,222.4 1111.9,222.0 1112.2,222.4 1112.6,221.9 1112.9,219.5 1113.3,219.2 1113.7,221.2 1114.0,219.7 1114.4,217.5 1114.8,218.6 1115.2,218.1 1115.6,219.4 1116.0,216.7 1116.4,216.5 1116.8,216.2 1117.2,216.5 1117.6,216.2 1118.0,215.9 1118.5,216.5 1118.9,214.3 1119.3,215.5 1119.8,213.7 1120.2,213.9 1120.7,213.7 1121.2,214.1 1121.6,211.1 1122.1,213.8 1122.6,209.5 1123.0,210.9 1123.5,210.5 1124.0,210.4 1124.5,211.5 1125.0,208.3 1125.4,208.7 1125.9,210.5 1126.4,211.1 1126.9,208.3 1127.4,208.8 1127.9,210.0 1128.4,210.0 1128.9,207.9 1129.4,209.4 1129.9,209.1 1130.4,208.7 1130.9,209.8 1131.4,209.5 1131.9,209.3 1132.4,213.0 1132.9,210.6 1133.4,210.5 1133.9,213.6 1134.4,211.8 1134.9,212.2 1135.4,210.6 1135.9,211.9 1136.4,215.3 1136.9,213.5 1137.4,214.4 1137.9,215.1 1138.4,216.0 1138.9,218.2 1139.3,215.3 1139.8,215.8 1140.3,219.4 1140.8,219.1 1141.3,219.7 1141.7,220.8 1142.2,219.9 1142.7,221.2 1143.2,222.1 1143.6,222.9 1144.1,222.3 1144.5,221.4 1145.0,222.3 1145.4,223.2 1145.9,223.5 1146.3,225.4 1146.8,223.7 1147.2,225.6 1147.6,225.1 1148.0,226.1 1148.5,227.7 1148.9,227.6 1149.3,226.4 1149.7,227.4 1150.1,228.6 1150.6,228.1 1151.0,229.4 1151.4,230.0 1151.8,228.7 1152.2,229.9 1152.6,231.6 1153.0,230.7 1153.4,229.7 1153.8,232.0 1154.3,231.1 1154.7,231.2 1155.1,232.2 1155.5,233.0 1155.9,232.1 1156.3,233.4 1156.7,234.1 1157.2,234.7 1157.6,234.3 1158.0,234.1 1158.4,235.4 1158.9,236.2 1159.3,236.5 1159.7,237.6 1160.2,237.6 1160.6,236.4 1161.0,238.8 1161.5,239.6 1161.9,237.5 1162.4,240.3 1162.9,240.9 1163.3,241.0 1163.8,241.5 1164.3,240.7 1164.8,242.4 1165.2,242.7 1165.7,241.8 1166.2,243.6 1166.7,244.3 1167.2,243.5 1167.7,245.8 1168.2,244.6 1168.7,244.7 1169.2,245.3 1169.7,245.0 1170.2,244.9 1170.7,244.6 1171.2,243.5 1171.7,243.8 1172.2,245.1 1172.6,246.3 1173.1,244.3 1173.6,242.2 1174.0,245.1 1174.5,243.1 1174.9,243.1 1175.4,244.1 1175.9,243.7 1176.3,243.5 1176.8,242.6 1177.3,242.4 1177.8,243.4 1178.4,243.7 1178.9,243.6 1179.4,243.8 1180.0,243.7 1180.6,242.7 1181.1,243.5 1181.7,243.3 1182.3,242.6 1182.9,245.2 1183.4,244.9 1184.0,243.5 1184.6,243.9 1185.2,244.7 1185.8,244.8 1186.4,244.9 1186.9,245.3 1187.5,247.1 1188.1,245.8 1188.6,245.8 1189.2,248.0 1189.7,246.9 1190.2,247.1 1190.7,247.1 1191.3,248.1 1191.8,248.3 1192.3,248.7 1192.8,249.1 1193.3,249.9 1193.7,248.8 1194.2,249.6 1194.7,250.4 1195.1,251.2 1195.6,251.3 1196.0,252.1 1196.5,252.5 1196.9,252.6 1197.3,253.0 1197.8,255.4 1198.2,254.2 1198.6,254.2 1199.0,255.8 1199.4,255.9 1199.8,255.1 1200.2,257.7 1200.6,254.9 1201.0,257.6 1201.4,258.0 1201.8,258.5 1202.2,258.6 1202.5,258.3 1202.9,259.2 1204.4,261.4 1205.8,263.4 1207.2,265.3 1208.5,267.3 1209.9,269.2 1211.2,271.2 1212.5,273.2 1213.7,275.2 1215.0,277.2 1216.2,279.3 1217.4,281.3 1218.6,283.4 1219.7,285.5 1220.9,287.5 1222.0,289.6 1223.1,291.7 1224.2,293.8 1225.3,296.0 1226.4,298.1 1227.4,300.2 1228.5,302.4 1229.5,304.6 1230.5,306.7 1231.5,308.9 1232.5,311.1 1233.4,313.3 1234.4,315.5 1235.3,317.7 1236.3,319.9 1237.2,322.1 1238.1,324.3 1239.0,326.5 1239.9,328.8 1240.8,331.0 1241.7,333.2 1242.6,335.5 1243.5,337.7 1244.4,340.0 1245.3,342.2 1246.1,344.5 1247.0,346.7 1247.9,349.0 1248.8,351.2 1249.6,353.5 1250.5,355.7 1251.4,358.0 1252.2,360.2 1253.1,362.5 1254.0,364.7 1254.8,367.0 1255.7,369.2 1256.6,371.5 1257.5,373.7 1258.4,376.0 1259.3,378.2 1260.2,380.4 1261.1,382.7 1262.0,384.9 1262.9,387.2 1263.8,389.4 1264.7,391.6 1265.6,393.8 1266.5,396.1 1267.4,398.3 1268.3,400.5 1269.3,402.7 1270.2,405.0 1271.1,407.2 1272.0,409.4 1272.9,411.6 1273.9,413.8 1274.8,416.0 1275.7,418.2 1276.7,420.4 1277.6,422.6 1278.5,424.8 1279.4,427.0 1280.4,429.2 1281.3,431.4 1282.2,433.6 1283.2,435.8 1284.1,438.0 1285.0,440.2 1285.9,442.4 1286.9,444.6 1287.8,446.8 1288.7,449.0 1289.7,451.2 1290.6,453.3 1291.5,455.5 1292.5,457.7 1293.4,459.9 1294.4,462.0 1295.3,464.2 1296.3,466.4 1297.2,468.6 1298.2,470.7 1299.2,472.9 1300.2,475.0 1301.3,477.2 1302.3,479.4 1303.3,481.5 1304.4,483.6 1305.5,485.8 1306.6,487.9 1307.7,490.1 1308.8,492.2 1310.0,494.3 1311.1,496.5 1312.3,498.6 1313.6,500.7 1314.8,502.8 1316.1,504.9 1317.4,507.0 1318.7,509.1 1320.0,511.1 1321.3,513.2 1322.7,515.2 1324.1,517.2 1325.6,519.2 1327.0,521.2 1328.5,523.1 1330.0,525.0 1331.5,526.9 1333.1,528.8 1334.6,530.6 1336.2,532.5 1337.9,534.2 1339.5,536.0 1341.2,537.7 1342.9,539.4 1344.7,541.0 1346.4,542.6 1348.2,544.2 1350.1,545.7 1351.9,547.2 1353.8,548.6 1355.7,550.0 1357.6,551.3 1359.6,552.6 1361.6,553.8 1363.7,555.0 1365.7,556.2 1367.8,557.2 1369.9,558.3 1372.1,559.2 1374.3,560.2 1376.5,561.0 1378.7,561.8 1381.0,562.6 1383.3,563.3 1385.6,564.0 1387.9,564.6 1390.2,565.2 1392.6,565.7 1395.0,566.3 1397.3,566.7 1399.7,567.1 1402.1,567.5 1404.5,567.9 1406.9,568.2 1409.3,568.5 1411.7,568.8 1414.1,569.1 1416.6,569.3 1419.0,569.5 1421.4,569.7 1423.8,569.8 1426.1,570.0 1428.5,570.1 1430.9,570.2 1433.3,570.3 1435.7,570.3 1438.1,570.4 1440.5,570.5 1442.8,570.5 1445.2,570.6 1447.6,570.6 1450.0,570.6 1452.4,570.7 1454.8,570.7 1457.2,570.7 1459.6,570.8 1462.0,570.8 1464.4,570.9 1466.8,570.9 1469.3,571.0 1470.5,571.1" fill="none" stroke="#c02828" stroke-width="2.9" stroke-linejoin="round" stroke-linecap="round" clip-path="url(#cb)"/><polyline points="884.5,200.0 885.1,190.0 886.1,190.0 886.7,200.0" fill="none" stroke="#1c1cae" stroke-width="2.6" stroke-linejoin="round" stroke-linecap="round" /><polyline points="894.3,200.0 894.9,189.5 895.9,189.5 896.5,200.0" fill="none" stroke="#1c1cae" stroke-width="2.6" stroke-linejoin="round" stroke-linecap="round" /><polyline points="900.8,203.0 901.3,196.0 902.1,196.0 902.6,203.0" fill="none" stroke="#1c1cae" stroke-width="2.6" stroke-linejoin="round" stroke-linecap="round" /><polyline points="1176.4,206.0 1176.9,196.5 1177.6,196.5 1178.1,206.0" fill="none" stroke="#161616" stroke-width="2.6" stroke-linejoin="round" stroke-linecap="round" /><polyline points="1176.4,219.0 1176.9,210.5 1177.6,210.5 1178.1,219.0" fill="none" stroke="#9636cc" stroke-width="2.6" stroke-linejoin="round" stroke-linecap="round" /><g stroke="#222" stroke-width="2.6" stroke-linecap="butt"><line x1="880.5" y1="603.7" x2="880.5" y2="597.2"/><line x1="880.5" y1="67.9" x2="880.5" y2="74.4"/><line x1="911.6" y1="603.7" x2="911.6" y2="597.2"/><line x1="911.6" y1="67.9" x2="911.6" y2="74.4"/><line x1="942.6" y1="603.7" x2="942.6" y2="597.2"/><line x1="942.6" y1="67.9" x2="942.6" y2="74.4"/><line x1="973.7" y1="603.7" x2="973.7" y2="597.2"/><line x1="973.7" y1="67.9" x2="973.7" y2="74.4"/><line x1="1004.8" y1="603.7" x2="1004.8" y2="592.7"/><line x1="1004.8" y1="67.9" x2="1004.8" y2="78.9"/><line x1="1035.9" y1="603.7" x2="1035.9" y2="597.2"/><line x1="1035.9" y1="67.9" x2="1035.9" y2="74.4"/><line x1="1067.0" y1="603.7" x2="1067.0" y2="597.2"/><line x1="1067.0" y1="67.9" x2="1067.0" y2="74.4"/><line x1="1098.0" y1="603.7" x2="1098.0" y2="597.2"/><line x1="1098.0" y1="67.9" x2="1098.0" y2="74.4"/><line x1="1129.1" y1="603.7" x2="1129.1" y2="597.2"/><line x1="1129.1" y1="67.9" x2="1129.1" y2="74.4"/><line x1="1160.2" y1="603.7" x2="1160.2" y2="592.7"/><line x1="1160.2" y1="67.9" x2="1160.2" y2="78.9"/><line x1="1191.3" y1="603.7" x2="1191.3" y2="597.2"/><line x1="1191.3" y1="67.9" x2="1191.3" y2="74.4"/><line x1="1222.4" y1="603.7" x2="1222.4" y2="597.2"/><line x1="1222.4" y1="67.9" x2="1222.4" y2="74.4"/><line x1="1253.4" y1="603.7" x2="1253.4" y2="597.2"/><line x1="1253.4" y1="67.9" x2="1253.4" y2="74.4"/><line x1="1284.5" y1="603.7" x2="1284.5" y2="597.2"/><line x1="1284.5" y1="67.9" x2="1284.5" y2="74.4"/><line x1="1315.6" y1="603.7" x2="1315.6" y2="592.7"/><line x1="1315.6" y1="67.9" x2="1315.6" y2="78.9"/><line x1="1346.7" y1="603.7" x2="1346.7" y2="597.2"/><line x1="1346.7" y1="67.9" x2="1346.7" y2="74.4"/><line x1="1377.8" y1="603.7" x2="1377.8" y2="597.2"/><line x1="1377.8" y1="67.9" x2="1377.8" y2="74.4"/><line x1="1408.8" y1="603.7" x2="1408.8" y2="597.2"/><line x1="1408.8" y1="67.9" x2="1408.8" y2="74.4"/><line x1="1439.9" y1="603.7" x2="1439.9" y2="597.2"/><line x1="1439.9" y1="67.9" x2="1439.9" y2="74.4"/><line x1="849.4" y1="582.3" x2="855.9" y2="582.3"/><line x1="1471" y1="582.3" x2="1464.5" y2="582.3"/><line x1="849.4" y1="560.8" x2="855.9" y2="560.8"/><line x1="1471" y1="560.8" x2="1464.5" y2="560.8"/><line x1="849.4" y1="539.4" x2="855.9" y2="539.4"/><line x1="1471" y1="539.4" x2="1464.5" y2="539.4"/><line x1="849.4" y1="518.0" x2="855.9" y2="518.0"/><line x1="1471" y1="518.0" x2="1464.5" y2="518.0"/><line x1="849.4" y1="496.5" x2="860.4" y2="496.5"/><line x1="1471" y1="496.5" x2="1460" y2="496.5"/><line x1="849.4" y1="475.1" x2="855.9" y2="475.1"/><line x1="1471" y1="475.1" x2="1464.5" y2="475.1"/><line x1="849.4" y1="453.7" x2="855.9" y2="453.7"/><line x1="1471" y1="453.7" x2="1464.5" y2="453.7"/><line x1="849.4" y1="432.2" x2="855.9" y2="432.2"/><line x1="1471" y1="432.2" x2="1464.5" y2="432.2"/><line x1="849.4" y1="410.8" x2="855.9" y2="410.8"/><line x1="1471" y1="410.8" x2="1464.5" y2="410.8"/><line x1="849.4" y1="389.4" x2="860.4" y2="389.4"/><line x1="1471" y1="389.4" x2="1460" y2="389.4"/><line x1="849.4" y1="367.9" x2="855.9" y2="367.9"/><line x1="1471" y1="367.9" x2="1464.5" y2="367.9"/><line x1="849.4" y1="346.5" x2="855.9" y2="346.5"/><line x1="1471" y1="346.5" x2="1464.5" y2="346.5"/><line x1="849.4" y1="325.1" x2="855.9" y2="325.1"/><line x1="1471" y1="325.1" x2="1464.5" y2="325.1"/><line x1="849.4" y1="303.7" x2="855.9" y2="303.7"/><line x1="1471" y1="303.7" x2="1464.5" y2="303.7"/><line x1="849.4" y1="282.2" x2="860.4" y2="282.2"/><line x1="1471" y1="282.2" x2="1460" y2="282.2"/><line x1="849.4" y1="260.8" x2="855.9" y2="260.8"/><line x1="1471" y1="260.8" x2="1464.5" y2="260.8"/><line x1="849.4" y1="239.4" x2="855.9" y2="239.4"/><line x1="1471" y1="239.4" x2="1464.5" y2="239.4"/><line x1="849.4" y1="217.9" x2="855.9" y2="217.9"/><line x1="1471" y1="217.9" x2="1464.5" y2="217.9"/><line x1="849.4" y1="196.5" x2="855.9" y2="196.5"/><line x1="1471" y1="196.5" x2="1464.5" y2="196.5"/><line x1="849.4" y1="175.1" x2="860.4" y2="175.1"/><line x1="1471" y1="175.1" x2="1460" y2="175.1"/><line x1="849.4" y1="153.6" x2="855.9" y2="153.6"/><line x1="1471" y1="153.6" x2="1464.5" y2="153.6"/><line x1="849.4" y1="132.2" x2="855.9" y2="132.2"/><line x1="1471" y1="132.2" x2="1464.5" y2="132.2"/><line x1="849.4" y1="110.8" x2="855.9" y2="110.8"/><line x1="1471" y1="110.8" x2="1464.5" y2="110.8"/><line x1="849.4" y1="89.3" x2="855.9" y2="89.3"/><line x1="1471" y1="89.3" x2="1464.5" y2="89.3"/></g><rect x="849.4" y="67.9" width="621.6" height="535.8" rx="2.5" fill="none" stroke="#222" stroke-width="2.8000000000000003"/><g font-family="Liberation Serif, serif" font-weight="bold" font-size="25" fill="#1a1a1a"><text transform="translate(838.3,612.0) scale(0.955,1)" text-anchor="end">0</text><text transform="translate(838.3,504.8) scale(0.955,1)" text-anchor="end">1</text><text transform="translate(838.3,397.6) scale(0.955,1)" text-anchor="end">2</text><text transform="translate(838.3,290.5) scale(0.955,1)" text-anchor="end">3</text><text transform="translate(838.3,183.3) scale(0.955,1)" text-anchor="end">4</text><text transform="translate(838.3,76.1) scale(0.955,1)" text-anchor="end">5</text><g clip-path="url(#cbl)"><text transform="translate(849.4,635.0) scale(0.955,1)" text-anchor="middle">200</text><text transform="translate(1004.8,635.0) scale(0.955,1)" text-anchor="middle">250</text><text transform="translate(1160.2,635.0) scale(0.955,1)" text-anchor="middle">300</text><text transform="translate(1315.6,635.0) scale(0.955,1)" text-anchor="middle">350</text><text transform="translate(1471.0,635.0) scale(0.955,1)" text-anchor="middle">400</text></g><text transform="translate(1158.9,672.0) scale(0.95,1)" text-anchor="middle" font-size="25">Wavelength (nm)</text><text transform="translate(791.3,335.2) rotate(-90) scale(0.96,1)" text-anchor="middle" font-size="24.5">Absorbance (a.u.)</text></g><text x="1170.6" y="48.9" text-anchor="middle" font-family="Liberation Sans, sans-serif" font-size="30" fill="#111" stroke="#111" stroke-width="0.9" textLength="34.5" lengthAdjust="spacingAndGlyphs">(b)</text><polyline points="1574.3,426.0 1574.5,423.6 1574.8,421.2 1575.0,418.9 1575.2,416.5 1575.5,414.1 1575.7,411.7 1576.0,409.3 1576.2,406.9 1576.4,404.6 1576.7,402.2 1577.0,399.8 1577.2,397.4 1577.5,395.0 1577.7,392.6 1578.0,390.2 1578.3,387.9 1578.5,385.5 1578.8,383.1 1579.1,380.7 1579.4,378.3 1579.6,375.9 1579.9,373.6 1580.2,371.2 1580.5,368.8 1580.8,366.4 1581.1,364.0 1581.3,361.6 1581.6,359.2 1581.9,356.9 1582.2,354.5 1582.5,352.1 1582.8,349.7 1583.1,347.3 1583.4,344.9 1583.7,342.6 1584.0,340.2 1584.4,337.8 1584.7,335.4 1585.0,333.0 1585.3,330.7 1585.6,328.3 1585.9,325.9 1586.2,323.6 1586.4,322.4 1586.5,321.6 1586.5,321.7 1586.6,320.0 1586.7,320.0 1586.8,319.7 1586.9,319.1 1586.9,318.5 1587.0,317.0 1587.1,318.0 1587.2,316.0 1587.3,315.8 1587.4,315.2 1587.4,314.6 1587.5,313.6 1587.6,314.7 1587.7,312.9 1587.8,313.1 1587.8,310.2 1587.9,311.6 1588.0,310.2 1588.1,310.3 1588.2,309.5 1588.2,309.2 1588.3,308.0 1588.4,307.6 1588.5,307.1 1588.6,306.6 1588.6,305.8 1588.7,304.6 1588.8,305.2 1588.9,302.7 1589.0,306.5 1589.1,304.1 1589.1,304.6 1589.2,301.4 1589.3,298.8 1589.4,297.8 1589.5,298.4 1589.5,298.0 1589.6,297.9 1589.7,297.3 1589.8,298.6 1589.9,292.1 1590.0,299.6 1590.0,294.9 1590.1,295.3 1590.2,290.6 1590.3,294.4 1590.4,290.0 1590.5,293.8 1590.5,292.7 1590.6,291.9 1590.7,290.4 1590.8,289.6 1590.9,288.9 1591.0,291.4 1591.0,288.7 1591.1,288.5 1591.2,293.7 1591.3,287.0 1591.4,283.6 1591.5,279.3 1591.5,278.0 1591.6,284.7 1591.7,286.3 1591.8,280.1 1591.9,279.1 1592.0,281.4 1592.0,281.8 1592.1,283.7 1592.2,279.8 1592.3,277.5 1592.4,281.2 1592.5,275.3 1592.5,273.1 1592.6,273.5 1592.7,275.5 1592.8,274.6 1592.9,275.4 1593.0,275.0 1593.0,282.4 1593.1,275.1 1593.2,265.5 1593.3,267.4 1593.4,272.5 1593.5,268.2 1593.5,278.6 1593.6,268.4 1593.7,268.0 1593.8,269.3 1593.9,267.4 1594.0,269.8 1594.0,266.1 1594.1,267.7 1594.2,263.5 1594.3,255.1 1594.4,266.4 1594.5,270.8 1594.6,259.7 1594.7,260.7 1594.7,265.7 1594.8,259.6 1594.9,261.7 1595.0,259.6 1595.1,262.6 1595.2,258.9 1595.3,267.6 1595.4,258.5 1595.5,256.5 1595.5,250.7 1595.6,256.9 1595.7,251.6 1595.8,258.2 1595.9,257.3 1596.0,266.1 1596.1,249.9 1596.2,253.6 1596.3,257.3 1596.4,242.2 1596.5,254.3 1596.6,259.5 1596.7,250.3 1596.8,249.3 1596.9,254.9 1597.0,249.6 1597.1,249.1 1597.2,251.4 1597.3,242.5 1597.5,255.8 1597.6,243.5 1597.7,244.7 1597.8,242.1 1597.9,229.8 1598.0,234.2 1598.1,240.4 1598.2,241.7 1598.4,247.5 1598.5,255.1 1598.6,244.1 1598.7,238.8 1598.8,235.1 1599.0,246.3 1599.1,234.0 1599.2,236.9 1599.4,244.4 1599.5,235.1 1599.6,234.5 1599.8,235.6 1599.9,224.2 1600.0,227.1 1600.2,224.7 1600.3,236.8 1600.5,240.2 1600.6,228.7 1600.7,230.0 1600.9,232.7 1601.0,229.8 1601.2,221.4 1601.3,223.7 1601.5,221.8 1601.7,221.0 1601.8,218.3 1602.0,223.7 1602.1,219.7 1602.3,231.6 1602.5,220.6 1602.6,232.7 1602.8,229.1 1603.0,217.8 1603.2,214.9 1603.3,222.6 1603.5,220.1 1603.7,220.7 1603.9,212.0 1604.1,219.5 1604.2,223.4 1604.4,216.6 1604.6,212.3 1604.8,224.9 1605.0,211.9 1605.2,225.1 1605.4,218.5 1605.6,204.4 1605.8,212.6 1606.0,206.1 1606.3,218.1 1606.5,210.3 1606.7,203.1 1606.9,219.6 1607.1,216.0 1607.4,211.6 1607.6,210.3 1607.8,200.0 1608.1,217.2 1608.3,203.3 1608.5,207.1 1608.8,205.9 1609.0,205.1 1609.3,195.7 1609.6,212.3 1609.9,204.0 1610.2,201.7 1610.5,210.4 1610.8,210.0 1611.1,206.9 1611.4,210.3 1611.8,199.2 1612.1,194.3 1612.5,198.8 1612.9,203.6 1613.3,207.1 1613.7,206.1 1614.1,204.1 1614.6,203.6 1615.1,205.1 1615.5,203.5 1616.0,193.0 1616.6,203.6 1617.1,198.7 1617.6,195.2 1618.1,206.0 1618.7,210.8 1619.2,200.6 1619.8,208.4 1620.3,208.0 1620.9,209.5 1621.4,213.6 1622.0,210.7 1622.5,199.5 1623.0,210.0 1623.6,205.4 1624.1,207.1 1624.6,212.3 1625.1,203.3 1625.6,212.2 1626.1,218.4 1626.7,202.7 1627.2,217.6 1627.7,215.3 1628.2,210.0 1628.6,217.1 1629.1,204.7 1629.6,206.6 1630.1,222.5 1630.6,215.9 1631.1,207.9 1631.5,207.6 1632.0,213.8 1632.4,216.0 1632.9,224.6 1633.3,210.2 1633.8,218.8 1634.2,215.7 1634.7,218.2 1635.1,225.6 1635.5,211.0 1635.9,224.5 1636.4,223.0 1636.8,215.0 1637.2,212.7 1637.6,224.5 1638.0,226.9 1638.4,218.1 1638.8,214.8 1639.2,222.7 1639.5,225.3 1639.9,220.1 1640.3,221.5 1640.7,216.7 1641.0,218.0 1641.4,219.9 1641.8,229.0 1642.1,219.6 1642.5,221.3 1642.8,225.8 1643.2,222.7 1643.5,223.7 1643.9,230.8 1644.2,227.8 1644.5,229.1 1644.9,233.7 1645.2,233.2 1645.5,232.2 1645.8,229.5 1646.1,227.9 1646.4,231.9 1646.8,232.7 1647.1,232.1 1647.4,235.8 1647.7,235.7 1648.0,235.6 1648.3,233.8 1648.6,235.1 1648.8,233.0 1649.1,232.0 1649.4,236.1 1649.7,235.4 1650.0,239.6 1650.3,235.1 1650.5,242.0 1650.8,238.3 1651.1,240.1 1651.3,237.8 1651.6,240.9 1651.9,240.6 1652.1,242.5 1652.4,243.0 1652.6,242.9 1652.9,243.2 1653.2,244.0 1653.4,244.7 1654.4,246.8 1655.4,249.0 1656.3,251.2 1657.2,253.5 1658.1,255.7 1659.0,258.0 1659.9,260.3 1660.7,262.5 1661.6,264.8 1662.4,267.1 1663.3,269.4 1664.2,271.6 1665.0,273.9 1665.9,276.2 1666.8,278.4 1667.7,280.6 1668.6,282.9 1669.5,285.1 1670.4,287.3 1671.4,289.5 1672.3,291.7 1673.3,293.9 1674.2,296.1 1675.2,298.2 1676.2,300.4 1677.2,302.6 1678.2,304.7 1679.2,306.9 1680.2,309.0 1681.2,311.2 1682.3,313.3 1683.3,315.4 1684.3,317.6 1685.4,319.7 1686.5,321.8 1687.5,324.0 1688.6,326.1 1689.7,328.2 1690.8,330.3 1691.8,332.5 1692.9,334.6 1694.0,336.7 1695.2,338.8 1696.3,340.9 1697.4,343.1 1698.5,345.2 1699.6,347.3 1700.8,349.5 1701.9,351.6 1703.1,353.7 1704.2,355.9 1705.4,358.0 1706.5,360.2 1707.7,362.3 1708.8,364.5 1710.0,366.6 1711.2,368.7 1712.4,370.9 1713.7,373.0 1715.0,375.0 1716.3,377.0 1717.7,379.0 1719.1,381.0 1720.5,382.8 1722.1,384.7 1723.6,386.4 1725.3,388.1 1727.0,389.7 1728.8,391.2 1730.7,392.7 1732.7,394.0 1734.7,395.2 1736.9,396.3 1739.1,397.4 1741.5,398.2 1743.8,399.0 1746.2,399.5 1748.6,399.9 1751.0,400.1 1753.4,400.1 1755.6,399.9 1757.9,399.4 1760.0,398.7 1762.0,397.8 1763.9,396.6 1765.7,395.3 1767.4,393.7 1769.0,392.0 1770.6,390.1 1772.0,388.2 1773.5,386.1 1774.8,383.9 1776.1,381.7 1777.3,379.5 1778.5,377.2 1779.6,375.0 1780.7,372.7 1781.8,370.5 1782.8,368.2 1783.8,366.0 1784.8,363.7 1785.7,361.5 1786.6,359.2 1787.4,357.0 1788.3,354.8 1789.1,352.5 1789.9,350.3 1790.7,348.0 1791.4,345.8 1792.2,343.5 1792.9,341.3 1793.6,339.0 1794.3,336.8 1795.0,334.5 1795.6,332.2 1796.3,330.0 1796.9,327.7 1797.6,325.4 1798.3,323.2 1798.9,320.9 1799.5,318.6 1800.2,316.3 1800.8,314.0 1801.5,311.7 1802.1,309.4 1802.7,307.1 1803.3,304.8 1804.0,302.5 1804.6,300.2 1805.2,297.9 1805.8,295.6 1806.4,293.2 1807.1,290.9 1807.7,288.6 1808.3,286.3 1808.9,284.0 1809.5,281.6 1810.1,279.3 1810.7,277.0 1811.4,274.7 1812.0,272.3 1812.6,270.0 1813.2,267.7 1813.8,265.3 1814.5,263.0 1815.1,260.7 1815.7,258.4 1816.3,256.0 1817.0,253.7 1817.6,251.4 1818.3,249.0 1818.9,246.7 1819.6,244.4 1820.2,242.1 1820.9,239.7 1821.5,237.4 1822.2,235.1 1822.9,232.8 1823.5,230.5 1824.2,228.2 1824.9,225.9 1825.6,223.5 1826.3,221.2 1827.0,218.9 1827.7,216.6 1828.4,214.3 1829.1,212.1 1829.9,209.8 1830.6,207.5 1831.4,205.2 1832.1,202.9 1832.9,200.7 1833.7,198.4 1834.4,196.1 1835.2,193.9 1836.0,191.6 1836.6,190.0 1836.8,189.4 1837.0,188.7 1837.2,188.5 1837.4,188.0 1837.7,187.5 1837.9,186.5 1838.1,186.2 1838.3,185.5 1838.5,184.8 1838.7,184.4 1838.9,183.6 1839.1,182.9 1839.3,182.8 1839.5,182.5 1839.7,181.5 1840.0,181.5 1840.2,180.8 1840.4,180.5 1840.6,179.5 1840.8,180.5 1841.0,177.6 1841.2,178.2 1841.5,179.5 1841.7,176.7 1841.9,177.8 1842.1,173.1 1842.3,174.6 1842.6,173.1 1842.8,173.4 1843.0,173.9 1843.2,171.5 1843.4,172.6 1843.7,172.3 1843.9,170.7 1844.1,169.9 1844.4,168.1 1844.6,168.5 1844.8,167.5 1845.1,169.0 1845.3,167.9 1845.6,165.6 1845.9,166.5 1846.2,168.2 1846.4,165.2 1846.7,165.3 1847.1,165.3 1847.4,164.1 1847.7,163.4 1848.1,163.5 1848.4,162.3 1848.8,160.2 1849.2,160.3 1849.6,161.6 1850.0,161.0 1850.5,158.9 1850.9,158.4 1851.4,160.7 1851.9,159.0 1852.4,159.0 1852.9,156.1 1853.5,157.5 1854.0,157.4 1854.6,155.8 1855.2,155.6 1855.7,154.9 1856.3,156.8 1856.9,154.6 1857.5,154.9 1858.1,154.0 1858.7,154.8 1859.3,155.5 1859.8,153.1 1860.4,157.3 1861.0,155.6 1861.5,155.5 1862.0,156.9 1862.6,156.0 1863.1,157.1 1863.6,155.3 1864.1,157.5 1864.6,157.9 1865.1,158.1 1865.6,156.7 1866.1,158.6 1866.6,158.3 1867.1,159.0 1867.5,157.1 1868.0,159.0 1868.5,160.2 1869.0,159.1 1869.5,161.4 1870.0,160.3 1870.6,162.4 1871.1,163.5 1871.6,162.3 1872.1,163.6 1872.6,163.0 1873.1,161.7 1873.7,163.8 1874.2,164.4 1874.7,163.8 1875.2,162.5 1875.7,166.0 1876.3,163.5 1876.8,164.6 1877.3,167.1 1877.8,167.3 1878.3,164.1 1878.8,166.6 1879.3,165.9 1879.8,166.6 1880.3,167.6 1880.8,167.9 1881.3,165.8 1881.8,167.0 1882.3,167.8 1882.7,166.9 1883.2,169.8 1883.7,171.6 1884.1,170.0 1884.6,169.2 1885.0,167.9 1885.5,172.2 1885.9,170.8 1886.3,171.4 1886.7,173.4 1887.1,171.1 1887.6,173.4 1888.0,173.6 1888.4,175.3 1888.7,172.9 1889.1,175.3 1889.5,178.6 1889.9,176.8 1890.3,176.3 1890.7,176.6 1891.0,176.2 1891.4,178.1 1891.8,178.4 1892.1,180.4 1892.5,181.4 1892.9,181.6 1893.3,182.4 1893.6,182.5 1894.0,181.9 1894.4,182.3 1894.8,184.8 1895.2,183.4 1895.5,185.0 1895.9,184.3 1896.3,187.7 1896.7,185.5 1897.1,187.9 1897.5,185.3 1897.9,186.1 1898.3,187.0 1898.8,189.0 1899.2,185.1 1899.6,185.8 1900.1,188.5 1900.5,186.6 1901.0,186.7 1901.4,189.7 1901.9,187.3 1902.4,189.0 1902.9,189.2 1903.3,187.2 1903.8,187.6 1904.2,187.4 1904.7,186.4 1905.1,188.1 1905.4,187.3 1905.8,186.2 1906.1,184.2 1906.4,184.8 1906.7,186.0 1906.9,183.4 1907.2,181.6 1907.4,183.8 1907.7,183.1 1908.0,181.4 1908.2,182.1 1908.5,181.6 1908.9,181.7 1909.2,180.7 1909.6,180.5 1910.0,178.9 1910.5,180.5 1911.0,177.9 1911.5,178.1 1912.0,181.3 1912.6,179.7 1913.1,180.0 1913.7,182.2 1914.3,179.3 1914.9,181.6 1915.5,183.2 1916.1,180.7 1916.6,184.1 1917.2,182.0 1917.8,182.9 1918.3,179.6 1918.9,183.0 1919.4,181.5 1920.0,182.3 1920.5,181.4 1921.1,183.3 1921.6,184.6 1922.1,184.6 1922.6,185.0 1923.1,186.3 1923.6,184.9 1924.1,185.5 1924.6,188.4 1925.1,187.0 1925.5,186.2 1926.0,187.6 1926.5,189.9 1926.9,190.2 1927.4,189.5 1927.8,191.4 1928.3,190.4 1928.7,191.4 1929.2,191.4 1929.6,191.8 1930.0,190.0 1930.4,192.3 1930.8,193.0 1931.3,194.4 1931.7,193.3 1932.1,195.4 1932.5,195.0 1932.8,195.6 1933.2,193.9 1933.6,195.5 1934.0,197.7 1934.4,194.8 1934.7,199.4 1935.1,197.9 1935.5,197.4 1935.8,197.0 1936.2,197.7 1936.5,199.8 1936.9,200.7 1937.2,199.0 1937.6,200.3 1937.9,200.2 1938.2,202.7 1938.6,201.0 1938.9,202.0 1939.2,204.4 1939.6,204.7 1939.9,205.0 1940.2,205.7 1940.5,207.0 1940.8,205.2 1941.1,207.2 1941.4,206.0 1941.7,207.7 1942.0,208.6 1942.3,209.0 1942.6,206.8 1942.9,209.6 1943.2,209.3 1943.5,210.9 1943.8,208.7 1944.1,211.3 1944.4,213.6 1944.7,213.6 1945.0,213.2 1945.2,212.7 1945.5,212.7 1945.8,212.5 1946.1,214.4 1946.4,215.3 1946.6,216.5 1946.9,216.4 1947.2,218.4 1947.4,216.9 1947.7,218.6 1948.0,220.0 1948.3,218.2 1948.5,220.7 1948.8,219.2 1949.1,222.0 1949.3,222.2 1949.6,223.7 1949.8,224.3 1950.1,222.0 1950.4,225.7 1950.6,226.4 1950.9,223.6 1951.1,225.1 1951.4,225.4 1951.6,227.9 1951.9,227.9 1952.1,228.5 1952.4,226.0 1952.6,229.2 1952.9,229.6 1953.1,228.5 1953.4,231.3 1953.6,230.2 1953.8,233.2 1954.1,232.3 1954.3,230.4 1954.6,233.9 1954.8,233.5 1955.0,234.8 1955.3,234.7 1955.5,233.8 1955.7,234.7 1956.0,237.2 1956.2,237.7 1956.4,237.1 1956.7,237.0 1956.9,239.0 1957.1,239.5 1957.4,239.3 1957.6,240.0 1957.8,241.5 1958.0,242.3 1958.3,241.6 1958.5,242.5 1958.7,242.7 1958.9,244.6 1959.2,244.2 1959.4,246.8 1959.6,243.3 1959.8,246.4 1960.0,249.1 1960.2,245.9 1960.5,247.7 1960.7,249.7 1960.9,248.9 1961.1,249.5 1961.3,249.2 1961.5,249.7 1961.7,251.3 1961.9,252.0 1962.2,251.9 1962.4,252.0 1962.6,253.9 1962.8,254.2 1963.0,254.7 1963.2,254.9 1963.4,255.4 1964.2,257.7 1965.0,260.0 1965.8,262.3 1966.6,264.5 1967.4,266.8 1968.1,269.1 1968.9,271.4 1969.6,273.6 1970.4,275.9 1971.1,278.2 1971.9,280.5 1972.6,282.8 1973.3,285.1 1974.0,287.4 1974.8,289.7 1975.5,292.0 1976.2,294.3 1976.9,296.6 1977.6,298.9 1978.3,301.2 1979.0,303.5 1979.7,305.8 1980.4,308.1 1981.1,310.4 1981.9,312.7 1982.6,315.0 1983.3,317.3 1984.0,319.6 1984.7,321.9 1985.5,324.2 1986.2,326.5 1986.9,328.8 1987.7,331.1 1988.4,333.4 1989.2,335.6 1990.0,337.9 1990.7,340.2 1991.5,342.5 1992.3,344.7 1993.1,347.0 1993.9,349.2 1994.8,351.5 1995.6,353.7 1996.5,355.9 1997.3,358.2 1998.2,360.4 1999.1,362.6 1999.9,364.8 2000.8,367.1 2001.7,369.3 2002.6,371.5 2003.5,373.7 2004.4,375.9 2005.3,378.1 2006.2,380.3 2007.2,382.5 2008.1,384.8 2009.0,387.0 2009.9,389.2 2010.8,391.4 2011.7,393.7 2012.6,395.9 2013.5,398.1 2014.3,400.4 2015.2,402.6 2016.1,404.9 2017.0,407.1 2017.8,409.4 2018.6,411.7 2019.5,413.9 2020.3,416.2 2021.2,418.5 2022.0,420.8 2022.8,423.0 2023.7,425.3 2024.5,427.6 2025.4,429.8 2026.2,432.1 2027.1,434.3 2028.0,436.5 2028.9,438.7 2029.9,440.9 2030.8,443.1 2031.8,445.3 2032.8,447.4 2033.8,449.5 2034.8,451.7 2035.8,453.8 2036.9,455.9 2038.0,458.0 2039.1,460.1 2040.2,462.2 2041.3,464.2 2042.4,466.3 2043.6,468.4 2044.8,470.5 2045.9,472.5 2047.1,474.6 2048.4,476.7 2049.6,478.8 2050.8,480.8 2052.1,482.9 2053.4,485.0 2054.7,487.0 2056.0,489.1 2057.3,491.2 2058.7,493.2 2060.1,495.2 2061.5,497.2 2062.9,499.2 2064.3,501.2 2065.8,503.2 2067.2,505.1 2068.7,507.0 2070.2,508.9 2071.8,510.8 2073.4,512.7 2074.9,514.5 2076.6,516.3 2078.2,518.0 2079.9,519.8 2081.5,521.5 2083.2,523.1 2085.0,524.8 2086.8,526.3 2088.5,527.9 2090.4,529.4 2092.2,530.8 2094.1,532.3 2096.0,533.6 2097.9,535.0 2099.9,536.2 2101.9,537.4 2103.9,538.6 2106.0,539.7 2108.1,540.8 2110.2,541.8 2112.4,542.7 2114.5,543.6 2116.8,544.4 2119.0,545.2 2121.3,545.9 2123.6,546.6 2125.9,547.2 2128.2,547.8 2130.6,548.4 2132.9,548.9 2135.3,549.3 2137.7,549.8 2140.2,550.2 2142.6,550.5 2145.0,550.8 2147.5,551.1 2149.9,551.4 2152.4,551.6 2154.9,551.8 2157.4,552.0 2159.8,552.2 2162.3,552.3 2164.8,552.5 2167.3,552.6 2169.7,552.7 2172.2,552.8 2174.7,552.9 2177.1,553.0 2179.5,553.0 2182.0,553.1 2184.4,553.2 2186.8,553.2 2189.1,553.3 2191.5,553.3 2193.8,553.4 2196.2,553.5 2198.5,553.6 2200.7,553.7 2203.0,553.8 2205.2,553.9 2206.9,554.0" fill="none" stroke="#161616" stroke-width="2.9" stroke-linejoin="round" stroke-linecap="round" clip-path="url(#cc)"/><polyline points="1574.3,426.0 1574.5,423.6 1574.8,421.2 1575.0,418.9 1575.2,416.5 1575.5,414.1 1575.7,411.7 1576.0,409.3 1576.2,406.9 1576.5,404.6 1576.7,402.2 1577.0,399.8 1577.2,397.4 1577.5,395.0 1577.8,392.6 1578.0,390.3 1578.3,387.9 1578.6,385.5 1578.8,383.1 1579.1,380.7 1579.4,378.3 1579.6,375.9 1579.9,373.6 1580.2,371.2 1580.5,368.8 1580.8,366.4 1581.0,364.0 1581.3,361.6 1581.6,359.2 1581.9,356.9 1582.2,354.5 1582.5,352.1 1582.8,349.7 1583.1,347.3 1583.4,344.9 1583.7,342.6 1584.0,340.2 1584.3,337.8 1584.6,335.4 1584.9,333.0 1585.2,330.6 1585.5,328.3 1585.8,325.9 1586.2,323.5 1586.4,321.7 1586.5,320.8 1586.6,320.8 1586.6,320.0 1586.7,319.5 1586.8,318.8 1586.9,318.9 1587.0,318.0 1587.1,317.6 1587.1,316.2 1587.2,315.5 1587.3,314.5 1587.4,314.4 1587.5,312.0 1587.5,314.7 1587.6,312.9 1587.7,312.3 1587.8,312.5 1587.9,310.7 1588.0,310.7 1588.0,310.7 1588.1,307.5 1588.2,310.7 1588.3,308.2 1588.4,308.3 1588.5,305.5 1588.5,305.4 1588.6,308.1 1588.7,304.3 1588.8,303.9 1588.9,304.7 1589.0,305.6 1589.1,298.8 1589.1,304.6 1589.2,302.0 1589.3,302.5 1589.4,298.5 1589.5,300.3 1589.6,302.3 1589.7,298.4 1589.7,296.7 1589.8,296.5 1589.9,295.7 1590.0,297.9 1590.1,296.1 1590.2,293.9 1590.3,296.2 1590.4,291.3 1590.4,289.8 1590.5,298.6 1590.6,290.5 1590.7,295.6 1590.8,290.7 1590.9,289.7 1591.0,291.1 1591.1,286.8 1591.2,286.2 1591.2,287.3 1591.3,286.2 1591.4,288.8 1591.5,291.9 1591.6,282.0 1591.7,282.3 1591.8,286.7 1591.9,285.4 1592.0,286.8 1592.1,280.2 1592.1,284.0 1592.2,281.3 1592.3,275.4 1592.4,281.8 1592.5,274.3 1592.6,280.9 1592.7,276.9 1592.8,277.2 1592.9,285.0 1593.0,282.2 1593.1,277.7 1593.2,277.0 1593.3,272.1 1593.3,279.0 1593.4,276.1 1593.5,269.9 1593.6,266.1 1593.7,272.0 1593.8,270.7 1593.9,274.3 1594.0,266.1 1594.1,266.1 1594.2,270.8 1594.3,268.8 1594.4,271.8 1594.5,272.0 1594.6,262.9 1594.7,255.9 1594.8,265.8 1594.9,261.7 1595.0,265.4 1595.1,252.6 1595.2,262.7 1595.3,263.0 1595.4,259.4 1595.5,263.8 1595.6,261.3 1595.7,261.3 1595.8,265.8 1595.9,265.2 1596.0,264.2 1596.1,259.7 1596.2,258.0 1596.3,259.5 1596.4,257.7 1596.5,251.9 1596.6,256.9 1596.7,259.0 1596.8,251.7 1596.9,247.5 1597.0,255.6 1597.1,248.0 1597.2,243.5 1597.3,249.5 1597.5,242.3 1597.6,251.5 1597.7,246.3 1597.8,248.9 1597.9,254.3 1598.0,253.6 1598.1,246.2 1598.2,233.2 1598.4,242.8 1598.5,238.2 1598.6,249.6 1598.7,253.0 1598.8,247.4 1599.0,246.5 1599.1,245.4 1599.2,245.6 1599.3,238.6 1599.5,245.8 1599.6,237.8 1599.7,231.8 1599.8,238.8 1600.0,248.2 1600.1,241.9 1600.2,243.1 1600.4,226.7 1600.5,237.7 1600.6,242.7 1600.8,229.4 1600.9,227.7 1601.1,239.3 1601.2,229.8 1601.3,229.9 1601.5,237.6 1601.6,228.4 1601.8,224.1 1601.9,223.9 1602.1,225.9 1602.2,232.3 1602.4,225.2 1602.5,232.6 1602.7,218.0 1602.8,221.0 1603.0,227.9 1603.1,224.4 1603.3,224.2 1603.4,232.3 1603.6,218.7 1603.8,216.2 1603.9,212.7 1604.1,221.0 1604.3,216.7 1604.4,219.6 1604.6,209.8 1604.8,209.1 1604.9,216.0 1605.1,222.9 1605.3,213.3 1605.5,224.7 1605.6,217.6 1605.8,213.5 1606.0,220.3 1606.2,209.0 1606.4,215.7 1606.6,219.9 1606.8,213.3 1607.0,208.4 1607.1,203.4 1607.3,212.2 1607.5,204.0 1607.7,207.1 1607.9,209.8 1608.1,217.0 1608.3,211.2 1608.5,207.6 1608.7,213.6 1609.0,202.3 1609.2,203.2 1609.4,208.3 1609.6,205.3 1609.8,198.3 1610.1,201.5 1610.3,209.0 1610.6,197.2 1610.8,205.7 1611.1,192.5 1611.4,209.7 1611.6,204.0 1611.9,196.7 1612.3,209.2 1612.6,205.3 1612.9,190.8 1613.3,194.3 1613.7,198.9 1614.1,208.6 1614.5,192.0 1614.9,190.3 1615.4,195.5 1615.8,190.5 1616.3,197.8 1616.8,200.5 1617.3,199.0 1617.9,193.6 1618.4,191.8 1618.9,207.1 1619.5,200.6 1620.0,201.8 1620.6,202.2 1621.1,206.5 1621.6,211.0 1622.2,210.0 1622.7,208.6 1623.2,201.6 1623.7,198.9 1624.2,197.8 1624.8,212.6 1625.3,198.0 1625.8,208.0 1626.3,214.7 1626.8,204.2 1627.3,205.8 1627.8,206.7 1628.2,216.9 1628.7,212.5 1629.2,215.7 1629.7,201.3 1630.1,214.5 1630.6,209.7 1631.1,209.2 1631.5,217.2 1632.0,216.1 1632.4,219.7 1632.9,217.0 1633.3,220.5 1633.7,212.1 1634.2,214.9 1634.6,219.5 1635.0,213.8 1635.4,208.5 1635.8,217.1 1636.2,222.7 1636.6,223.1 1637.0,210.0 1637.4,215.1 1637.8,212.8 1638.2,215.3 1638.6,226.9 1639.0,217.6 1639.3,216.1 1639.7,215.8 1640.1,219.3 1640.4,223.8 1640.8,218.7 1641.1,216.6 1641.5,217.8 1641.8,219.0 1642.2,229.4 1642.5,218.8 1642.8,227.8 1643.2,219.2 1643.5,229.0 1643.8,222.5 1644.2,226.9 1644.5,222.7 1644.8,228.5 1645.1,228.3 1645.4,229.4 1645.7,224.7 1646.0,226.2 1646.3,229.9 1646.6,228.9 1646.9,227.6 1647.2,234.5 1647.5,233.0 1647.8,230.3 1648.1,236.9 1648.3,229.5 1648.6,232.6 1648.9,236.6 1649.2,236.9 1649.4,232.6 1649.7,233.7 1650.0,237.9 1650.2,235.6 1650.5,235.5 1650.8,236.8 1651.0,238.4 1651.3,240.4 1651.5,239.9 1651.8,239.0 1652.0,239.2 1652.3,240.9 1652.5,242.2 1652.8,242.3 1653.0,243.4 1653.2,243.6 1653.5,244.3 1654.4,246.2 1655.3,248.4 1656.2,250.7 1657.1,253.0 1657.9,255.2 1658.8,257.5 1659.6,259.8 1660.4,262.1 1661.3,264.4 1662.1,266.7 1662.9,269.0 1663.7,271.2 1664.6,273.5 1665.4,275.8 1666.3,278.1 1667.2,280.3 1668.0,282.5 1668.9,284.8 1669.9,287.0 1670.8,289.2 1671.7,291.4 1672.7,293.6 1673.6,295.8 1674.6,297.9 1675.6,300.1 1676.6,302.3 1677.6,304.4 1678.6,306.6 1679.6,308.7 1680.6,310.9 1681.7,313.0 1682.7,315.1 1683.7,317.3 1684.8,319.4 1685.9,321.5 1686.9,323.6 1688.0,325.8 1689.1,327.9 1690.2,330.0 1691.3,332.1 1692.4,334.2 1693.5,336.4 1694.7,338.5 1695.8,340.6 1696.9,342.7 1698.0,344.8 1699.2,347.0 1700.3,349.1 1701.5,351.2 1702.6,353.3 1703.7,355.5 1704.9,357.6 1706.1,359.8 1707.2,361.9 1708.4,364.1 1709.5,366.2 1710.7,368.4 1711.9,370.5 1713.1,372.6 1714.4,374.7 1715.7,376.7 1717.0,378.8 1718.4,380.7 1719.8,382.6 1721.3,384.5 1722.8,386.3 1724.4,388.0 1726.1,389.7 1727.9,391.2 1729.7,392.7 1731.6,394.1 1733.6,395.4 1735.8,396.5 1738.0,397.6 1740.3,398.5 1742.6,399.3 1745.0,400.0 1747.4,400.4 1749.8,400.7 1752.2,400.8 1754.5,400.7 1756.8,400.4 1759.0,399.8 1761.0,399.0 1763.0,397.9 1764.8,396.6 1766.6,395.2 1768.3,393.5 1769.9,391.8 1771.4,389.8 1772.8,387.8 1774.2,385.7 1775.5,383.5 1776.7,381.3 1777.9,379.1 1779.1,376.8 1780.2,374.5 1781.3,372.3 1782.3,370.0 1783.3,367.8 1784.3,365.5 1785.2,363.3 1786.1,361.1 1787.0,358.8 1787.9,356.6 1788.7,354.3 1789.5,352.1 1790.3,349.8 1791.0,347.6 1791.8,345.3 1792.5,343.1 1793.2,340.8 1793.9,338.6 1794.6,336.3 1795.3,334.0 1795.9,331.8 1796.6,329.5 1797.3,327.2 1797.9,324.9 1798.6,322.7 1799.2,320.4 1799.8,318.1 1800.5,315.8 1801.1,313.5 1801.7,311.2 1802.4,308.9 1803.0,306.6 1803.6,304.3 1804.2,302.0 1804.9,299.7 1805.5,297.4 1806.1,295.1 1806.7,292.7 1807.3,290.4 1808.0,288.1 1808.6,285.8 1809.2,283.5 1809.8,281.1 1810.4,278.8 1811.0,276.5 1811.6,274.2 1812.3,271.8 1812.9,269.5 1813.5,267.2 1814.1,264.9 1814.7,262.5 1815.4,260.2 1816.0,257.9 1816.6,255.5 1817.2,253.2 1817.9,250.9 1818.5,248.6 1819.2,246.2 1819.8,243.9 1820.4,241.6 1821.1,239.3 1821.8,236.9 1822.4,234.6 1823.1,232.3 1823.8,230.0 1824.4,227.7 1825.1,225.4 1825.8,223.1 1826.5,220.8 1827.2,218.5 1827.9,216.2 1828.6,213.9 1829.3,211.6 1830.0,209.3 1830.8,207.0 1831.5,204.7 1832.2,202.4 1833.0,200.1 1833.7,197.9 1834.5,195.6 1835.3,193.3 1836.1,191.1 1836.7,189.1 1836.9,188.8 1837.1,188.5 1837.3,187.0 1837.5,187.4 1837.7,187.0 1837.9,186.2 1838.1,186.0 1838.3,185.8 1838.5,185.4 1838.7,183.2 1838.9,183.8 1839.1,184.0 1839.3,180.9 1839.5,180.8 1839.7,182.0 1839.9,180.0 1840.1,179.1 1840.3,180.8 1840.5,180.5 1840.8,179.1 1841.0,179.2 1841.2,176.9 1841.4,174.8 1841.6,174.5 1841.8,177.3 1842.0,174.9 1842.2,173.8 1842.5,175.0 1842.7,172.1 1842.9,172.4 1843.1,172.7 1843.3,173.2 1843.6,172.1 1843.8,171.0 1844.0,168.9 1844.2,169.4 1844.4,169.1 1844.7,167.3 1844.9,168.1 1845.2,168.0 1845.4,166.8 1845.7,166.1 1845.9,165.0 1846.2,163.7 1846.5,165.2 1846.8,164.0 1847.1,163.6 1847.4,163.4 1847.7,162.6 1848.1,164.2 1848.4,160.9 1848.8,160.1 1849.2,157.9 1849.6,159.5 1850.0,160.2 1850.4,160.1 1850.8,157.3 1851.3,159.1 1851.8,157.1 1852.3,155.6 1852.8,157.8 1853.4,157.0 1853.9,155.6 1854.5,155.7 1855.0,155.6 1855.6,152.6 1856.2,153.8 1856.8,154.0 1857.3,154.1 1857.9,153.6 1858.5,152.5 1859.1,156.2 1859.7,155.7 1860.2,153.3 1860.8,152.9 1861.4,153.8 1861.9,155.0 1862.5,153.5 1863.0,155.1 1863.5,155.3 1864.0,157.2 1864.5,154.2 1865.0,153.7 1865.5,157.9 1866.0,156.7 1866.5,157.1 1867.0,156.6 1867.5,156.8 1868.0,159.2 1868.6,159.3 1869.1,159.3 1869.6,158.6 1870.1,160.2 1870.6,161.3 1871.1,157.8 1871.6,160.4 1872.1,161.3 1872.6,160.1 1873.1,160.8 1873.6,161.1 1874.2,160.4 1874.7,161.0 1875.2,163.1 1875.7,163.1 1876.2,163.0 1876.7,163.6 1877.2,165.6 1877.7,166.9 1878.2,163.9 1878.7,163.9 1879.2,168.0 1879.7,164.9 1880.2,166.7 1880.7,166.6 1881.2,167.4 1881.6,164.9 1882.1,167.8 1882.6,167.6 1883.1,167.2 1883.5,166.9 1884.0,166.8 1884.4,168.5 1884.9,169.3 1885.3,171.1 1885.7,169.2 1886.2,170.0 1886.6,170.5 1887.0,172.4 1887.4,171.2 1887.9,171.0 1888.3,173.4 1888.7,170.8 1889.1,175.1 1889.5,173.0 1889.9,175.7 1890.3,176.3 1890.7,173.7 1891.0,177.6 1891.4,178.6 1891.8,179.8 1892.2,178.3 1892.6,177.6 1893.0,181.7 1893.4,181.1 1893.7,181.6 1894.1,183.1 1894.5,182.7 1894.9,181.4 1895.3,183.0 1895.7,182.5 1896.1,184.2 1896.4,183.7 1896.8,182.6 1897.2,183.2 1897.6,186.9 1898.0,187.1 1898.4,186.3 1898.8,186.5 1899.3,186.8 1899.7,186.0 1900.1,186.5 1900.5,187.3 1900.9,187.1 1901.4,185.2 1901.8,188.4 1902.3,186.6 1902.7,187.2 1903.1,186.8 1903.6,184.1 1904.0,186.5 1904.4,185.8 1904.8,186.2 1905.1,186.3 1905.5,186.3 1905.8,184.2 1906.1,184.5 1906.4,182.8 1906.7,181.1 1907.0,182.7 1907.3,182.1 1907.6,182.8 1907.9,181.9 1908.2,178.5 1908.5,179.3 1908.9,177.6 1909.3,181.0 1909.7,179.1 1910.1,179.0 1910.6,179.8 1911.1,181.4 1911.6,179.9 1912.1,177.5 1912.7,178.4 1913.2,180.6 1913.8,178.2 1914.4,178.5 1915.0,180.9 1915.5,181.0 1916.1,180.9 1916.7,179.6 1917.3,182.8 1917.8,180.5 1918.4,180.3 1918.9,181.1 1919.5,182.9 1920.0,182.3 1920.5,183.2 1921.0,181.5 1921.6,185.6 1922.1,184.3 1922.6,183.4 1923.1,182.6 1923.6,185.0 1924.0,185.7 1924.5,186.7 1925.0,185.4 1925.5,186.0 1925.9,187.0 1926.4,187.1 1926.9,188.9 1927.3,186.8 1927.8,187.6 1928.2,189.4 1928.6,190.5 1929.1,188.2 1929.5,190.3 1929.9,191.4 1930.3,192.3 1930.7,192.2 1931.2,190.8 1931.6,192.6 1932.0,192.3 1932.4,192.2 1932.7,194.8 1933.1,195.6 1933.5,196.0 1933.9,193.4 1934.3,193.5 1934.6,195.1 1935.0,196.5 1935.4,196.5 1935.7,196.8 1936.1,198.7 1936.4,198.0 1936.8,197.5 1937.1,199.2 1937.5,198.7 1937.8,201.3 1938.2,200.2 1938.5,199.7 1938.8,200.7 1939.1,202.7 1939.5,201.2 1939.8,203.4 1940.1,204.8 1940.4,203.7 1940.7,204.4 1941.1,205.6 1941.4,204.7 1941.7,207.2 1942.0,206.1 1942.3,209.0 1942.6,207.1 1942.9,206.8 1943.2,209.9 1943.5,209.8 1943.8,209.8 1944.0,209.4 1944.3,210.3 1944.6,209.8 1944.9,212.9 1945.2,210.8 1945.5,213.3 1945.8,213.4 1946.0,211.8 1946.3,216.3 1946.6,216.5 1946.9,215.6 1947.1,215.3 1947.4,217.4 1947.7,217.6 1947.9,219.1 1948.2,219.1 1948.5,220.2 1948.7,219.3 1949.0,219.8 1949.3,221.2 1949.5,222.5 1949.8,221.3 1950.1,222.3 1950.3,225.3 1950.6,220.1 1950.8,225.4 1951.1,223.3 1951.3,224.7 1951.6,225.4 1951.8,226.1 1952.1,226.8 1952.3,226.0 1952.6,227.2 1952.8,225.8 1953.1,227.4 1953.3,230.0 1953.6,229.4 1953.8,228.6 1954.1,230.3 1954.3,232.0 1954.5,231.8 1954.8,232.7 1955.0,231.9 1955.2,232.3 1955.5,234.3 1955.7,233.4 1955.9,235.0 1956.2,234.2 1956.4,237.2 1956.6,235.6 1956.9,236.7 1957.1,236.5 1957.3,238.7 1957.5,239.5 1957.8,240.4 1958.0,238.5 1958.2,238.1 1958.4,241.1 1958.7,242.7 1958.9,244.2 1959.1,242.4 1959.3,243.5 1959.5,244.3 1959.7,244.8 1960.0,246.0 1960.2,247.6 1960.4,246.0 1960.6,246.9 1960.8,244.9 1961.0,248.1 1961.2,248.7 1961.4,248.5 1961.7,249.0 1961.9,250.3 1962.1,250.9 1962.3,252.1 1962.5,252.4 1962.7,252.6 1962.9,253.6 1963.1,253.4 1963.3,254.0 1964.1,256.4 1964.9,258.7 1965.7,261.0 1966.5,263.3 1967.2,265.5 1968.0,267.8 1968.7,270.1 1969.5,272.4 1970.2,274.7 1970.9,277.0 1971.6,279.3 1972.4,281.6 1973.1,283.8 1973.8,286.2 1974.5,288.5 1975.2,290.8 1975.9,293.1 1976.6,295.4 1977.3,297.7 1977.9,300.0 1978.6,302.3 1979.3,304.6 1980.0,306.9 1980.7,309.2 1981.4,311.5 1982.1,313.8 1982.8,316.1 1983.5,318.4 1984.2,320.7 1984.9,323.0 1985.7,325.3 1986.4,327.6 1987.1,329.9 1987.9,332.1 1988.6,334.4 1989.4,336.7 1990.1,339.0 1990.9,341.2 1991.7,343.5 1992.5,345.8 1993.3,348.0 1994.1,350.3 1994.9,352.5 1995.7,354.8 1996.6,357.0 1997.4,359.2 1998.3,361.5 1999.2,363.7 2000.1,365.9 2001.0,368.1 2001.9,370.3 2002.8,372.6 2003.7,374.8 2004.6,377.0 2005.5,379.2 2006.4,381.4 2007.3,383.6 2008.2,385.9 2009.1,388.1 2010.0,390.3 2011.0,392.5 2011.9,394.8 2012.8,397.0 2013.6,399.2 2014.5,401.5 2015.4,403.7 2016.3,406.0 2017.1,408.2 2018.0,410.5 2018.8,412.8 2019.7,415.1 2020.5,417.3 2021.3,419.6 2022.2,421.9 2023.0,424.2 2023.8,426.4 2024.7,428.7 2025.5,430.9 2026.4,433.2 2027.3,435.4 2028.2,437.6 2029.1,439.8 2030.0,442.0 2031.0,444.2 2031.9,446.3 2032.9,448.5 2033.9,450.6 2035.0,452.7 2036.0,454.8 2037.1,456.9 2038.2,459.0 2039.2,461.1 2040.4,463.2 2041.5,465.3 2042.6,467.4 2043.8,469.4 2045.0,471.5 2046.2,473.6 2047.4,475.7 2048.6,477.7 2049.8,479.8 2051.1,481.9 2052.3,484.0 2053.6,486.0 2054.9,488.1 2056.2,490.2 2057.6,492.2 2058.9,494.2 2060.3,496.3 2061.7,498.3 2063.1,500.3 2064.6,502.3 2066.0,504.2 2067.5,506.2 2069.0,508.1 2070.5,510.0 2072.1,511.9 2073.6,513.7 2075.2,515.5 2076.8,517.3 2078.5,519.1 2080.1,520.8 2081.8,522.5 2083.5,524.1 2085.3,525.8 2087.1,527.3 2088.9,528.9 2090.7,530.4 2092.5,531.8 2094.4,533.2 2096.3,534.6 2098.3,535.9 2100.2,537.2 2102.2,538.4 2104.3,539.5 2106.3,540.7 2108.4,541.7 2110.5,542.7 2112.7,543.6 2114.9,544.5 2117.1,545.3 2119.4,546.1 2121.6,546.8 2123.9,547.5 2126.2,548.1 2128.6,548.7 2130.9,549.2 2133.3,549.7 2135.7,550.2 2138.1,550.6 2140.5,551.0 2143.0,551.4 2145.4,551.7 2147.9,552.0 2150.3,552.2 2152.8,552.5 2155.3,552.7 2157.7,552.9 2160.2,553.0 2162.7,553.2 2165.2,553.3 2167.6,553.4 2170.1,553.5 2172.6,553.6 2175.0,553.7 2177.5,553.8 2179.9,553.8 2182.3,553.9 2184.7,554.0 2187.1,554.0 2189.5,554.1 2191.9,554.2 2194.2,554.2 2196.5,554.3 2198.8,554.4 2201.1,554.5 2203.3,554.6 2205.5,554.7 2206.6,554.8" fill="none" stroke="#1c1cae" stroke-width="2.9" stroke-linejoin="round" stroke-linecap="round" clip-path="url(#cc)"/><polyline points="1574.2,426.0 1574.5,423.6 1574.7,421.2 1575.0,418.8 1575.2,416.5 1575.5,414.1 1575.7,411.7 1576.0,409.3 1576.3,407.0 1576.5,404.6 1576.8,402.2 1577.0,399.8 1577.3,397.4 1577.5,395.0 1577.8,392.7 1578.1,390.3 1578.3,387.9 1578.6,385.5 1578.9,383.1 1579.1,380.7 1579.4,378.3 1579.7,376.0 1579.9,373.6 1580.2,371.2 1580.5,368.8 1580.8,366.4 1581.0,364.0 1581.3,361.6 1581.6,359.2 1581.9,356.9 1582.2,354.5 1582.5,352.1 1582.8,349.7 1583.0,347.3 1583.3,344.9 1583.6,342.5 1583.9,340.2 1584.2,337.8 1584.5,335.4 1584.8,333.0 1585.2,330.6 1585.5,328.2 1585.8,325.9 1586.1,323.5 1586.4,321.1 1586.7,318.7 1587.1,316.3 1587.4,314.0 1587.7,311.6 1588.1,309.2 1588.4,306.8 1588.7,304.4 1589.1,302.1 1589.4,299.7 1589.8,297.3 1590.1,294.9 1590.5,292.5 1590.6,292.1 1590.7,291.2 1590.7,290.5 1590.8,289.7 1590.9,289.8 1591.0,288.9 1591.1,288.1 1591.2,287.3 1591.3,286.0 1591.4,286.6 1591.5,285.5 1591.6,285.4 1591.7,285.7 1591.7,284.0 1591.8,283.5 1591.9,283.7 1592.0,282.3 1592.1,282.0 1592.2,280.3 1592.3,279.9 1592.4,278.6 1592.5,280.4 1592.6,280.1 1592.7,277.8 1592.8,277.6 1592.9,276.7 1593.0,279.6 1593.1,277.1 1593.2,275.3 1593.3,275.7 1593.3,275.9 1593.4,272.4 1593.5,273.9 1593.6,273.3 1593.7,272.0 1593.8,272.5 1593.9,272.5 1594.0,270.2 1594.1,269.0 1594.2,270.5 1594.3,268.7 1594.4,268.5 1594.5,270.6 1594.6,267.3 1594.7,266.0 1594.8,263.1 1594.9,265.6 1595.0,265.0 1595.1,264.9 1595.2,264.3 1595.3,264.0 1595.4,262.5 1595.5,261.7 1595.6,262.1 1595.7,258.8 1595.8,257.6 1595.9,256.9 1596.1,258.7 1596.2,253.9 1596.3,256.2 1596.4,256.3 1596.5,256.9 1596.6,253.1 1596.7,255.2 1596.8,254.5 1596.9,252.5 1597.0,253.4 1597.1,252.2 1597.2,249.1 1597.4,250.6 1597.5,248.4 1597.6,255.6 1597.7,249.1 1597.8,247.3 1597.9,244.3 1598.0,248.0 1598.2,248.5 1598.3,246.9 1598.4,242.0 1598.5,242.4 1598.6,241.6 1598.7,245.1 1598.9,241.1 1599.0,243.0 1599.1,248.8 1599.2,235.8 1599.4,240.7 1599.5,240.9 1599.6,235.0 1599.7,243.6 1599.9,238.2 1600.0,240.0 1600.1,240.2 1600.2,242.8 1600.4,234.4 1600.5,233.8 1600.6,230.7 1600.8,230.1 1600.9,241.8 1601.0,232.1 1601.2,226.2 1601.3,235.7 1601.4,239.7 1601.6,227.4 1601.7,230.8 1601.9,224.3 1602.0,220.9 1602.1,230.9 1602.3,231.8 1602.4,223.6 1602.6,220.8 1602.7,223.0 1602.9,227.4 1603.0,226.7 1603.2,219.9 1603.3,219.1 1603.5,231.3 1603.6,215.8 1603.8,229.9 1603.9,226.7 1604.1,222.6 1604.2,229.6 1604.4,223.4 1604.5,210.6 1604.7,227.1 1604.9,216.8 1605.0,225.6 1605.2,223.2 1605.4,209.7 1605.5,207.1 1605.7,206.0 1605.9,220.4 1606.0,220.1 1606.2,208.2 1606.4,205.3 1606.5,209.8 1606.7,217.9 1606.9,216.1 1607.1,218.0 1607.2,219.4 1607.4,214.6 1607.6,215.6 1607.8,198.7 1608.0,197.9 1608.1,214.3 1608.3,208.9 1608.5,202.5 1608.7,198.0 1608.9,201.4 1609.1,201.0 1609.3,203.5 1609.5,202.0 1609.8,196.6 1610.0,193.7 1610.3,195.6 1610.6,193.6 1610.9,192.5 1611.2,198.3 1611.5,192.2 1611.9,205.0 1612.2,199.6 1612.7,197.5 1613.1,200.7 1613.5,192.5 1614.0,188.1 1614.5,189.0 1615.0,193.9 1615.4,194.2 1615.9,192.1 1616.4,193.1 1616.9,203.4 1617.4,187.5 1617.9,196.2 1618.4,195.1 1618.8,193.5 1619.3,202.3 1619.8,193.0 1620.3,189.9 1620.7,192.5 1621.2,208.5 1621.7,196.8 1622.2,192.8 1622.7,209.5 1623.1,203.6 1623.6,209.9 1624.1,198.4 1624.6,207.9 1625.1,193.7 1625.6,197.8 1626.1,208.7 1626.6,203.8 1627.1,209.3 1627.6,202.1 1628.1,211.7 1628.6,197.1 1629.1,207.7 1629.6,200.0 1630.1,200.6 1630.6,213.7 1631.1,205.7 1631.6,213.1 1632.0,203.8 1632.5,212.4 1633.0,216.0 1633.4,211.3 1633.9,204.5 1634.3,212.9 1634.8,218.4 1635.2,216.1 1635.6,210.0 1636.1,209.6 1636.5,204.6 1636.9,217.2 1637.3,206.6 1637.7,208.1 1638.0,205.2 1638.4,208.1 1638.8,212.5 1639.2,214.6 1639.5,209.7 1639.9,214.6 1640.2,221.0 1640.6,210.0 1640.9,211.3 1641.3,218.3 1641.6,224.8 1641.9,225.4 1642.2,220.4 1642.6,213.8 1642.9,225.7 1643.2,227.7 1643.5,226.8 1643.8,222.2 1644.1,221.8 1644.4,219.1 1644.6,226.6 1644.9,226.7 1645.2,215.2 1645.5,220.9 1645.8,225.6 1646.0,224.5 1646.3,230.0 1646.6,224.7 1646.8,226.9 1647.1,222.2 1647.3,230.1 1647.6,229.3 1647.8,231.5 1648.1,228.6 1648.3,235.0 1648.6,229.9 1648.8,235.5 1649.0,236.0 1649.3,231.2 1649.5,233.8 1649.8,232.9 1650.0,231.7 1650.2,236.0 1650.5,235.7 1650.7,238.0 1650.9,238.7 1651.2,235.4 1651.4,237.5 1651.6,238.8 1651.8,239.7 1652.1,239.6 1652.3,239.5 1652.5,240.5 1652.7,241.5 1653.0,241.2 1653.2,241.8 1653.4,242.5 1654.3,245.1 1655.1,247.3 1656.0,249.6 1656.8,251.9 1657.7,254.1 1658.5,256.4 1659.4,258.7 1660.2,261.0 1661.0,263.2 1661.9,265.5 1662.7,267.8 1663.6,270.0 1664.5,272.3 1665.3,274.5 1666.2,276.8 1667.1,279.0 1668.0,281.2 1668.9,283.4 1669.9,285.7 1670.8,287.9 1671.8,290.0 1672.7,292.2 1673.7,294.4 1674.7,296.6 1675.6,298.8 1676.6,300.9 1677.6,303.1 1678.6,305.2 1679.7,307.4 1680.7,309.5 1681.7,311.7 1682.8,313.8 1683.8,315.9 1684.9,318.1 1685.9,320.2 1687.0,322.3 1688.1,324.5 1689.2,326.6 1690.2,328.7 1691.3,330.8 1692.4,333.0 1693.5,335.1 1694.7,337.2 1695.8,339.3 1696.9,341.5 1698.0,343.6 1699.2,345.7 1700.3,347.8 1701.4,350.0 1702.6,352.1 1703.7,354.3 1704.9,356.4 1706.0,358.5 1707.2,360.7 1708.3,362.9 1709.5,365.0 1710.7,367.1 1711.9,369.3 1713.1,371.4 1714.4,373.4 1715.7,375.5 1717.0,377.5 1718.4,379.4 1719.8,381.4 1721.3,383.2 1722.9,385.0 1724.5,386.7 1726.2,388.3 1727.9,389.9 1729.8,391.4 1731.7,392.8 1733.7,394.0 1735.8,395.2 1738.0,396.3 1740.3,397.2 1742.6,398.0 1745.0,398.7 1747.4,399.1 1749.8,399.4 1752.2,399.5 1754.5,399.4 1756.8,399.1 1759.0,398.5 1761.0,397.7 1763.0,396.6 1764.9,395.3 1766.6,393.9 1768.3,392.2 1769.9,390.4 1771.4,388.5 1772.8,386.5 1774.2,384.4 1775.5,382.2 1776.8,380.0 1778.0,377.7 1779.1,375.5 1780.3,373.2 1781.3,371.0 1782.4,368.7 1783.4,366.5 1784.3,364.2 1785.3,362.0 1786.2,359.7 1787.0,357.5 1787.9,355.2 1788.7,353.0 1789.5,350.7 1790.3,348.5 1791.0,346.2 1791.8,344.0 1792.5,341.7 1793.2,339.5 1793.9,337.2 1794.5,334.9 1795.2,332.7 1795.9,330.4 1796.5,328.2 1797.2,325.9 1797.8,323.6 1798.5,321.3 1799.1,319.0 1799.8,316.8 1800.4,314.5 1801.1,312.2 1801.7,309.9 1802.3,307.6 1803.0,305.3 1803.6,303.0 1804.2,300.7 1804.9,298.4 1805.5,296.1 1806.1,293.7 1806.8,291.4 1807.4,289.1 1808.0,286.8 1808.7,284.5 1809.3,282.2 1809.9,279.8 1810.5,277.5 1811.2,275.2 1811.8,272.9 1812.4,270.6 1813.1,268.2 1813.7,265.9 1814.3,263.6 1815.0,261.3 1815.6,258.9 1816.3,256.6 1816.9,254.3 1817.5,252.0 1818.2,249.6 1818.8,247.3 1819.5,245.0 1820.1,242.7 1820.8,240.4 1821.5,238.0 1822.1,235.7 1822.8,233.4 1823.5,231.1 1824.2,228.8 1824.8,226.5 1825.5,224.2 1826.2,221.8 1826.9,219.5 1827.6,217.2 1828.3,214.9 1829.0,212.6 1829.7,210.3 1830.4,208.0 1831.2,205.8 1831.9,203.5 1832.6,201.2 1833.4,198.9 1834.1,196.6 1834.9,194.3 1835.6,192.1 1836.4,189.7 1836.6,189.5 1836.8,188.6 1837.0,188.3 1837.2,188.0 1837.4,187.5 1837.6,186.5 1837.8,185.8 1838.0,185.2 1838.2,184.5 1838.4,183.6 1838.6,183.9 1838.8,183.7 1839.0,181.9 1839.2,181.0 1839.4,181.3 1839.6,180.7 1839.8,181.1 1840.0,179.8 1840.2,179.2 1840.4,176.7 1840.6,177.4 1840.8,177.0 1841.0,176.0 1841.2,176.8 1841.4,175.7 1841.6,174.2 1841.8,175.1 1842.0,175.4 1842.2,176.2 1842.4,172.8 1842.6,171.7 1842.8,172.8 1843.0,173.2 1843.2,170.0 1843.4,170.9 1843.7,169.3 1843.9,170.0 1844.1,167.6 1844.3,167.4 1844.5,167.0 1844.7,166.6 1845.0,164.7 1845.2,165.4 1845.4,164.2 1845.7,166.8 1845.9,165.7 1846.2,162.8 1846.5,162.4 1846.8,162.9 1847.1,161.3 1847.4,160.8 1847.7,161.7 1848.0,161.8 1848.4,160.5 1848.7,161.1 1849.1,159.0 1849.5,158.4 1849.9,157.6 1850.4,157.0 1850.8,156.2 1851.3,158.4 1851.8,157.3 1852.3,155.7 1852.8,155.5 1853.4,154.0 1853.9,155.4 1854.5,154.1 1855.0,153.8 1855.6,153.3 1856.2,151.7 1856.8,152.5 1857.4,154.8 1858.0,151.9 1858.6,151.7 1859.2,152.4 1859.7,151.5 1860.3,151.5 1860.9,151.3 1861.4,151.7 1862.0,153.0 1862.5,150.5 1863.0,151.8 1863.6,152.2 1864.1,154.1 1864.6,153.4 1865.1,155.3 1865.6,154.2 1866.1,156.9 1866.6,153.9 1867.1,158.6 1867.6,155.3 1868.1,156.8 1868.6,156.4 1869.1,157.6 1869.6,160.0 1870.1,159.6 1870.6,158.3 1871.1,159.8 1871.6,161.6 1872.1,160.6 1872.6,159.8 1873.2,160.8 1873.7,161.2 1874.2,158.8 1874.7,160.5 1875.2,161.5 1875.7,163.9 1876.2,162.8 1876.7,162.5 1877.2,160.6 1877.7,162.2 1878.2,161.2 1878.7,163.4 1879.2,162.8 1879.7,164.8 1880.2,164.1 1880.7,164.4 1881.2,165.1 1881.7,166.1 1882.2,165.0 1882.6,165.1 1883.1,166.3 1883.6,169.7 1884.0,166.2 1884.5,166.3 1884.9,168.1 1885.4,166.3 1885.8,169.3 1886.2,167.7 1886.7,169.2 1887.1,169.8 1887.5,169.6 1887.9,171.7 1888.3,171.7 1888.7,173.5 1889.1,173.5 1889.5,172.9 1889.9,174.8 1890.3,175.3 1890.7,175.3 1891.1,176.0 1891.4,177.6 1891.8,176.1 1892.2,178.9 1892.6,178.3 1893.0,179.2 1893.4,180.4 1893.7,182.8 1894.1,179.1 1894.5,179.0 1894.9,182.4 1895.3,181.2 1895.7,182.1 1896.0,180.8 1896.4,184.2 1896.8,183.7 1897.2,181.8 1897.6,185.2 1898.0,184.2 1898.4,183.9 1898.8,182.7 1899.3,187.2 1899.7,184.1 1900.1,186.1 1900.5,184.7 1901.0,184.3 1901.4,186.7 1901.8,186.3 1902.3,186.2 1902.7,184.8 1903.2,185.8 1903.6,185.7 1904.0,186.4 1904.4,184.4 1904.8,184.6 1905.2,184.7 1905.6,180.7 1905.9,183.3 1906.2,184.3 1906.5,182.8 1906.8,181.9 1907.1,181.9 1907.4,182.0 1907.7,177.9 1908.0,178.7 1908.3,178.0 1908.7,176.9 1909.0,179.4 1909.4,176.9 1909.8,177.9 1910.2,178.3 1910.7,178.9 1911.2,175.8 1911.7,175.8 1912.2,175.3 1912.7,178.2 1913.3,176.8 1913.8,178.7 1914.4,179.6 1914.9,180.8 1915.5,177.7 1916.1,179.4 1916.6,179.5 1917.2,177.3 1917.7,181.0 1918.3,182.1 1918.8,179.1 1919.3,181.8 1919.8,181.7 1920.4,181.9 1920.9,180.8 1921.4,181.1 1921.9,185.5 1922.4,184.4 1922.9,183.6 1923.4,185.2 1923.9,182.9 1924.4,185.2 1924.8,184.3 1925.3,182.2 1925.8,184.4 1926.2,186.9 1926.7,187.4 1927.1,187.5 1927.6,187.2 1928.0,187.9 1928.5,186.0 1928.9,188.2 1929.3,192.0 1929.8,189.4 1930.2,189.0 1930.6,192.6 1931.0,190.4 1931.5,190.7 1931.9,191.4 1932.3,192.2 1932.7,190.7 1933.1,192.7 1933.5,192.7 1933.8,191.5 1934.2,194.4 1934.6,194.4 1935.0,194.3 1935.4,194.8 1935.7,197.1 1936.1,193.2 1936.5,197.8 1936.8,197.4 1937.2,197.8 1937.6,197.8 1937.9,198.4 1938.3,200.3 1938.6,198.7 1938.9,202.4 1939.3,199.2 1939.6,201.9 1940.0,201.5 1940.3,204.2 1940.6,203.6 1940.9,201.2 1941.3,204.2 1941.6,203.1 1941.9,205.2 1942.2,205.2 1942.5,204.7 1942.8,205.1 1943.2,206.9 1943.5,207.2 1943.8,207.5 1944.1,206.9 1944.4,209.3 1944.7,208.4 1944.9,207.6 1945.2,208.4 1945.5,213.2 1945.8,211.2 1946.1,211.0 1946.4,211.6 1946.7,212.7 1946.9,213.5 1947.2,214.0 1947.5,215.6 1947.8,214.6 1948.0,216.3 1948.3,216.4 1948.6,216.4 1948.8,218.2 1949.1,218.6 1949.4,217.5 1949.6,219.9 1949.9,219.1 1950.1,218.5 1950.4,223.1 1950.7,223.0 1950.9,219.6 1951.2,222.6 1951.4,223.1 1951.7,223.0 1951.9,222.9 1952.1,224.9 1952.4,225.4 1952.6,225.1 1952.9,227.1 1953.1,224.8 1953.3,224.1 1953.6,228.8 1953.8,230.2 1954.0,226.9 1954.3,228.1 1954.5,232.7 1954.7,230.4 1954.9,232.4 1955.2,233.1 1955.4,232.4 1955.6,231.6 1955.8,235.3 1956.1,234.3 1956.3,233.0 1956.5,233.6 1956.7,235.6 1956.9,234.2 1957.1,239.4 1957.3,238.0 1957.6,238.9 1957.8,238.1 1958.0,239.6 1958.2,236.7 1958.4,239.1 1958.6,241.1 1958.8,239.5 1959.0,240.5 1959.2,240.7 1959.4,243.9 1959.6,244.6 1959.8,243.7 1960.0,245.2 1960.2,244.8 1960.4,244.0 1960.6,245.2 1960.8,246.2 1961.0,247.9 1961.2,247.9 1961.4,249.3 1961.6,248.6 1961.7,250.2 1961.9,250.3 1962.1,251.6 1962.3,251.5 1962.5,252.3 1962.7,251.7 1962.9,253.3 1963.1,253.7 1963.3,254.4 1964.0,256.6 1964.7,258.9 1965.4,261.2 1966.2,263.5 1966.9,265.8 1967.6,268.1 1968.3,270.4 1969.0,272.7 1969.7,275.0 1970.4,277.3 1971.1,279.6 1971.8,281.9 1972.5,284.2 1973.2,286.5 1974.0,288.7 1974.7,291.0 1975.4,293.3 1976.2,295.6 1976.9,297.8 1977.7,300.1 1978.4,302.4 1979.2,304.6 1979.9,306.9 1980.7,309.2 1981.5,311.4 1982.2,313.7 1983.0,315.9 1983.8,318.2 1984.6,320.5 1985.4,322.7 1986.2,325.0 1987.0,327.2 1987.8,329.5 1988.6,331.7 1989.4,334.0 1990.2,336.2 1991.0,338.5 1991.8,340.7 1992.6,343.0 1993.4,345.3 1994.2,347.5 1995.0,349.8 1995.8,352.0 1996.7,354.3 1997.5,356.6 1998.3,358.8 1999.1,361.1 1999.9,363.4 2000.8,365.6 2001.6,367.9 2002.4,370.2 2003.3,372.4 2004.1,374.7 2004.9,377.0 2005.8,379.3 2006.6,381.5 2007.5,383.8 2008.3,386.0 2009.1,388.3 2010.0,390.6 2010.9,392.8 2011.7,395.1 2012.6,397.3 2013.5,399.6 2014.3,401.8 2015.2,404.1 2016.1,406.3 2017.0,408.5 2017.9,410.8 2018.8,413.0 2019.7,415.2 2020.6,417.5 2021.5,419.7 2022.4,421.9 2023.3,424.1 2024.3,426.3 2025.2,428.5 2026.1,430.7 2027.1,432.8 2028.0,435.0 2029.0,437.2 2029.9,439.4 2030.9,441.5 2031.9,443.7 2032.9,445.8 2033.9,447.9 2034.9,450.1 2035.9,452.2 2036.9,454.3 2038.0,456.5 2039.0,458.6 2040.1,460.7 2041.2,462.8 2042.3,464.9 2043.4,467.0 2044.5,469.1 2045.6,471.2 2046.8,473.3 2048.0,475.4 2049.2,477.5 2050.4,479.6 2051.6,481.7 2052.9,483.8 2054.2,485.9 2055.5,488.0 2056.8,490.0 2058.1,492.1 2059.5,494.1 2060.9,496.1 2062.3,498.2 2063.7,500.1 2065.1,502.1 2066.6,504.1 2068.1,506.0 2069.6,507.9 2071.1,509.8 2072.7,511.6 2074.3,513.5 2075.9,515.3 2077.6,517.0 2079.2,518.8 2080.9,520.5 2082.6,522.2 2084.4,523.8 2086.1,525.4 2087.9,526.9 2089.7,528.5 2091.6,529.9 2093.5,531.4 2095.4,532.8 2097.3,534.1 2099.2,535.4 2101.2,536.6 2103.3,537.8 2105.3,539.0 2107.4,540.1 2109.5,541.1 2111.6,542.1 2113.8,543.0 2116.0,543.8 2118.2,544.7 2120.5,545.4 2122.7,546.1 2125.0,546.8 2127.3,547.4 2129.7,548.0 2132.0,548.6 2134.4,549.1 2136.8,549.5 2139.2,549.9 2141.6,550.3 2144.0,550.7 2146.4,551.0 2148.9,551.3 2151.3,551.6 2153.8,551.8 2156.2,552.0 2158.7,552.2 2161.2,552.4 2163.6,552.6 2166.1,552.7 2168.5,552.8 2171.0,552.9 2173.4,553.0 2175.9,553.1 2178.3,553.2 2180.8,553.2 2183.2,553.3 2185.6,553.4 2188.0,553.4 2190.4,553.5 2192.7,553.5 2195.1,553.6 2197.4,553.6 2199.7,553.7 2202.0,553.8 2204.2,553.9 2206.5,554.0" fill="none" stroke="#9636cc" stroke-width="2.9" stroke-linejoin="round" stroke-linecap="round" clip-path="url(#cc)"/><polyline points="1574.3,426.0 1574.5,423.6 1574.8,421.2 1575.0,418.9 1575.2,416.5 1575.5,414.1 1575.7,411.7 1576.0,409.3 1576.2,406.9 1576.5,404.6 1576.7,402.2 1577.0,399.8 1577.2,397.4 1577.5,395.0 1577.8,392.6 1578.0,390.3 1578.3,387.9 1578.6,385.5 1578.8,383.1 1579.1,380.7 1579.4,378.3 1579.6,375.9 1579.9,373.6 1580.2,371.2 1580.5,368.8 1580.8,366.4 1581.0,364.0 1581.3,361.6 1581.6,359.2 1581.9,356.9 1582.2,354.5 1582.5,352.1 1582.8,349.7 1583.1,347.3 1583.4,344.9 1583.7,342.6 1584.0,340.2 1584.3,337.8 1584.6,335.4 1584.9,333.0 1585.2,330.6 1585.5,328.3 1585.8,325.9 1586.2,323.4 1586.3,322.3 1586.4,322.0 1586.5,320.6 1586.6,320.8 1586.6,319.7 1586.7,319.8 1586.8,318.6 1586.9,318.1 1587.0,317.8 1587.1,316.6 1587.1,316.3 1587.2,315.6 1587.3,316.2 1587.4,314.8 1587.5,312.5 1587.5,313.7 1587.6,313.0 1587.7,312.2 1587.8,313.0 1587.9,312.1 1588.0,308.6 1588.0,311.3 1588.1,308.5 1588.2,307.9 1588.3,307.2 1588.4,307.1 1588.5,307.8 1588.5,304.2 1588.6,305.2 1588.7,303.6 1588.8,303.7 1588.9,302.7 1589.0,303.9 1589.1,303.7 1589.1,299.8 1589.2,301.5 1589.3,297.3 1589.4,300.1 1589.5,300.8 1589.6,298.2 1589.7,303.2 1589.7,298.5 1589.8,295.1 1589.9,297.1 1590.0,294.0 1590.1,296.3 1590.2,294.2 1590.3,294.0 1590.4,286.8 1590.4,290.6 1590.5,294.1 1590.6,293.5 1590.7,293.1 1590.8,291.1 1590.9,292.7 1591.0,291.9 1591.1,290.1 1591.2,291.5 1591.2,290.2 1591.3,285.4 1591.4,288.0 1591.5,288.8 1591.6,284.5 1591.7,277.8 1591.8,282.9 1591.9,284.2 1592.0,273.9 1592.1,276.9 1592.1,277.3 1592.2,286.9 1592.3,283.2 1592.4,278.5 1592.5,282.5 1592.6,279.8 1592.7,272.0 1592.8,275.8 1592.9,280.4 1593.0,275.0 1593.1,285.4 1593.2,273.1 1593.3,272.7 1593.3,272.9 1593.4,273.4 1593.5,272.5 1593.6,277.6 1593.7,280.4 1593.8,269.8 1593.9,263.5 1594.0,267.9 1594.1,269.5 1594.2,276.0 1594.3,271.1 1594.4,267.7 1594.5,279.7 1594.6,260.9 1594.7,260.1 1594.8,272.0 1594.9,267.6 1595.0,264.1 1595.1,257.1 1595.2,264.6 1595.3,263.6 1595.4,258.0 1595.5,261.4 1595.6,252.6 1595.7,265.5 1595.8,252.8 1595.9,263.6 1596.0,252.7 1596.1,252.0 1596.2,255.5 1596.3,251.5 1596.4,259.4 1596.5,249.8 1596.6,255.1 1596.7,257.8 1596.8,258.2 1596.9,257.7 1597.0,250.8 1597.1,263.0 1597.2,250.1 1597.3,246.7 1597.5,251.3 1597.6,260.6 1597.7,238.4 1597.8,244.9 1597.9,256.4 1598.0,252.5 1598.1,249.2 1598.2,237.9 1598.4,239.7 1598.5,249.6 1598.6,247.2 1598.7,247.4 1598.8,238.2 1599.0,251.0 1599.1,248.1 1599.2,241.0 1599.3,248.9 1599.5,235.5 1599.6,240.3 1599.7,239.4 1599.8,249.5 1600.0,248.3 1600.1,233.4 1600.2,243.3 1600.4,231.2 1600.5,244.6 1600.6,244.2 1600.8,238.6 1600.9,222.5 1601.0,228.4 1601.2,224.6 1601.3,232.0 1601.5,220.2 1601.6,220.3 1601.8,220.6 1601.9,238.3 1602.1,231.4 1602.2,237.1 1602.4,238.4 1602.5,228.8 1602.7,234.9 1602.8,224.5 1603.0,228.0 1603.1,216.9 1603.3,223.0 1603.4,214.0 1603.6,222.2 1603.8,233.5 1603.9,233.6 1604.1,227.3 1604.3,209.9 1604.4,231.8 1604.6,220.3 1604.8,223.1 1604.9,216.2 1605.1,224.3 1605.3,212.8 1605.5,207.3 1605.6,215.0 1605.8,208.0 1606.0,208.3 1606.2,207.1 1606.4,218.4 1606.6,217.4 1606.8,205.9 1607.0,216.3 1607.1,200.2 1607.3,221.2 1607.5,203.9 1607.7,209.8 1607.9,205.9 1608.1,216.7 1608.3,206.4 1608.5,199.4 1608.8,215.1 1609.0,207.9 1609.2,199.9 1609.4,209.9 1609.6,213.6 1609.8,209.5 1610.1,210.1 1610.3,199.2 1610.6,195.9 1610.8,191.2 1611.1,210.5 1611.4,194.6 1611.6,197.4 1611.9,207.2 1612.3,190.7 1612.6,209.5 1612.9,200.7 1613.3,191.4 1613.7,206.2 1614.1,202.9 1614.5,188.8 1614.9,198.7 1615.4,204.0 1615.8,194.0 1616.3,195.7 1616.8,208.1 1617.3,191.8 1617.8,194.8 1618.4,192.2 1618.9,201.0 1619.5,200.5 1620.0,197.0 1620.5,193.3 1621.1,194.4 1621.6,209.3 1622.1,205.7 1622.7,211.2 1623.2,195.9 1623.7,215.4 1624.2,209.8 1624.7,207.7 1625.2,213.8 1625.7,197.0 1626.3,209.6 1626.7,203.1 1627.2,197.3 1627.7,214.1 1628.2,198.1 1628.7,214.3 1629.2,204.4 1629.6,217.6 1630.1,200.3 1630.6,210.2 1631.0,221.8 1631.5,212.2 1631.9,214.5 1632.4,212.6 1632.8,214.7 1633.3,210.8 1633.7,208.2 1634.1,209.3 1634.6,221.8 1635.0,210.8 1635.4,219.5 1635.8,225.2 1636.2,225.5 1636.6,224.1 1637.0,225.6 1637.4,220.5 1637.8,218.6 1638.2,209.4 1638.6,209.2 1639.0,214.6 1639.3,219.1 1639.7,219.7 1640.1,209.7 1640.5,222.6 1640.8,218.3 1641.2,219.6 1641.5,214.1 1641.9,228.0 1642.2,228.8 1642.6,228.1 1642.9,217.3 1643.3,216.4 1643.6,232.7 1643.9,227.5 1644.2,230.6 1644.6,225.0 1644.9,227.7 1645.2,225.5 1645.5,233.5 1645.8,231.5 1646.2,227.3 1646.5,226.5 1646.8,225.2 1647.1,229.5 1647.4,231.1 1647.7,231.9 1648.0,229.8 1648.3,233.1 1648.5,234.8 1648.8,233.3 1649.1,232.5 1649.4,234.4 1649.7,233.9 1649.9,236.4 1650.2,236.8 1650.5,239.7 1650.8,237.3 1651.0,235.7 1651.3,241.8 1651.6,238.9 1651.8,237.3 1652.1,239.7 1652.3,239.9 1652.6,240.0 1652.8,241.7 1653.1,243.2 1653.3,242.7 1653.6,243.2 1654.6,245.5 1655.5,247.7 1656.5,249.9 1657.4,252.2 1658.3,254.4 1659.2,256.7 1660.0,259.0 1660.9,261.3 1661.8,263.5 1662.6,265.8 1663.5,268.1 1664.4,270.3 1665.3,272.6 1666.1,274.8 1667.0,277.1 1668.0,279.3 1668.9,281.5 1669.8,283.7 1670.7,285.9 1671.7,288.1 1672.6,290.3 1673.6,292.5 1674.6,294.7 1675.5,296.9 1676.5,299.0 1677.5,301.2 1678.5,303.3 1679.5,305.5 1680.5,307.6 1681.6,309.8 1682.6,311.9 1683.6,314.0 1684.7,316.2 1685.7,318.3 1686.8,320.4 1687.9,322.6 1689.0,324.7 1690.0,326.8 1691.1,328.9 1692.2,331.1 1693.3,333.2 1694.4,335.3 1695.5,337.4 1696.6,339.5 1697.8,341.7 1698.9,343.8 1700.0,345.9 1701.2,348.1 1702.3,350.2 1703.4,352.3 1704.6,354.5 1705.7,356.6 1706.9,358.8 1708.1,360.9 1709.2,363.1 1710.4,365.2 1711.6,367.4 1712.9,369.5 1714.1,371.6 1715.4,373.6 1716.8,375.6 1718.1,377.6 1719.6,379.5 1721.0,381.4 1722.6,383.2 1724.2,384.9 1725.9,386.6 1727.6,388.1 1729.4,389.6 1731.3,391.0 1733.3,392.3 1735.4,393.5 1737.6,394.6 1739.9,395.6 1742.2,396.4 1744.6,397.0 1747.0,397.6 1749.4,397.9 1751.7,398.0 1754.1,397.9 1756.3,397.6 1758.5,397.1 1760.6,396.3 1762.6,395.3 1764.5,394.1 1766.3,392.7 1768.0,391.1 1769.6,389.3 1771.1,387.4 1772.6,385.4 1774.0,383.3 1775.3,381.2 1776.6,378.9 1777.8,376.7 1779.0,374.4 1780.1,372.2 1781.2,369.9 1782.2,367.7 1783.3,365.4 1784.2,363.2 1785.2,360.9 1786.1,358.7 1786.9,356.4 1787.8,354.2 1788.6,351.9 1789.4,349.7 1790.1,347.4 1790.9,345.2 1791.6,342.9 1792.3,340.6 1793.0,338.4 1793.7,336.1 1794.4,333.9 1795.0,331.6 1795.7,329.3 1796.3,327.0 1797.0,324.8 1797.6,322.5 1798.2,320.2 1798.9,317.9 1799.5,315.6 1800.1,313.3 1800.8,311.0 1801.4,308.7 1802.0,306.4 1802.7,304.1 1803.3,301.8 1803.9,299.5 1804.6,297.2 1805.2,294.9 1805.8,292.6 1806.5,290.3 1807.1,288.0 1807.8,285.7 1808.4,283.4 1809.1,281.1 1809.8,278.8 1810.4,276.5 1811.1,274.2 1811.8,271.8 1812.4,269.5 1813.1,267.2 1813.8,264.9 1814.5,262.6 1815.2,260.3 1816.0,258.0 1816.7,255.7 1817.4,253.5 1818.2,251.2 1818.9,248.9 1819.7,246.6 1820.4,244.3 1821.2,242.0 1822.0,239.8 1822.8,237.5 1823.6,235.2 1824.4,233.0 1825.3,230.7 1826.1,228.5 1827.0,226.2 1827.9,224.0 1828.8,221.7 1829.7,219.5 1830.6,217.3 1831.5,215.0 1832.4,212.8 1833.4,210.6 1834.4,208.4 1835.4,206.2 1836.4,204.1 1836.6,203.5 1836.9,202.8 1837.1,202.1 1837.4,201.4 1837.7,201.9 1837.9,200.8 1838.2,200.4 1838.4,199.1 1838.7,199.5 1839.0,198.4 1839.2,197.7 1839.5,199.3 1839.8,194.4 1840.0,196.4 1840.3,194.4 1840.6,195.4 1840.9,195.2 1841.1,193.0 1841.4,191.2 1841.7,192.4 1842.0,194.8 1842.2,194.3 1842.5,191.1 1842.8,189.2 1843.1,190.3 1843.4,189.4 1843.7,190.8 1844.0,189.5 1844.3,190.5 1844.6,187.9 1844.9,189.7 1845.3,186.8 1845.6,185.6 1845.9,187.4 1846.2,186.4 1846.6,184.0 1846.9,185.8 1847.3,184.6 1847.6,182.8 1848.0,183.9 1848.3,183.8 1848.7,181.6 1849.1,180.1 1849.5,182.4 1849.9,180.9 1850.2,178.4 1850.6,177.9 1851.1,179.2 1851.5,180.0 1851.9,177.2 1852.3,179.5 1852.8,177.1 1853.2,179.2 1853.7,175.2 1854.1,175.9 1854.6,178.0 1855.1,177.1 1855.6,174.0 1856.1,175.1 1856.6,172.4 1857.1,176.0 1857.6,175.8 1858.1,172.8 1858.6,174.5 1859.1,172.9 1859.6,174.9 1860.1,172.5 1860.7,173.0 1861.2,170.1 1861.6,172.6 1862.1,172.8 1862.6,174.5 1863.1,175.0 1863.5,172.9 1864.0,173.2 1864.4,172.3 1864.8,172.1 1865.2,174.5 1865.6,176.2 1866.0,175.2 1866.4,177.2 1866.8,176.0 1867.2,177.9 1867.5,176.1 1867.9,176.6 1868.3,179.5 1868.7,179.2 1869.1,180.8 1869.5,180.1 1869.9,179.7 1870.3,181.9 1870.7,181.3 1871.1,183.6 1871.6,183.9 1872.0,180.8 1872.4,184.7 1872.9,183.7 1873.3,184.0 1873.8,185.4 1874.2,184.1 1874.7,184.9 1875.1,186.7 1875.6,186.6 1876.1,187.0 1876.5,185.0 1877.0,186.4 1877.5,186.8 1877.9,188.6 1878.4,187.1 1878.8,188.2 1879.3,189.8 1879.8,188.3 1880.2,190.4 1880.7,189.4 1881.1,191.6 1881.6,189.7 1882.0,191.5 1882.5,191.9 1883.0,192.9 1883.4,189.2 1883.9,194.3 1884.3,196.4 1884.8,193.8 1885.2,193.8 1885.7,194.5 1886.1,194.0 1886.6,195.7 1887.0,197.9 1887.5,196.2 1888.0,195.4 1888.4,193.8 1888.9,195.4 1889.3,200.1 1889.8,199.7 1890.2,198.0 1890.7,198.2 1891.2,199.1 1891.6,199.5 1892.1,198.9 1892.6,200.4 1893.0,200.3 1893.5,202.2 1894.0,201.9 1894.5,202.9 1895.0,204.2 1895.4,201.7 1895.9,204.3 1896.4,204.7 1896.9,203.7 1897.4,202.6 1897.9,204.9 1898.4,207.4 1898.9,206.4 1899.4,204.7 1899.9,205.4 1900.3,207.8 1900.8,205.7 1901.3,205.7 1901.8,204.2 1902.3,206.2 1902.8,206.9 1903.3,205.6 1903.7,204.9 1904.2,206.6 1904.7,206.4 1905.2,205.7 1905.6,205.1 1906.1,206.2 1906.6,206.2 1907.0,206.2 1907.5,203.5 1907.9,202.1 1908.4,201.8 1908.9,202.7 1909.3,203.6 1909.8,203.4 1910.3,201.9 1910.8,202.0 1911.2,201.8 1911.7,202.2 1912.2,203.1 1912.7,203.5 1913.2,204.8 1913.7,204.1 1914.1,204.0 1914.6,203.7 1915.1,204.9 1915.6,205.1 1916.1,207.8 1916.6,205.3 1917.1,206.8 1917.6,204.8 1918.1,207.6 1918.6,206.5 1919.1,206.3 1919.6,206.5 1920.1,206.4 1920.6,208.8 1921.1,208.7 1921.6,208.4 1922.1,209.0 1922.6,210.2 1923.1,209.6 1923.6,208.9 1924.0,213.0 1924.5,209.4 1925.0,212.3 1925.5,212.8 1926.0,212.2 1926.5,212.2 1927.0,213.7 1927.5,214.9 1927.9,214.2 1928.4,217.2 1928.9,215.8 1929.4,214.9 1929.8,217.0 1930.3,215.2 1930.8,215.5 1931.2,219.8 1931.7,219.0 1932.2,215.8 1932.6,219.1 1933.0,220.7 1933.5,220.5 1933.9,220.6 1934.4,221.8 1934.8,223.0 1935.2,221.1 1935.6,220.3 1936.1,221.9 1936.5,223.3 1936.9,223.3 1937.3,221.5 1937.7,223.5 1938.1,226.1 1938.5,223.4 1938.9,223.6 1939.2,228.4 1939.6,224.4 1940.0,225.6 1940.3,228.8 1940.7,225.4 1941.0,226.4 1941.4,225.9 1941.7,227.6 1942.1,228.4 1942.4,229.7 1942.8,231.9 1943.1,232.2 1943.4,230.2 1943.7,232.2 1944.1,232.3 1944.4,230.7 1944.7,232.4 1945.0,233.8 1945.3,232.4 1945.6,235.7 1945.9,234.5 1946.2,235.0 1946.5,238.0 1946.8,234.2 1947.1,237.5 1947.4,237.0 1947.7,238.3 1947.9,239.8 1948.2,240.0 1948.5,238.6 1948.8,239.0 1949.1,241.6 1949.4,240.6 1949.6,240.6 1949.9,241.7 1950.2,243.4 1950.4,243.8 1950.7,244.5 1951.0,245.7 1951.3,243.1 1951.5,244.7 1951.8,247.2 1952.1,246.0 1952.3,247.2 1952.6,247.0 1952.9,248.9 1953.1,249.1 1953.4,250.9 1953.7,247.5 1953.9,251.3 1954.2,251.1 1954.5,251.6 1954.7,250.1 1955.0,251.5 1955.2,252.6 1955.5,252.9 1955.8,252.6 1956.0,255.5 1956.3,255.4 1956.5,255.4 1956.8,255.5 1957.1,257.5 1957.3,256.9 1957.6,259.3 1957.8,258.5 1958.1,259.3 1958.3,260.8 1958.6,260.7 1958.8,261.2 1959.1,261.1 1959.4,264.6 1959.6,264.0 1959.9,263.6 1960.1,262.9 1960.4,264.4 1960.6,264.6 1960.9,265.9 1961.1,264.1 1961.4,266.3 1961.6,266.8 1961.8,267.0 1962.1,268.9 1962.3,269.2 1962.6,268.9 1962.8,269.8 1963.1,270.0 1963.3,270.7 1964.3,273.0 1965.3,275.2 1966.2,277.4 1967.2,279.6 1968.1,281.8 1969.0,284.0 1970.0,286.2 1970.9,288.4 1971.8,290.6 1972.7,292.8 1973.7,295.0 1974.6,297.2 1975.5,299.4 1976.3,301.7 1977.2,303.9 1978.1,306.1 1979.0,308.3 1979.9,310.6 1980.8,312.8 1981.6,315.0 1982.5,317.3 1983.4,319.5 1984.2,321.7 1985.1,324.0 1986.0,326.2 1986.8,328.5 1987.7,330.7 1988.5,332.9 1989.4,335.2 1990.2,337.4 1991.1,339.7 1991.9,341.9 1992.8,344.2 1993.6,346.4 1994.5,348.7 1995.3,350.9 1996.2,353.2 1997.0,355.4 1997.9,357.7 1998.7,360.0 1999.6,362.2 2000.4,364.5 2001.3,366.7 2002.2,369.0 2003.0,371.2 2003.9,373.5 2004.7,375.7 2005.6,378.0 2006.5,380.2 2007.3,382.5 2008.2,384.7 2009.1,387.0 2010.0,389.2 2010.8,391.5 2011.7,393.7 2012.6,396.0 2013.5,398.2 2014.4,400.4 2015.3,402.7 2016.2,404.9 2017.1,407.1 2018.0,409.3 2018.9,411.6 2019.8,413.8 2020.7,416.0 2021.6,418.2 2022.6,420.4 2023.5,422.6 2024.4,424.8 2025.4,427.0 2026.3,429.2 2027.2,431.3 2028.2,433.5 2029.2,435.7 2030.1,437.8 2031.1,440.0 2032.1,442.2 2033.0,444.3 2034.0,446.4 2035.0,448.6 2036.0,450.7 2037.0,452.9 2038.1,455.0 2039.1,457.1 2040.2,459.2 2041.2,461.4 2042.3,463.5 2043.4,465.6 2044.6,467.7 2045.7,469.8 2046.8,471.9 2048.0,474.0 2049.2,476.1 2050.4,478.2 2051.6,480.3 2052.9,482.4 2054.2,484.5 2055.5,486.6 2056.8,488.7 2058.1,490.7 2059.5,492.7 2060.9,494.8 2062.3,496.8 2063.7,498.8 2065.1,500.7 2066.6,502.7 2068.1,504.6 2069.6,506.5 2071.2,508.4 2072.7,510.3 2074.3,512.1 2076.0,513.9 2077.6,515.6 2079.3,517.4 2081.0,519.1 2082.7,520.7 2084.4,522.4 2086.2,524.0 2088.0,525.5 2089.8,527.0 2091.7,528.5 2093.5,529.9 2095.5,531.3 2097.4,532.6 2099.4,533.9 2101.3,535.2 2103.4,536.4 2105.4,537.5 2107.5,538.6 2109.6,539.6 2111.7,540.6 2113.9,541.5 2116.1,542.4 2118.3,543.2 2120.6,543.9 2122.8,544.6 2125.1,545.3 2127.4,545.9 2129.8,546.5 2132.1,547.1 2134.5,547.6 2136.9,548.0 2139.3,548.4 2141.7,548.8 2144.1,549.2 2146.5,549.5 2149.0,549.8 2151.4,550.1 2153.9,550.3 2156.3,550.6 2158.8,550.8 2161.2,550.9 2163.7,551.1 2166.2,551.2 2168.6,551.3 2171.1,551.4 2173.5,551.5 2176.0,551.6 2178.4,551.7 2180.8,551.8 2183.2,551.8 2185.7,551.9 2188.0,551.9 2190.4,552.0 2192.8,552.0 2195.1,552.1 2197.5,552.1 2199.8,552.2 2202.1,552.3 2204.3,552.4 2206.6,552.5" fill="none" stroke="#c02828" stroke-width="2.9" stroke-linejoin="round" stroke-linecap="round" clip-path="url(#cc)"/><polyline points="1574.3,426.0 1574.5,423.6 1574.8,421.2 1575.0,418.9 1575.2,416.5 1575.5,414.1 1575.7,411.7 1576.0,409.3 1576.2,406.9 1576.4,404.6 1576.7,402.2 1577.0,399.8 1577.2,397.4 1577.5,395.0 1577.7,392.6 1578.0,390.2 1578.3,387.9 1578.5,385.5 1578.8,383.1 1579.1,380.7 1579.4,378.3 1579.6,375.9 1579.9,373.6 1580.2,371.2 1580.5,368.8 1580.8,366.4 1581.1,364.0 1581.3,361.6 1581.6,359.2 1581.9,356.9 1582.2,354.5 1582.5,352.1 1582.8,349.7 1583.1,347.3 1583.4,344.9 1583.7,342.6 1584.0,340.2 1584.4,337.8 1584.7,335.4 1585.0,333.0 1585.3,330.7 1585.6,328.3 1585.9,325.9 1586.2,323.6 1586.4,322.4 1586.5,321.6 1586.5,321.7 1586.6,320.0 1586.7,320.0 1586.8,319.7 1586.9,319.1 1586.9,318.5 1587.0,317.0 1587.1,318.0 1587.2,316.0 1587.3,315.8 1587.4,315.2 1587.4,314.6 1587.5,313.6 1587.6,314.7 1587.7,312.9 1587.8,313.1 1587.8,310.2 1587.9,311.6 1588.0,310.2 1588.1,310.3 1588.2,309.5 1588.2,309.2 1588.3,308.0 1588.4,307.6 1588.5,307.1 1588.6,306.6 1588.6,305.8 1588.7,304.6 1588.8,305.2 1588.9,302.7 1589.0,306.5 1589.1,304.1 1589.1,304.6 1589.2,301.4 1589.3,298.8 1589.4,297.8 1589.5,298.4 1589.5,298.0 1589.6,297.9 1589.7,297.3 1589.8,298.6 1589.9,292.1 1590.0,299.6 1590.0,294.9 1590.1,295.3 1590.2,290.6 1590.3,294.4 1590.4,290.0 1590.5,293.8 1590.5,292.7 1590.6,291.9 1590.7,290.4 1590.8,289.6 1590.9,288.9 1591.0,291.4 1591.0,288.7 1591.1,288.5 1591.2,293.7 1591.3,287.0 1591.4,283.6 1591.5,279.3 1591.5,278.0 1591.6,284.7 1591.7,286.3 1591.8,280.1 1591.9,279.1 1592.0,281.4 1592.0,281.8 1592.1,283.7 1592.2,279.8 1592.3,277.5 1592.4,281.2 1592.5,275.3 1592.5,273.1 1592.6,273.5 1592.7,275.5 1592.8,274.6 1592.9,275.4 1593.0,275.0 1593.0,282.4 1593.1,275.1 1593.2,265.5 1593.3,267.4 1593.4,272.5 1593.5,268.2 1593.5,278.6 1593.6,268.4 1593.7,268.0 1593.8,269.3 1593.9,267.4 1594.0,269.8 1594.0,266.1 1594.1,267.7 1594.2,263.5 1594.3,255.1 1594.4,266.4 1594.5,270.8 1594.6,259.7 1594.7,260.7 1594.7,265.7 1594.8,259.6 1594.9,261.7 1595.0,259.6 1595.1,262.6 1595.2,258.9 1595.3,267.6 1595.4,258.5 1595.5,256.5 1595.5,250.7 1595.6,256.9 1595.7,251.6 1595.8,258.2 1595.9,257.3 1596.0,266.1 1596.1,249.9 1596.2,253.6 1596.3,257.3 1596.4,242.2 1596.5,254.3 1596.6,259.5 1596.7,250.3 1596.8,249.3 1596.9,254.9 1597.0,249.6 1597.1,249.1 1597.2,251.4 1597.3,242.5 1597.5,255.8 1597.6,243.5 1597.7,244.7 1597.8,242.1 1597.9,229.8 1598.0,234.2 1598.1,240.4 1598.2,241.7 1598.4,247.5 1598.5,255.1 1598.6,244.1 1598.7,238.8 1598.8,235.1 1599.0,246.3 1599.1,234.0 1599.2,236.9 1599.4,244.4 1599.5,235.1 1599.6,234.5 1599.8,235.6 1599.9,224.2 1600.0,227.1 1600.2,224.7 1600.3,236.8 1600.5,240.2 1600.6,228.7 1600.7,230.0 1600.9,232.7 1601.0,229.8 1601.2,221.4 1601.3,223.7 1601.5,221.8 1601.7,221.0 1601.8,218.3 1602.0,223.7 1602.1,219.7 1602.3,231.6 1602.5,220.6 1602.6,232.7 1602.8,229.1 1603.0,217.8 1603.2,214.9 1603.3,222.6 1603.5,220.1 1603.7,220.7 1603.9,212.0 1604.1,219.5 1604.2,223.4 1604.4,216.6 1604.6,212.3 1604.8,224.9 1605.0,211.9 1605.2,225.1 1605.4,218.5 1605.6,204.4 1605.8,212.6 1606.0,206.1 1606.3,218.1 1606.5,210.3 1606.7,203.1 1606.9,219.6 1607.1,216.0 1607.4,211.6 1607.6,210.3 1607.8,200.0 1608.1,217.2 1608.3,203.3 1608.5,207.1 1608.8,205.9 1609.0,205.1 1609.3,195.7 1609.6,212.3 1609.9,204.0 1610.2,201.7 1610.5,210.4 1610.8,210.0 1611.1,206.9 1611.4,210.3 1611.8,199.2 1612.1,194.3 1612.5,198.8 1612.9,203.6 1613.3,207.1 1613.7,206.1 1614.1,204.1 1614.6,203.6 1615.1,205.1 1615.5,203.5 1616.0,193.0 1616.6,203.6 1617.1,198.7 1617.6,195.2 1618.1,206.0 1618.7,210.8 1619.2,200.6 1619.8,208.4 1620.3,208.0 1620.9,209.5 1621.4,213.6 1622.0,210.7 1622.5,199.5 1623.0,210.0 1623.6,205.4 1624.1,207.1 1624.6,212.3 1625.1,203.3 1625.6,212.2 1626.1,218.4 1626.7,202.7 1627.2,217.6 1627.7,215.3 1628.2,210.0 1628.6,217.1 1629.1,204.7 1629.6,206.6 1630.1,222.5 1630.6,215.9 1631.1,207.9 1631.5,207.6 1632.0,213.8 1632.4,216.0 1632.9,224.6 1633.3,210.2 1633.8,218.8 1634.2,215.7 1634.7,218.2 1635.1,225.6 1635.5,211.0 1635.9,224.5 1636.4,223.0 1636.8,215.0 1637.2,212.7 1637.6,224.5 1638.0,226.9 1638.4,218.1 1638.8,214.8 1639.2,222.7 1639.5,225.3 1639.9,220.1 1640.3,221.5 1640.7,216.7 1641.0,218.0 1641.4,219.9 1641.8,229.0 1642.1,219.6 1642.5,221.3 1642.8,225.8 1643.2,222.7 1643.5,223.7 1643.9,230.8 1644.2,227.8 1644.5,229.1 1644.9,233.7 1645.2,233.2 1645.5,232.2 1645.8,229.5 1646.1,227.9 1646.4,231.9 1646.8,232.7 1647.1,232.1 1647.4,235.8 1647.7,235.7 1648.0,235.6 1648.3,233.8 1648.6,235.1 1648.8,233.0 1649.1,232.0 1649.4,236.1 1649.7,235.4 1650.0,239.6 1650.3,235.1 1650.5,242.0 1650.8,238.3 1651.1,240.1 1651.3,237.8 1651.6,240.9 1651.9,240.6 1652.1,242.5 1652.4,243.0 1652.6,242.9 1652.9,243.2 1653.2,244.0 1653.4,244.7 1654.4,246.8 1655.4,249.0 1656.3,251.2 1657.2,253.5 1658.1,255.7 1659.0,258.0 1659.9,260.3 1660.7,262.5 1661.6,264.8 1662.4,267.1 1663.3,269.4 1664.2,271.6 1665.0,273.9 1665.9,276.2 1666.8,278.4 1667.7,280.6 1668.6,282.9 1669.5,285.1 1670.4,287.3 1671.4,289.5 1672.3,291.7 1673.3,293.9 1674.2,296.1 1675.2,298.2 1676.2,300.4 1677.2,302.6 1678.2,304.7 1679.2,306.9 1680.2,309.0 1681.2,311.2 1682.3,313.3 1683.3,315.4 1684.3,317.6 1685.4,319.7 1686.5,321.8 1687.5,324.0 1688.6,326.1 1689.7,328.2 1690.8,330.3 1691.8,332.5 1692.9,334.6 1694.0,336.7 1695.2,338.8 1696.3,340.9 1697.4,343.1 1698.5,345.2 1699.6,347.3 1700.8,349.5 1701.9,351.6 1703.1,353.7 1704.2,355.9 1705.4,358.0 1706.5,360.2 1707.7,362.3 1708.8,364.5 1710.0,366.6 1711.2,368.7 1712.4,370.9 1713.7,373.0 1715.0,375.0 1716.3,377.0 1717.7,379.0 1719.1,381.0 1720.5,382.8 1722.1,384.7 1723.6,386.4 1725.3,388.1 1727.0,389.7 1728.8,391.2 1730.7,392.7 1732.7,394.0 1734.7,395.2 1736.9,396.3 1739.1,397.4 1741.5,398.2 1743.8,399.0 1746.2,399.5 1748.6,399.9 1751.0,400.1 1753.4,400.1 1755.6,399.9 1757.9,399.4 1760.0,398.7 1762.0,397.8 1763.9,396.6 1765.7,395.3 1767.4,393.7 1769.0,392.0 1770.6,390.1 1772.0,388.2 1773.5,386.1 1774.8,383.9 1776.1,381.7 1777.3,379.5 1778.5,377.2 1779.6,375.0 1780.7,372.7 1781.8,370.5 1782.8,368.2 1783.8,366.0 1784.8,363.7 1785.7,361.5 1786.6,359.2 1787.4,357.0 1788.3,354.8 1789.1,352.5 1789.9,350.3 1790.7,348.0 1791.4,345.8 1792.2,343.5 1792.9,341.3 1793.6,339.0 1794.3,336.8 1795.0,334.5 1795.6,332.2 1796.3,330.0 1796.9,327.7 1797.6,325.4 1798.3,323.2 1798.9,320.9 1799.5,318.6 1800.2,316.3 1800.8,314.0 1801.5,311.7 1802.1,309.4 1802.7,307.1 1803.3,304.8 1804.0,302.5 1804.6,300.2 1805.2,297.9 1805.8,295.6 1806.4,293.2 1807.1,290.9 1807.7,288.6 1808.3,286.3 1808.9,284.0 1809.5,281.6 1810.1,279.3 1810.7,277.0 1811.4,274.7 1812.0,272.3 1812.6,270.0 1813.2,267.7 1813.8,265.3 1814.5,263.0 1815.1,260.7 1815.7,258.4 1816.3,256.0 1817.0,253.7 1817.6,251.4 1818.3,249.0 1818.9,246.7 1819.6,244.4 1820.2,242.1 1820.9,239.7 1821.5,237.4 1822.2,235.1 1822.9,232.8 1823.5,230.5 1824.2,228.2 1824.9,225.9 1825.6,223.5 1826.3,221.2 1827.0,218.9 1827.7,216.6 1828.4,214.3 1829.1,212.1 1829.9,209.8 1830.6,207.5 1831.4,205.2 1832.1,202.9 1832.9,200.7 1833.7,198.4 1834.4,196.1 1835.2,193.9 1836.0,191.6 1836.6,190.0 1836.8,189.4 1837.0,188.7 1837.2,188.5 1837.4,188.0 1837.7,187.5 1837.9,186.5 1838.1,186.2 1838.3,185.5 1838.5,184.8 1838.7,184.4 1838.9,183.6 1839.1,182.9 1839.3,182.8 1839.5,182.5 1839.7,181.5 1840.0,181.5 1840.2,180.8 1840.4,180.5 1840.6,179.5 1840.8,180.5 1841.0,177.6 1841.2,178.2 1841.5,179.5 1841.7,176.7 1841.9,177.8 1842.1,173.1 1842.3,174.6 1842.6,173.1 1842.8,173.4 1843.0,173.9 1843.2,171.5 1843.4,172.6 1843.7,172.3 1843.9,170.7 1844.1,169.9 1844.4,168.1 1844.6,168.5 1844.8,167.5 1845.1,169.0 1845.3,167.9 1845.6,165.6 1845.9,166.5 1846.2,168.2 1846.4,165.2 1846.7,165.3 1847.1,165.3 1847.4,164.1 1847.7,163.4 1848.1,163.5 1848.4,162.3 1848.8,160.2 1849.2,160.3 1849.6,161.6 1850.0,161.0 1850.5,158.9 1850.9,158.4 1851.4,160.7 1851.9,159.0 1852.4,159.0 1852.9,156.1 1853.5,157.5 1854.0,157.4 1854.6,155.8 1855.2,155.6 1855.7,154.9 1856.3,156.8 1856.9,154.6 1857.5,154.9 1858.1,154.0 1858.7,154.8 1859.3,155.5 1859.8,153.1 1860.4,157.3 1861.0,155.6 1861.5,155.5 1862.0,156.9 1862.6,156.0 1863.1,157.1 1863.6,155.3 1864.1,157.5 1864.6,157.9 1865.1,158.1 1865.6,156.7 1866.1,158.6 1866.6,158.3 1867.1,159.0 1867.5,157.1 1868.0,159.0 1868.5,160.2 1869.0,159.1 1869.5,161.4 1870.0,160.3 1870.6,162.4 1871.1,163.5 1871.6,162.3 1872.1,163.6 1872.6,163.0 1873.1,161.7 1873.7,163.8 1874.2,164.4 1874.7,163.8 1875.2,162.5 1875.7,166.0 1876.3,163.5 1876.8,164.6 1877.3,167.1 1877.8,167.3 1878.3,164.1 1878.8,166.6 1879.3,165.9 1879.8,166.6 1880.3,167.6 1880.8,167.9 1881.3,165.8 1881.8,167.0 1882.3,167.8 1882.7,166.9 1883.2,169.8 1883.7,171.6 1884.1,170.0 1884.6,169.2 1885.0,167.9 1885.5,172.2 1885.9,170.8 1886.3,171.4 1886.7,173.4 1887.1,171.1 1887.6,173.4 1888.0,173.6 1888.4,175.3 1888.7,172.9 1889.1,175.3 1889.5,178.6 1889.9,176.8 1890.3,176.3 1890.7,176.6 1891.0,176.2 1891.4,178.1 1891.8,178.4 1892.1,180.4 1892.5,181.4 1892.9,181.6 1893.3,182.4 1893.6,182.5 1894.0,181.9 1894.4,182.3 1894.8,184.8 1895.2,183.4 1895.5,185.0 1895.9,184.3 1896.3,187.7 1896.7,185.5 1897.1,187.9 1897.5,185.3 1897.9,186.1 1898.3,187.0 1898.8,189.0 1899.2,185.1 1899.6,185.8 1900.1,188.5 1900.5,186.6 1901.0,186.7 1901.4,189.7 1901.9,187.3 1902.4,189.0 1902.9,189.2 1903.3,187.2 1903.8,187.6 1904.2,187.4 1904.7,186.4 1905.1,188.1 1905.4,187.3 1905.8,186.2 1906.1,184.2 1906.4,184.8 1906.7,186.0 1906.9,183.4 1907.2,181.6 1907.4,183.8 1907.7,183.1 1908.0,181.4 1908.2,182.1 1908.5,181.6 1908.9,181.7 1909.2,180.7 1909.6,180.5 1910.0,178.9 1910.5,180.5 1911.0,177.9 1911.5,178.1 1912.0,181.3 1912.6,179.7 1913.1,180.0 1913.7,182.2 1914.3,179.3 1914.9,181.6 1915.5,183.2 1916.1,180.7 1916.6,184.1 1917.2,182.0 1917.8,182.9 1918.3,179.6 1918.9,183.0 1919.4,181.5 1920.0,182.3 1920.5,181.4 1921.1,183.3 1921.6,184.6 1922.1,184.6 1922.6,185.0 1923.1,186.3 1923.6,184.9 1924.1,185.5 1924.6,188.4 1925.1,187.0 1925.5,186.2 1926.0,187.6 1926.5,189.9 1926.9,190.2 1927.4,189.5 1927.8,191.4 1928.3,190.4 1928.7,191.4 1929.2,191.4 1929.6,191.8 1930.0,190.0 1930.4,192.3 1930.8,193.0 1931.3,194.4 1931.7,193.3 1932.1,195.4 1932.5,195.0 1932.8,195.6 1933.2,193.9 1933.6,195.5 1934.0,197.7 1934.4,194.8 1934.7,199.4 1935.1,197.9 1935.5,197.4 1935.8,197.0 1936.2,197.7 1936.5,199.8 1936.9,200.7 1937.2,199.0 1937.6,200.3 1937.9,200.2 1938.2,202.7 1938.6,201.0 1938.9,202.0 1939.2,204.4 1939.6,204.7 1939.9,205.0 1940.2,205.7 1940.5,207.0 1940.8,205.2 1941.1,207.2 1941.4,206.0 1941.7,207.7 1942.0,208.6 1942.3,209.0 1942.6,206.8 1942.9,209.6 1943.2,209.3 1943.5,210.9 1943.8,208.7 1944.1,211.3 1944.4,213.6 1944.7,213.6 1945.0,213.2 1945.2,212.7 1945.5,212.7 1945.8,212.5 1946.1,214.4 1946.4,215.3 1946.6,216.5 1946.9,216.4 1947.2,218.4 1947.4,216.9 1947.7,218.6 1948.0,220.0 1948.3,218.2 1948.5,220.7 1948.8,219.2 1949.1,222.0 1949.3,222.2 1949.6,223.7 1949.8,224.3 1950.1,222.0 1950.4,225.7 1950.6,226.4 1950.9,223.6 1951.1,225.1 1951.4,225.4 1951.6,227.9 1951.9,227.9 1952.1,228.5 1952.4,226.0 1952.6,229.2 1952.9,229.6 1953.1,228.5 1953.4,231.3 1953.6,230.2 1953.8,233.2 1954.1,232.3 1954.3,230.4 1954.6,233.9 1954.8,233.5 1955.0,234.8 1955.3,234.7 1955.5,233.8 1955.7,234.7 1956.0,237.2 1956.2,237.7 1956.4,237.1 1956.7,237.0 1956.9,239.0 1957.1,239.5 1957.4,239.3 1957.6,240.0 1957.8,241.5 1958.0,242.3 1958.3,241.6 1958.5,242.5 1958.7,242.7 1958.9,244.6 1959.2,244.2 1959.4,246.8 1959.6,243.3 1959.8,246.4 1960.0,249.1 1960.2,245.9 1960.5,247.7 1960.7,249.7 1960.9,248.9 1961.1,249.5 1961.3,249.2 1961.5,249.7 1961.7,251.3 1961.9,252.0 1962.2,251.9 1962.4,252.0 1962.6,253.9 1962.8,254.2 1963.0,254.7 1963.2,254.9 1963.4,255.4 1964.2,257.7 1965.0,260.0 1965.8,262.3 1966.6,264.5 1967.4,266.8 1968.1,269.1 1968.9,271.4 1969.6,273.6 1970.4,275.9 1971.1,278.2 1971.9,280.5 1972.6,282.8 1973.3,285.1 1974.0,287.4 1974.8,289.7 1975.5,292.0 1976.2,294.3 1976.9,296.6 1977.6,298.9 1978.3,301.2 1979.0,303.5 1979.7,305.8 1980.4,308.1 1981.1,310.4 1981.9,312.7 1982.6,315.0 1983.3,317.3 1984.0,319.6 1984.7,321.9 1985.5,324.2 1986.2,326.5 1986.9,328.8 1987.7,331.1 1988.4,333.4 1989.2,335.6 1990.0,337.9 1990.7,340.2 1991.5,342.5 1992.3,344.7 1993.1,347.0 1993.9,349.2 1994.8,351.5 1995.6,353.7 1996.5,355.9 1997.3,358.2 1998.2,360.4 1999.1,362.6 1999.9,364.8 2000.8,367.1 2001.7,369.3 2002.6,371.5 2003.5,373.7 2004.4,375.9 2005.3,378.1 2006.2,380.3 2007.2,382.5 2008.1,384.8 2009.0,387.0 2009.9,389.2 2010.8,391.4 2011.7,393.7 2012.6,395.9 2013.5,398.1 2014.3,400.4 2015.2,402.6 2016.1,404.9 2017.0,407.1 2017.8,409.4 2018.6,411.7 2019.5,413.9 2020.3,416.2 2021.2,418.5 2022.0,420.8 2022.8,423.0 2023.7,425.3 2024.5,427.6 2025.4,429.8 2026.2,432.1 2027.1,434.3 2028.0,436.5 2028.9,438.7 2029.9,440.9 2030.8,443.1 2031.8,445.3 2032.8,447.4 2033.8,449.5 2034.8,451.7 2035.8,453.8 2036.9,455.9 2038.0,458.0 2039.1,460.1 2040.2,462.2 2041.3,464.2 2042.4,466.3 2043.6,468.4 2044.8,470.5 2045.9,472.5 2047.1,474.6 2048.4,476.7 2049.6,478.8 2050.8,480.8 2052.1,482.9 2053.4,485.0 2054.7,487.0 2056.0,489.1 2057.3,491.2 2058.7,493.2 2060.1,495.2 2061.5,497.2 2062.9,499.2 2064.3,501.2 2065.8,503.2 2067.2,505.1 2068.7,507.0 2070.2,508.9 2071.8,510.8 2073.4,512.7 2074.9,514.5 2076.6,516.3 2078.2,518.0 2079.9,519.8 2081.5,521.5 2083.2,523.1 2085.0,524.8 2086.8,526.3 2088.5,527.9 2090.4,529.4 2092.2,530.8 2094.1,532.3 2096.0,533.6 2097.9,535.0 2099.9,536.2 2101.9,537.4 2103.9,538.6 2106.0,539.7 2108.1,540.8 2110.2,541.8 2112.4,542.7 2114.5,543.6 2116.8,544.4 2119.0,545.2 2121.3,545.9 2123.6,546.6 2125.9,547.2 2128.2,547.8 2130.6,548.4 2132.9,548.9 2135.3,549.3 2137.7,549.8 2140.2,550.2 2142.6,550.5 2145.0,550.8 2147.5,551.1 2149.9,551.4 2152.4,551.6 2154.9,551.8 2157.4,552.0 2159.8,552.2 2162.3,552.3 2164.8,552.5 2167.3,552.6 2169.7,552.7 2172.2,552.8 2174.7,552.9 2177.1,553.0 2179.5,553.0 2182.0,553.1 2184.4,553.2 2186.8,553.2 2189.1,553.3 2191.5,553.3 2193.8,553.4 2196.2,553.5 2198.5,553.6 2200.7,553.7 2203.0,553.8 2205.2,553.9 2206.9,554.0" fill="none" stroke="#161616" stroke-width="2.9" stroke-linejoin="round" stroke-linecap="round" clip-path="url(#cct)"/><polyline points="1612.0,195.0 1612.6,182.5 1613.4,182.5 1614.0,195.0" fill="none" stroke="#c02828" stroke-width="2.6" stroke-linejoin="round" stroke-linecap="round" /><polyline points="1908.5,183.0 1909.0,174.0 1909.8,174.0 1910.3,183.0" fill="none" stroke="#161616" stroke-width="2.6" stroke-linejoin="round" stroke-linecap="round" /><g stroke="#222" stroke-width="2.6" stroke-linecap="butt"><line x1="1605.8" y1="608.6" x2="1605.8" y2="602.1"/><line x1="1605.8" y1="62.3" x2="1605.8" y2="68.8"/><line x1="1637.4" y1="608.6" x2="1637.4" y2="602.1"/><line x1="1637.4" y1="62.3" x2="1637.4" y2="68.8"/><line x1="1669.1" y1="608.6" x2="1669.1" y2="602.1"/><line x1="1669.1" y1="62.3" x2="1669.1" y2="68.8"/><line x1="1700.8" y1="608.6" x2="1700.8" y2="602.1"/><line x1="1700.8" y1="62.3" x2="1700.8" y2="68.8"/><line x1="1732.4" y1="608.6" x2="1732.4" y2="597.6"/><line x1="1732.4" y1="62.3" x2="1732.4" y2="73.3"/><line x1="1764.1" y1="608.6" x2="1764.1" y2="602.1"/><line x1="1764.1" y1="62.3" x2="1764.1" y2="68.8"/><line x1="1795.8" y1="608.6" x2="1795.8" y2="602.1"/><line x1="1795.8" y1="62.3" x2="1795.8" y2="68.8"/><line x1="1827.5" y1="608.6" x2="1827.5" y2="602.1"/><line x1="1827.5" y1="62.3" x2="1827.5" y2="68.8"/><line x1="1859.1" y1="608.6" x2="1859.1" y2="602.1"/><line x1="1859.1" y1="62.3" x2="1859.1" y2="68.8"/><line x1="1890.8" y1="608.6" x2="1890.8" y2="597.6"/><line x1="1890.8" y1="62.3" x2="1890.8" y2="73.3"/><line x1="1922.5" y1="608.6" x2="1922.5" y2="602.1"/><line x1="1922.5" y1="62.3" x2="1922.5" y2="68.8"/><line x1="1954.1" y1="608.6" x2="1954.1" y2="602.1"/><line x1="1954.1" y1="62.3" x2="1954.1" y2="68.8"/><line x1="1985.8" y1="608.6" x2="1985.8" y2="602.1"/><line x1="1985.8" y1="62.3" x2="1985.8" y2="68.8"/><line x1="2017.5" y1="608.6" x2="2017.5" y2="602.1"/><line x1="2017.5" y1="62.3" x2="2017.5" y2="68.8"/><line x1="2049.2" y1="608.6" x2="2049.2" y2="597.6"/><line x1="2049.2" y1="62.3" x2="2049.2" y2="73.3"/><line x1="2080.8" y1="608.6" x2="2080.8" y2="602.1"/><line x1="2080.8" y1="62.3" x2="2080.8" y2="68.8"/><line x1="2112.5" y1="608.6" x2="2112.5" y2="602.1"/><line x1="2112.5" y1="62.3" x2="2112.5" y2="68.8"/><line x1="2144.2" y1="608.6" x2="2144.2" y2="602.1"/><line x1="2144.2" y1="62.3" x2="2144.2" y2="68.8"/><line x1="2175.8" y1="608.6" x2="2175.8" y2="602.1"/><line x1="2175.8" y1="62.3" x2="2175.8" y2="68.8"/><line x1="1574.1" y1="586.7" x2="1580.6" y2="586.7"/><line x1="2207.5" y1="586.7" x2="2201.0" y2="586.7"/><line x1="1574.1" y1="564.9" x2="1580.6" y2="564.9"/><line x1="2207.5" y1="564.9" x2="2201.0" y2="564.9"/><line x1="1574.1" y1="543.0" x2="1580.6" y2="543.0"/><line x1="2207.5" y1="543.0" x2="2201.0" y2="543.0"/><line x1="1574.1" y1="521.2" x2="1580.6" y2="521.2"/><line x1="2207.5" y1="521.2" x2="2201.0" y2="521.2"/><line x1="1574.1" y1="499.3" x2="1585.1" y2="499.3"/><line x1="2207.5" y1="499.3" x2="2196.5" y2="499.3"/><line x1="1574.1" y1="477.5" x2="1580.6" y2="477.5"/><line x1="2207.5" y1="477.5" x2="2201.0" y2="477.5"/><line x1="1574.1" y1="455.6" x2="1580.6" y2="455.6"/><line x1="2207.5" y1="455.6" x2="2201.0" y2="455.6"/><line x1="1574.1" y1="433.8" x2="1580.6" y2="433.8"/><line x1="2207.5" y1="433.8" x2="2201.0" y2="433.8"/><line x1="1574.1" y1="411.9" x2="1580.6" y2="411.9"/><line x1="2207.5" y1="411.9" x2="2201.0" y2="411.9"/><line x1="1574.1" y1="390.1" x2="1585.1" y2="390.1"/><line x1="2207.5" y1="390.1" x2="2196.5" y2="390.1"/><line x1="1574.1" y1="368.2" x2="1580.6" y2="368.2"/><line x1="2207.5" y1="368.2" x2="2201.0" y2="368.2"/><line x1="1574.1" y1="346.4" x2="1580.6" y2="346.4"/><line x1="2207.5" y1="346.4" x2="2201.0" y2="346.4"/><line x1="1574.1" y1="324.5" x2="1580.6" y2="324.5"/><line x1="2207.5" y1="324.5" x2="2201.0" y2="324.5"/><line x1="1574.1" y1="302.7" x2="1580.6" y2="302.7"/><line x1="2207.5" y1="302.7" x2="2201.0" y2="302.7"/><line x1="1574.1" y1="280.8" x2="1585.1" y2="280.8"/><line x1="2207.5" y1="280.8" x2="2196.5" y2="280.8"/><line x1="1574.1" y1="259.0" x2="1580.6" y2="259.0"/><line x1="2207.5" y1="259.0" x2="2201.0" y2="259.0"/><line x1="1574.1" y1="237.1" x2="1580.6" y2="237.1"/><line x1="2207.5" y1="237.1" x2="2201.0" y2="237.1"/><line x1="1574.1" y1="215.3" x2="1580.6" y2="215.3"/><line x1="2207.5" y1="215.3" x2="2201.0" y2="215.3"/><line x1="1574.1" y1="193.4" x2="1580.6" y2="193.4"/><line x1="2207.5" y1="193.4" x2="2201.0" y2="193.4"/><line x1="1574.1" y1="171.6" x2="1585.1" y2="171.6"/><line x1="2207.5" y1="171.6" x2="2196.5" y2="171.6"/><line x1="1574.1" y1="149.7" x2="1580.6" y2="149.7"/><line x1="2207.5" y1="149.7" x2="2201.0" y2="149.7"/><line x1="1574.1" y1="127.9" x2="1580.6" y2="127.9"/><line x1="2207.5" y1="127.9" x2="2201.0" y2="127.9"/><line x1="1574.1" y1="106.0" x2="1580.6" y2="106.0"/><line x1="2207.5" y1="106.0" x2="2201.0" y2="106.0"/><line x1="1574.1" y1="84.2" x2="1580.6" y2="84.2"/><line x1="2207.5" y1="84.2" x2="2201.0" y2="84.2"/></g><rect x="1574.1" y="62.3" width="633.4" height="546.3" rx="2.5" fill="none" stroke="#222" stroke-width="2.8000000000000003"/><g font-family="Liberation Serif, serif" font-weight="bold" font-size="25.5" fill="#1a1a1a"><text transform="translate(1562.4,615.0) scale(0.955,1)" text-anchor="end">0</text><text transform="translate(1562.4,505.8) scale(0.955,1)" text-anchor="end">1</text><text transform="translate(1562.4,396.5) scale(0.955,1)" text-anchor="end">2</text><text transform="translate(1562.4,287.2) scale(0.955,1)" text-anchor="end">3</text><text transform="translate(1562.4,178.0) scale(0.955,1)" text-anchor="end">4</text><text transform="translate(1562.4,68.7) scale(0.955,1)" text-anchor="end">5</text><text transform="translate(1574.1,641.0) scale(0.955,1)" text-anchor="middle">200</text><text transform="translate(1732.4,641.0) scale(0.955,1)" text-anchor="middle">250</text><text transform="translate(1890.8,641.0) scale(0.955,1)" text-anchor="middle">300</text><text transform="translate(2049.2,641.0) scale(0.955,1)" text-anchor="middle">350</text><text transform="translate(2207.5,641.0) scale(0.955,1)" text-anchor="middle">400</text><text transform="translate(1890.9,679.2) scale(0.95,1)" text-anchor="middle" font-size="25.5">Wavelength (nm)</text><text transform="translate(1515.5,333.8) rotate(-90) scale(0.96,1)" text-anchor="middle" font-size="25">Absorbance (a.u.)</text></g><text x="1872.5" y="40" text-anchor="middle" font-family="Liberation Sans, sans-serif" font-size="30.5" fill="#111" stroke="#111" stroke-width="0.9" textLength="32.5" lengthAdjust="spacingAndGlyphs">(c)</text><g stroke-width="3.6" stroke-linecap="round"><line x1="903" y1="774.2" x2="958" y2="774.2" stroke="#2020b0"/><line x1="903" y1="818" x2="958" y2="818" stroke="#181818"/><line x1="1231" y1="774.2" x2="1286" y2="774.2" stroke="#9438c4"/><line x1="1231" y1="818" x2="1286" y2="818" stroke="#a02c30"/></g><g font-family="Liberation Serif, serif" font-weight="bold" font-size="33"><text transform="translate(980.3,783.6) scale(1.17,1)" fill="#1414a0">0</text><text y="783.6" fill="#1414a0"><tspan x="1002">h</tspan></text><text y="825.8" fill="#151515"><tspan x="983.5">1</tspan><tspan x="1002">h</tspan></text><text y="783.6" fill="#8424c0"><tspan x="1306.5">2</tspan><tspan x="1328.5">h</tspan></text><text y="825.8" fill="#c01818"><tspan x="1306.5">3</tspan><tspan x="1328.5">h</tspan></text></g>
</svg>
</body></html>
